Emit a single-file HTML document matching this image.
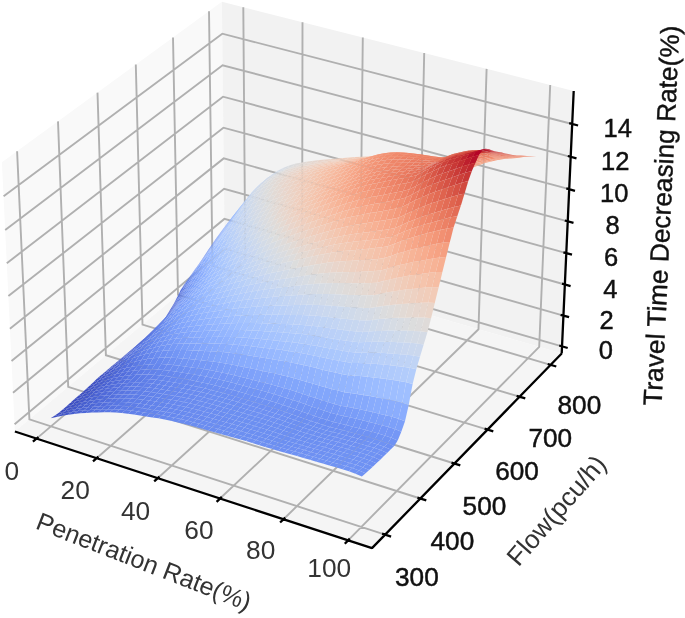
<!DOCTYPE html>
<html><head><meta charset="utf-8"><style>
html,body{margin:0;padding:0;background:#fff;}
svg{display:block;filter:blur(0.45px);}
text{font-family:"Liberation Sans",sans-serif;}
</style></head><body>
<svg width="685" height="618" viewBox="0 0 685 618">
<polygon points="14.9,431.5 224.8,255.6 221.9,1.8 1.9,162.3" fill="#f9f9f9"/>
<polygon points="224.8,255.6 561.7,353.5 573.7,91 221.9,1.8" fill="#f2f2f2"/>
<polygon points="14.9,431.5 372,548.1 561.7,353.5 224.8,255.6" fill="#f5f5f5"/>
<path d="M36.5 438.6L245.3 261.5L243.3 7.2M96.6 458.2L302.1 278L302.5 22.2M157.7 478.2L359.9 294.8L362.8 37.5M220 498.5L418.7 311.9L424.2 53M283.5 519.2L478.5 329.3L486.6 68.9M348.1 540.3L539.2 346.9L550.2 85M17.1 151.2L29.4 419.4L385.1 534.7M58 121.4L68.2 386.8L420.3 498.5M97.5 92.6L105.9 355.2L454.4 463.5M135.8 64.6L142.5 324.6L487.5 429.6M173 37.5L178 294.8L519.5 396.7M209 11.2L212.5 265.9L550.6 364.9M562 346.4L224.8 248.7L14.6 424.2M563.4 315.6L224.4 218.9L13 392.7M564.8 284.5L224.1 188.8L11.5 360.9M566.3 253.1L223.7 158.4L9.9 328.7M567.7 221.3L223.4 127.7L8.4 296.1M569.2 189.2L223 96.7L6.8 263.2M570.7 156.8L222.6 65.3L5.2 229.9M572.2 124L222.3 33.7L3.6 196.2" fill="none" stroke="#b0b0b0" stroke-width="1.9"/>
<path d="M14.9 431.5L372 548.1M38.4 437L32.9 441.7M98.4 456.6L93 461.3M159.5 476.6L154.2 481.4M221.8 496.9L216.6 501.8M285.2 517.6L280.1 522.5M349.8 538.6L344.8 543.7M561.7 353.5L372 548.1M382.1 533.7L391.1 536.6M417.4 497.6L426.3 500.4M451.5 462.6L460.3 465.4M484.6 428.7L493.3 431.4M516.6 395.9L525.3 398.4M547.7 364L556.3 366.5M561.7 353.5L573.7 91M559.2 345.5L567.7 348M560.6 314.8L569.1 317.2M562 283.7L570.6 286.1M563.4 252.3L572 254.7M564.8 220.5L573.5 222.9M566.3 188.4L575 190.8M567.8 156L576.5 158.3M569.2 123.2L578.1 125.5" fill="none" stroke="#000" stroke-width="2.3"/>
<g stroke="rgba(255,255,255,0.0)" stroke-width="0"><path d="M229.1 221.6L234.7 214.3L238.1 210.4L232.5 217.7Z" fill="#81a4fb"/><path d="M225.7 225.8L231.3 218.5L234.7 214.3L229.1 221.6Z" fill="#7ea1fa"/><path d="M234.7 214.3L240.4 207.2L243.8 203.2L238.1 210.4Z" fill="#8db0fe"/><path d="M222.3 230.1L227.9 222.8L231.3 218.5L225.7 225.8Z" fill="#7da0f9"/><path d="M231.3 218.5L237 211.3L240.4 207.2L234.7 214.3Z" fill="#8caffe"/><path d="M218.8 234.7L224.5 227.4L227.9 222.8L222.3 230.1Z" fill="#7a9df8"/><path d="M240.4 207.2L246.1 199.9L249.5 196L243.8 203.2Z" fill="#9bbcff"/><path d="M227.9 222.8L233.5 215.6L237 211.3L231.3 218.5Z" fill="#89acfd"/><path d="M215.4 239.5L221 232.2L224.5 227.4L218.8 234.7Z" fill="#779af7"/><path d="M237 211.3L242.6 204L246.1 199.9L240.4 207.2Z" fill="#9abbff"/><path d="M212 244.5L217.6 237.1L221 232.2L215.4 239.5Z" fill="#7597f6"/><path d="M224.5 227.4L230.1 220.2L233.5 215.6L227.9 222.8Z" fill="#88abfd"/><path d="M246.1 199.9L251.8 193L255.2 189.1L249.5 196Z" fill="#a7c5fe"/><path d="M208.5 249.6L214.2 242.2L217.6 237.1L212 244.5Z" fill="#7093f3"/><path d="M233.5 215.6L239.2 208.3L242.6 204L237 211.3Z" fill="#97b8ff"/><path d="M221 232.2L226.7 225L230.1 220.2L224.5 227.4Z" fill="#85a8fc"/><path d="M205.1 254.8L210.7 247.4L214.2 242.2L208.5 249.6Z" fill="#6e90f2"/><path d="M242.6 204L248.4 197.1L251.8 193L246.1 199.9Z" fill="#a6c4fe"/><path d="M217.6 237.1L223.2 229.9L226.7 225L221 232.2Z" fill="#81a4fb"/><path d="M230.1 220.2L235.8 212.9L239.2 208.3L233.5 215.6Z" fill="#94b6ff"/><path d="M251.8 193L257.5 187.2L260.9 183.4L255.2 189.1Z" fill="#b3cdfb"/><path d="M201.6 260L207.3 252.6L210.7 247.4L205.1 254.8Z" fill="#6a8bef"/><path d="M214.2 242.2L219.8 234.9L223.2 229.9L217.6 237.1Z" fill="#7ea1fa"/><path d="M239.2 208.3L244.9 201.4L248.4 197.1L242.6 204Z" fill="#a3c2fe"/><path d="M226.7 225L232.4 217.7L235.8 212.9L230.1 220.2Z" fill="#92b4fe"/><path d="M198.2 265L203.8 257.5L207.3 252.6L201.6 260Z" fill="#6788ee"/><path d="M248.4 197.1L254.1 191.1L257.5 187.2L251.8 193Z" fill="#b2ccfb"/><path d="M210.7 247.4L216.4 240.1L219.8 234.9L214.2 242.2Z" fill="#7b9ff9"/><path d="M223.2 229.9L228.9 222.6L232.4 217.7L226.7 225Z" fill="#8fb1fe"/><path d="M235.8 212.9L241.5 206L244.9 201.4L239.2 208.3Z" fill="#a2c1ff"/><path d="M257.5 187.2L263.3 182.1L266.7 178.6L260.9 183.4Z" fill="#bcd2f7"/><path d="M194.7 269.8L200.3 262.3L203.8 257.5L198.2 265Z" fill="#6485ec"/><path d="M207.3 252.6L212.9 245.3L216.4 240.1L210.7 247.4Z" fill="#779af7"/><path d="M244.9 201.4L250.7 195.1L254.1 191.1L248.4 197.1Z" fill="#afcafc"/><path d="M219.8 234.9L225.5 227.6L228.9 222.6L223.2 229.9Z" fill="#8caffe"/><path d="M232.4 217.7L238.1 210.7L241.5 206L235.8 212.9Z" fill="#9fbfff"/><path d="M254.1 191.1L259.9 185.5L263.3 182.1L257.5 187.2Z" fill="#bbd1f8"/><path d="M191.2 274.7L196.8 267.2L200.3 262.3L194.7 269.8Z" fill="#6282ea"/><path d="M203.8 257.5L209.4 250.1L212.9 245.3L207.3 252.6Z" fill="#7597f6"/><path d="M216.4 240.1L222 232.8L225.5 227.6L219.8 234.9Z" fill="#88abfd"/><path d="M241.5 206L247.2 199.4L250.7 195.1L244.9 201.4Z" fill="#aec9fc"/><path d="M228.9 222.6L234.6 215.6L238.1 210.7L232.4 217.7Z" fill="#9dbdff"/><path d="M263.3 182.1L269.1 177.5L272.5 174.2L266.7 178.6Z" fill="#c5d6f2"/><path d="M187.7 279.6L193.3 272.1L196.8 267.2L191.2 274.7Z" fill="#5f7fe8"/><path d="M250.7 195.1L256.4 188.6L259.9 185.5L254.1 191.1Z" fill="#bbd1f8"/><path d="M200.3 262.3L205.9 254.9L209.4 250.1L203.8 257.5Z" fill="#7295f4"/><path d="M212.9 245.3L218.6 237.9L222 232.8L216.4 240.1Z" fill="#85a8fc"/><path d="M238.1 210.7L243.8 203.9L247.2 199.4L241.5 206Z" fill="#abc8fd"/><path d="M225.5 227.6L231.2 220.6L234.6 215.6L228.9 222.6Z" fill="#98b9ff"/><path d="M259.9 185.5L265.7 180.3L269.1 177.5L263.3 182.1Z" fill="#c5d6f2"/><path d="M269.1 177.5L274.9 173.5L278.3 170.4L272.5 174.2Z" fill="#ccd9ed"/><path d="M184.2 284.6L189.8 277L193.3 272.1L187.7 279.6Z" fill="#5d7ce6"/><path d="M196.8 267.2L202.5 259.8L205.9 254.9L200.3 262.3Z" fill="#6f92f3"/><path d="M209.4 250.1L215.1 242.7L218.6 237.9L212.9 245.3Z" fill="#82a6fb"/><path d="M247.2 199.4L253 192.3L256.4 188.6L250.7 195.1Z" fill="#b9d0f9"/><path d="M222 232.8L227.7 225.8L231.2 220.6L225.5 227.6Z" fill="#96b7ff"/><path d="M234.6 215.6L240.4 208.6L243.8 203.9L238.1 210.7Z" fill="#a9c6fd"/><path d="M256.4 188.6L262.2 182.5L265.7 180.3L259.9 185.5Z" fill="#c5d6f2"/><path d="M180.7 290L186.3 282.4L189.8 277L184.2 284.6Z" fill="#5977e3"/><path d="M193.3 272.1L199 264.6L202.5 259.8L196.8 267.2Z" fill="#6c8ff1"/><path d="M205.9 254.9L211.6 247.5L215.1 242.7L209.4 250.1Z" fill="#80a3fa"/><path d="M218.6 237.9L224.3 230.8L227.7 225.8L222 232.8Z" fill="#93b5fe"/><path d="M265.7 180.3L271.5 175.9L274.9 173.5L269.1 177.5Z" fill="#ccd9ed"/><path d="M243.8 203.9L249.6 196.3L253 192.3L247.2 199.4Z" fill="#b7cff9"/><path d="M231.2 220.6L236.9 213.4L240.4 208.6L234.6 215.6Z" fill="#a6c4fe"/><path d="M274.9 173.5L280.7 170.4L284.2 167.5L278.3 170.4Z" fill="#d3dbe7"/><path d="M177.3 297L182.8 289.4L186.3 282.4L180.7 290Z" fill="#5572df"/><path d="M189.8 277L195.5 269.5L199 264.6L193.3 272.1Z" fill="#6a8bef"/><path d="M253 192.3L258.8 185.6L262.2 182.5L256.4 188.6Z" fill="#c4d5f3"/><path d="M202.5 259.8L208.1 252.3L211.6 247.5L205.9 254.9Z" fill="#7da0f9"/><path d="M215.1 242.7L220.8 235.7L224.3 230.8L218.6 237.9Z" fill="#8fb1fe"/><path d="M227.7 225.8L233.5 218.5L236.9 213.4L231.2 220.6Z" fill="#a2c1ff"/><path d="M240.4 208.6L246.1 200.5L249.6 196.3L243.8 203.9Z" fill="#b6cefa"/><path d="M173.8 303.8L179.4 296.1L182.8 289.4L177.3 297Z" fill="#4f69d9"/><path d="M262.2 182.5L268.1 177.6L271.5 175.9L265.7 180.3Z" fill="#cdd9ec"/><path d="M271.5 175.9L277.3 172.9L280.7 170.4L274.9 173.5Z" fill="#d3dbe7"/><path d="M280.7 170.4L286.6 168.1L290 165.2L284.2 167.5Z" fill="#d7dce3"/><path d="M186.3 282.4L192 274.9L195.5 269.5L189.8 277Z" fill="#6687ed"/><path d="M199 264.6L204.6 257.2L208.1 252.3L202.5 259.8Z" fill="#7a9df8"/><path d="M211.6 247.5L217.3 240.4L220.8 235.7L215.1 242.7Z" fill="#8caffe"/><path d="M224.3 230.8L230 223.5L233.5 218.5L227.7 225.8Z" fill="#9fbfff"/><path d="M249.6 196.3L255.3 189L258.8 185.6L253 192.3Z" fill="#c4d5f3"/><path d="M170.3 309.6L175.8 302L179.4 296.1L173.8 303.8Z" fill="#4b64d5"/><path d="M236.9 213.4L242.7 204.9L246.1 200.5L240.4 208.6Z" fill="#b3cdfb"/><path d="M182.8 289.4L188.5 281.8L192 274.9L186.3 282.4Z" fill="#6282ea"/><path d="M258.8 185.6L264.6 180.4L268.1 177.6L262.2 182.5Z" fill="#cdd9ec"/><path d="M286.6 168.1L292.5 166.4L295.9 163.6L290 165.2Z" fill="#dbdcde"/><path d="M277.3 172.9L283.2 170.4L286.6 168.1L280.7 170.4Z" fill="#d7dce3"/><path d="M268.1 177.6L273.9 174.4L277.3 172.9L271.5 175.9Z" fill="#d4dbe6"/><path d="M166.7 315.4L172.3 307.9L175.8 302L170.3 309.6Z" fill="#485fd1"/><path d="M195.5 269.5L201.1 262L204.6 257.2L199 264.6Z" fill="#7699f6"/><path d="M208.1 252.3L213.8 245.2L217.3 240.4L211.6 247.5Z" fill="#89acfd"/><path d="M220.8 235.7L226.5 228.4L230 223.5L224.3 230.8Z" fill="#9dbdff"/><path d="M233.5 218.5L239.2 209.8L242.7 204.9L236.9 213.4Z" fill="#b1cbfc"/><path d="M246.1 200.5L251.9 192.6L255.3 189L249.6 196.3Z" fill="#c1d4f4"/><path d="M179.4 296.1L185 288.5L188.5 281.8L182.8 289.4Z" fill="#5d7ce6"/><path d="M163.2 321.3L168.8 313.8L172.3 307.9L166.7 315.4Z" fill="#445acc"/><path d="M192 274.9L197.6 267.3L201.1 262L195.5 269.5Z" fill="#7396f5"/><path d="M255.3 189L261.2 183.4L264.6 180.4L258.8 185.6Z" fill="#cdd9ec"/><path d="M292.5 166.4L298.4 165.2L301.8 162.5L295.9 163.6Z" fill="#dedcdb"/><path d="M217.3 240.4L223 233.3L226.5 228.4L220.8 235.7Z" fill="#9abbff"/><path d="M204.6 257.2L210.3 250L213.8 245.2L208.1 252.3Z" fill="#86a9fc"/><path d="M283.2 170.4L289.1 168.6L292.5 166.4L286.6 168.1Z" fill="#dbdcde"/><path d="M230 223.5L235.7 214.9L239.2 209.8L233.5 218.5Z" fill="#adc9fd"/><path d="M175.8 302L181.5 294.4L185 288.5L179.4 296.1Z" fill="#5875e1"/><path d="M264.6 180.4L270.5 177.1L273.9 174.4L268.1 177.6Z" fill="#d4dbe6"/><path d="M273.9 174.4L279.8 171.9L283.2 170.4L277.3 172.9Z" fill="#d8dce2"/><path d="M242.7 204.9L248.4 196.7L251.9 192.6L246.1 200.5Z" fill="#c0d4f5"/><path d="M159.7 326.2L165.3 319L168.8 313.8L163.2 321.3Z" fill="#4055c8"/><path d="M188.5 281.8L194.1 274.2L197.6 267.3L192 274.9Z" fill="#6f92f3"/><path d="M213.8 245.2L219.5 238.2L223 233.3L217.3 240.4Z" fill="#97b8ff"/><path d="M201.1 262L206.8 254.8L210.3 250L204.6 257.2Z" fill="#84a7fc"/><path d="M172.3 307.9L177.9 300.4L181.5 294.4L175.8 302Z" fill="#5470de"/><path d="M298.4 165.2L304.3 164.2L307.7 161.6L301.8 162.5Z" fill="#e1dad6"/><path d="M226.5 228.4L232.2 220L235.7 214.9L230 223.5Z" fill="#aac7fd"/><path d="M251.9 192.6L257.7 186.7L261.2 183.4L255.3 189Z" fill="#ccd9ed"/><path d="M289.1 168.6L295 167.3L298.4 165.2L292.5 166.4Z" fill="#dfdbd9"/><path d="M239.2 209.8L245 201.4L248.4 196.7L242.7 204.9Z" fill="#bed2f6"/><path d="M185 288.5L190.6 280.9L194.1 274.2L188.5 281.8Z" fill="#6a8bef"/><path d="M261.2 183.4L267 180L270.5 177.1L264.6 180.4Z" fill="#d4dbe6"/><path d="M279.8 171.9L285.7 169.9L289.1 168.6L283.2 170.4Z" fill="#dcdddd"/><path d="M270.5 177.1L276.3 174.5L279.8 171.9L273.9 174.4Z" fill="#d9dce1"/><path d="M156.1 330.1L161.7 323.1L165.3 319L159.7 326.2Z" fill="#3e51c5"/><path d="M168.8 313.8L174.4 306.5L177.9 300.4L172.3 307.9Z" fill="#506bda"/><path d="M197.6 267.3L203.3 260.1L206.8 254.8L201.1 262Z" fill="#81a4fb"/><path d="M210.3 250L216 243.2L219.5 238.2L213.8 245.2Z" fill="#94b6ff"/><path d="M223 233.3L228.8 225.2L232.2 220L226.5 228.4Z" fill="#a7c5fe"/><path d="M304.3 164.2L310.2 163.3L313.6 160.8L307.7 161.6Z" fill="#e4d9d2"/><path d="M181.5 294.4L187.1 286.9L190.6 280.9L185 288.5Z" fill="#6485ec"/><path d="M248.4 196.7L254.2 190.5L257.7 186.7L251.9 192.6Z" fill="#cbd8ee"/><path d="M235.7 214.9L241.5 206.4L245 201.4L239.2 209.8Z" fill="#bbd1f8"/><path d="M295 167.3L300.9 166.2L304.3 164.2L298.4 165.2Z" fill="#e2dad5"/><path d="M285.7 169.9L291.6 168.6L295 167.3L289.1 168.6Z" fill="#e0dbd8"/><path d="M257.7 186.7L263.6 183.2L267 180L261.2 183.4Z" fill="#d4dbe6"/><path d="M165.3 319L170.9 311.8L174.4 306.5L168.8 313.8Z" fill="#4c66d6"/><path d="M194.1 274.2L199.8 266.9L203.3 260.1L197.6 267.3Z" fill="#7da0f9"/><path d="M267 180L272.9 177.3L276.3 174.5L270.5 177.1Z" fill="#d9dce1"/><path d="M276.3 174.5L282.2 172.4L285.7 169.9L279.8 171.9Z" fill="#dddcdc"/><path d="M152.5 333.8L158.1 327L161.7 323.1L156.1 330.1Z" fill="#3d50c3"/><path d="M206.8 254.8L212.5 248.1L216 243.2L210.3 250Z" fill="#90b2fe"/><path d="M219.5 238.2L225.3 230.6L228.8 225.2L223 233.3Z" fill="#a3c2fe"/><path d="M177.9 300.4L183.6 293L187.1 286.9L181.5 294.4Z" fill="#6180e9"/><path d="M310.2 163.3L316.2 162.5L319.5 160.1L313.6 160.8Z" fill="#e6d7cf"/><path d="M232.2 220L238 211.8L241.5 206.4L235.7 214.9Z" fill="#b9d0f9"/><path d="M245 201.4L250.8 195L254.2 190.5L248.4 196.7Z" fill="#cad8ef"/><path d="M190.6 280.9L196.3 273.6L199.8 266.9L194.1 274.2Z" fill="#779af7"/><path d="M300.9 166.2L306.8 165.2L310.2 163.3L304.3 164.2Z" fill="#e4d9d2"/><path d="M161.7 323.1L167.3 316.2L170.9 311.8L165.3 319Z" fill="#4a63d3"/><path d="M291.6 168.6L297.5 167.4L300.9 166.2L295 167.3Z" fill="#e3d9d3"/><path d="M174.4 306.5L180.1 299.2L183.6 293L177.9 300.4Z" fill="#5b7ae5"/><path d="M254.2 190.5L260.1 186.9L263.6 183.2L257.7 186.7Z" fill="#d3dbe7"/><path d="M203.3 260.1L209 253.5L212.5 248.1L206.8 254.8Z" fill="#8db0fe"/><path d="M216 243.2L221.8 236L225.3 230.6L219.5 238.2Z" fill="#a1c0ff"/><path d="M282.2 172.4L288.1 171L291.6 168.6L285.7 169.9Z" fill="#e1dad6"/><path d="M148.9 337L154.5 330.4L158.1 327L152.5 333.8Z" fill="#3d50c3"/><path d="M263.6 183.2L269.4 180.4L272.9 177.3L267 180Z" fill="#d9dce1"/><path d="M228.8 225.2L234.5 217.4L238 211.8L232.2 220Z" fill="#b5cdfa"/><path d="M272.9 177.3L278.8 175.1L282.2 172.4L276.3 174.5Z" fill="#dddcdc"/><path d="M187.1 286.9L192.8 279.6L196.3 273.6L190.6 280.9Z" fill="#7295f4"/><path d="M316.2 162.5L322.1 161.8L325.5 159.4L319.5 160.1Z" fill="#e9d5cb"/><path d="M241.5 206.4L247.3 200.1L250.8 195L245 201.4Z" fill="#c7d7f0"/><path d="M306.8 165.2L312.8 164.3L316.2 162.5L310.2 163.3Z" fill="#e7d7ce"/><path d="M199.8 266.9L205.5 260.3L209 253.5L203.3 260.1Z" fill="#89acfd"/><path d="M170.9 311.8L176.5 304.7L180.1 299.2L174.4 306.5Z" fill="#5875e1"/><path d="M158.1 327L163.7 320.3L167.3 316.2L161.7 323.1Z" fill="#4961d2"/><path d="M212.5 248.1L218.3 241.3L221.8 236L216 243.2Z" fill="#9ebeff"/><path d="M297.5 167.4L303.4 166.2L306.8 165.2L300.9 166.2Z" fill="#e6d7cf"/><path d="M250.8 195L256.6 191.3L260.1 186.9L254.2 190.5Z" fill="#d2dbe8"/><path d="M225.3 230.6L231.1 223.3L234.5 217.4L228.8 225.2Z" fill="#b1cbfc"/><path d="M183.6 293L189.3 285.9L192.8 279.6L187.1 286.9Z" fill="#6e90f2"/><path d="M288.1 171L294.1 169.6L297.5 167.4L291.6 168.6Z" fill="#e4d9d2"/><path d="M238 211.8L243.8 205.5L247.3 200.1L241.5 206.4Z" fill="#c4d5f3"/><path d="M260.1 186.9L266 184L269.4 180.4L263.6 183.2Z" fill="#d8dce2"/><path d="M322.1 161.8L328.1 161.1L331.5 158.9L325.5 159.4Z" fill="#ead4c8"/><path d="M145.2 339.9L150.8 333.5L154.5 330.4L148.9 337Z" fill="#3d50c3"/><path d="M278.8 175.1L284.7 173.5L288.1 171L282.2 172.4Z" fill="#e1dad6"/><path d="M269.4 180.4L275.3 178.1L278.8 175.1L272.9 177.3Z" fill="#dddcdc"/><path d="M196.3 273.6L202 267L205.5 260.3L199.8 266.9Z" fill="#84a7fc"/><path d="M312.8 164.3L318.7 163.5L322.1 161.8L316.2 162.5Z" fill="#ead5c9"/><path d="M167.3 316.2L172.9 309.3L176.5 304.7L170.9 311.8Z" fill="#5572df"/><path d="M209 253.5L214.8 247L218.3 241.3L212.5 248.1Z" fill="#9abbff"/><path d="M180.1 299.2L185.7 292.2L189.3 285.9L183.6 293Z" fill="#688aef"/><path d="M221.8 236L227.6 229.1L231.1 223.3L225.3 230.6Z" fill="#aec9fc"/><path d="M247.3 200.1L253.2 196.3L256.6 191.3L250.8 195Z" fill="#cfdaea"/><path d="M154.5 330.4L160.1 323.9L163.7 320.3L158.1 327Z" fill="#485fd1"/><path d="M303.4 166.2L309.4 165.2L312.8 164.3L306.8 165.2Z" fill="#e8d6cc"/><path d="M234.5 217.4L240.4 211.3L243.8 205.5L238 211.8Z" fill="#c1d4f4"/><path d="M192.8 279.6L198.5 273.2L202 267L196.3 273.6Z" fill="#7ea1fa"/><path d="M328.1 161.1L334.1 160.5L337.4 158.4L331.5 158.9Z" fill="#ecd3c5"/><path d="M294.1 169.6L300 168.4L303.4 166.2L297.5 167.4Z" fill="#e7d7ce"/><path d="M256.6 191.3L262.5 188.3L266 184L260.1 186.9Z" fill="#d7dce3"/><path d="M284.7 173.5L290.6 172.1L294.1 169.6L288.1 171Z" fill="#e4d9d2"/><path d="M205.5 260.3L211.3 254L214.8 247L209 253.5Z" fill="#96b7ff"/><path d="M141.6 342.7L147.2 336.6L150.8 333.5L145.2 339.9Z" fill="#3d50c3"/><path d="M266 184L271.9 181.6L275.3 178.1L269.4 180.4Z" fill="#dddcdc"/><path d="M275.3 178.1L281.3 176.4L284.7 173.5L278.8 175.1Z" fill="#e1dad6"/><path d="M318.7 163.5L324.7 162.7L328.1 161.1L322.1 161.8Z" fill="#ebd3c6"/><path d="M176.5 304.7L182.2 297.9L185.7 292.2L180.1 299.2Z" fill="#6485ec"/><path d="M163.7 320.3L169.4 313.6L172.9 309.3L167.3 316.2Z" fill="#5470de"/><path d="M218.3 241.3L224.1 234.9L227.6 229.1L221.8 236Z" fill="#aac7fd"/><path d="M243.8 205.5L249.7 201.6L253.2 196.3L247.3 200.1Z" fill="#ccd9ed"/><path d="M231.1 223.3L236.9 217.4L240.4 211.3L234.5 217.4Z" fill="#bcd2f7"/><path d="M189.3 285.9L195 279.5L198.5 273.2L192.8 279.6Z" fill="#7a9df8"/><path d="M309.4 165.2L315.4 164.3L318.7 163.5L312.8 164.3Z" fill="#ead4c8"/><path d="M150.8 333.5L156.5 327.2L160.1 323.9L154.5 330.4Z" fill="#485fd1"/><path d="M202 267L207.8 260.9L211.3 254L205.5 260.3Z" fill="#8fb1fe"/><path d="M334.1 160.5L340.1 159.9L343.4 157.9L337.4 158.4Z" fill="#eed0c0"/><path d="M253.2 196.3L259.1 193.1L262.5 188.3L256.6 191.3Z" fill="#d5dbe5"/><path d="M300 168.4L306 167.3L309.4 165.2L303.4 166.2Z" fill="#ead5c9"/><path d="M290.6 172.1L296.6 170.7L300 168.4L294.1 169.6Z" fill="#e7d7ce"/><path d="M214.8 247L220.6 240.9L224.1 234.9L218.3 241.3Z" fill="#a6c4fe"/><path d="M172.9 309.3L178.6 302.7L182.2 297.9L176.5 304.7Z" fill="#6282ea"/><path d="M262.5 188.3L268.4 185.8L271.9 181.6L266 184Z" fill="#dcdddd"/><path d="M324.7 162.7L330.7 162L334.1 160.5L328.1 161.1Z" fill="#edd2c3"/><path d="M240.4 211.3L246.2 207.3L249.7 201.6L243.8 205.5Z" fill="#cad8ef"/><path d="M227.6 229.1L233.4 223.5L236.9 217.4L231.1 223.3Z" fill="#b9d0f9"/><path d="M185.7 292.2L191.5 286L195 279.5L189.3 285.9Z" fill="#7597f6"/><path d="M281.3 176.4L287.2 174.8L290.6 172.1L284.7 173.5Z" fill="#e4d9d2"/><path d="M271.9 181.6L277.8 179.8L281.3 176.4L275.3 178.1Z" fill="#e1dad6"/><path d="M137.9 345.5L143.5 339.7L147.2 336.6L141.6 342.7Z" fill="#3d50c3"/><path d="M160.1 323.9L165.7 317.5L169.4 313.6L163.7 320.3Z" fill="#536edd"/><path d="M198.5 273.2L204.3 267.2L207.8 260.9L202 267Z" fill="#8badfd"/><path d="M315.4 164.3L321.3 163.4L324.7 162.7L318.7 163.5Z" fill="#edd2c3"/><path d="M249.7 201.6L255.6 198.3L259.1 193.1L253.2 196.3Z" fill="#d3dbe7"/><path d="M340.1 159.9L346.1 159.4L349.4 157.5L343.4 157.9Z" fill="#efcebd"/><path d="M211.3 254L217.1 248.1L220.6 240.9L214.8 247Z" fill="#a1c0ff"/><path d="M147.2 336.6L152.8 330.6L156.5 327.2L150.8 333.5Z" fill="#485fd1"/><path d="M306 167.3L312 166.2L315.4 164.3L309.4 165.2Z" fill="#ecd3c5"/><path d="M182.2 297.9L187.9 291.8L191.5 286L185.7 292.2Z" fill="#7093f3"/><path d="M236.9 217.4L242.7 213.3L246.2 207.3L240.4 211.3Z" fill="#c5d6f2"/><path d="M224.1 234.9L229.9 229.4L233.4 223.5L227.6 229.1Z" fill="#b5cdfa"/><path d="M169.4 313.6L175 307.3L178.6 302.7L172.9 309.3Z" fill="#5f7fe8"/><path d="M259.1 193.1L265 190.5L268.4 185.8L262.5 188.3Z" fill="#dadce0"/><path d="M330.7 162L336.7 161.3L340.1 159.9L334.1 160.5Z" fill="#efcfbf"/><path d="M296.6 170.7L302.6 169.5L306 167.3L300 168.4Z" fill="#ead5c9"/><path d="M195 279.5L200.7 273.7L204.3 267.2L198.5 273.2Z" fill="#85a8fc"/><path d="M287.2 174.8L293.2 173.3L296.6 170.7L290.6 172.1Z" fill="#e8d6cc"/><path d="M268.4 185.8L274.4 183.8L277.8 179.8L271.9 181.6Z" fill="#e0dbd8"/><path d="M277.8 179.8L283.8 178.1L287.2 174.8L281.3 176.4Z" fill="#e4d9d2"/><path d="M156.5 327.2L162.1 321L165.7 317.5L160.1 323.9Z" fill="#516ddb"/><path d="M207.8 260.9L213.6 255.1L217.1 248.1L211.3 254Z" fill="#9bbcff"/><path d="M134.2 348.2L139.8 342.7L143.5 339.7L137.9 345.5Z" fill="#3d50c3"/><path d="M321.3 163.4L327.3 162.5L330.7 162L324.7 162.7Z" fill="#eed0c0"/><path d="M246.2 207.3L252.1 203.9L255.6 198.3L249.7 201.6Z" fill="#cfdaea"/><path d="M346.1 159.4L352.1 158.9L355.5 157.1L349.4 157.5Z" fill="#f1cdba"/><path d="M233.4 223.5L239.2 219.4L242.7 213.3L236.9 217.4Z" fill="#c1d4f4"/><path d="M220.6 240.9L226.4 235.5L229.9 229.4L224.1 234.9Z" fill="#b1cbfc"/><path d="M178.6 302.7L184.3 296.8L187.9 291.8L182.2 297.9Z" fill="#6c8ff1"/><path d="M191.5 286L197.2 280.3L200.7 273.7L195 279.5Z" fill="#80a3fa"/><path d="M312 166.2L317.9 165.2L321.3 163.4L315.4 164.3Z" fill="#edd1c2"/><path d="M143.5 339.7L149.2 334L152.8 330.6L147.2 336.6Z" fill="#465ecf"/><path d="M255.6 198.3L261.5 195.6L265 190.5L259.1 193.1Z" fill="#d8dce2"/><path d="M165.7 317.5L171.4 311.3L175 307.3L169.4 313.6Z" fill="#5e7de7"/><path d="M336.7 161.3L342.7 160.6L346.1 159.4L340.1 159.9Z" fill="#f0cdbb"/><path d="M204.3 267.2L210 261.5L213.6 255.1L207.8 260.9Z" fill="#96b7ff"/><path d="M302.6 169.5L308.5 168.3L312 166.2L306 167.3Z" fill="#ecd3c5"/><path d="M265 190.5L270.9 188.4L274.4 183.8L268.4 185.8Z" fill="#dedcdb"/><path d="M242.7 213.3L248.6 209.8L252.1 203.9L246.2 207.3Z" fill="#ccd9ed"/><path d="M293.2 173.3L299.1 172L302.6 169.5L296.6 170.7Z" fill="#ead4c8"/><path d="M274.4 183.8L280.3 182L283.8 178.1L277.8 179.8Z" fill="#e3d9d3"/><path d="M217.1 248.1L222.9 242.8L226.4 235.5L220.6 240.9Z" fill="#abc8fd"/><path d="M283.8 178.1L289.7 176.5L293.2 173.3L287.2 174.8Z" fill="#e8d6cc"/><path d="M229.9 229.4L235.7 225.2L239.2 219.4L233.4 223.5Z" fill="#bed2f6"/><path d="M327.3 162.5L333.4 161.7L336.7 161.3L330.7 162Z" fill="#f0cdbb"/><path d="M152.8 330.6L158.5 324.7L162.1 321L156.5 327.2Z" fill="#516ddb"/><path d="M352.1 158.9L358.2 158.4L361.5 156.7L355.5 157.1Z" fill="#f2cbb7"/><path d="M187.9 291.8L193.7 286.2L197.2 280.3L191.5 286Z" fill="#7b9ff9"/><path d="M130.5 351L136.2 345.8L139.8 342.7L134.2 348.2Z" fill="#3e51c5"/><path d="M175 307.3L180.8 301.6L184.3 296.8L178.6 302.7Z" fill="#6a8bef"/><path d="M200.7 273.7L206.5 268.2L210 261.5L204.3 267.2Z" fill="#90b2fe"/><path d="M252.1 203.9L258 201.1L261.5 195.6L255.6 198.3Z" fill="#d5dbe5"/><path d="M317.9 165.2L323.9 164.2L327.3 162.5L321.3 163.4Z" fill="#efcebd"/><path d="M342.7 160.6L348.8 160L352.1 158.9L346.1 159.4Z" fill="#f1ccb8"/><path d="M213.6 255.1L219.4 249.8L222.9 242.8L217.1 248.1Z" fill="#a5c3fe"/><path d="M239.2 219.4L245.1 215.8L248.6 209.8L242.7 213.3Z" fill="#c9d7f0"/><path d="M139.8 342.7L145.5 337.4L149.2 334L143.5 339.7Z" fill="#465ecf"/><path d="M162.1 321L167.8 315.1L171.4 311.3L165.7 317.5Z" fill="#5d7ce6"/><path d="M261.5 195.6L267.4 193.4L270.9 188.4L265 190.5Z" fill="#dcdddd"/><path d="M308.5 168.3L314.5 167.1L317.9 165.2L312 166.2Z" fill="#eed0c0"/><path d="M226.4 235.5L232.2 231.2L235.7 225.2L229.9 229.4Z" fill="#bad0f8"/><path d="M299.1 172L305.1 170.6L308.5 168.3L302.6 169.5Z" fill="#edd2c3"/><path d="M270.9 188.4L276.8 186.5L280.3 182L274.4 183.8Z" fill="#e2dad5"/><path d="M184.3 296.8L190.1 291.5L193.7 286.2L187.9 291.8Z" fill="#779af7"/><path d="M333.4 161.7L339.4 160.9L342.7 160.6L336.7 161.3Z" fill="#f1ccb8"/><path d="M197.2 280.3L203 274.9L206.5 268.2L200.7 273.7Z" fill="#8badfd"/><path d="M289.7 176.5L295.7 174.9L299.1 172L293.2 173.3Z" fill="#ead4c8"/><path d="M280.3 182L286.3 180.2L289.7 176.5L283.8 178.1Z" fill="#e7d7ce"/><path d="M358.2 158.4L364.2 158L367.5 156.5L361.5 156.7Z" fill="#f2c9b4"/><path d="M149.2 334L154.8 328.4L158.5 324.7L152.8 330.6Z" fill="#516ddb"/><path d="M248.6 209.8L254.5 206.9L258 201.1L252.1 203.9Z" fill="#d2dbe8"/><path d="M210 261.5L215.8 256.4L219.4 249.8L213.6 255.1Z" fill="#9fbfff"/><path d="M171.4 311.3L177.2 305.9L180.8 301.6L175 307.3Z" fill="#688aef"/><path d="M126.8 353.8L132.5 348.9L136.2 345.8L130.5 351Z" fill="#3e51c5"/><path d="M235.7 225.2L241.6 221.5L245.1 215.8L239.2 219.4Z" fill="#c5d6f2"/><path d="M323.9 164.2L330 163.2L333.4 161.7L327.3 162.5Z" fill="#f1ccb8"/><path d="M222.9 242.8L228.7 238.3L232.2 231.2L226.4 235.5Z" fill="#b5cdfa"/><path d="M348.8 160L354.8 159.4L358.2 158.4L352.1 158.9Z" fill="#f2c9b4"/><path d="M258 201.1L263.9 198.8L267.4 193.4L261.5 195.6Z" fill="#dadce0"/><path d="M314.5 167.1L320.5 166L323.9 164.2L317.9 165.2Z" fill="#f0cdbb"/><path d="M158.5 324.7L164.2 319L167.8 315.1L162.1 321Z" fill="#5b7ae5"/><path d="M193.7 286.2L199.4 281L203 274.9L197.2 280.3Z" fill="#86a9fc"/><path d="M136.2 345.8L141.8 340.7L145.5 337.4L139.8 342.7Z" fill="#465ecf"/><path d="M267.4 193.4L273.4 191.3L276.8 186.5L270.9 188.4Z" fill="#e0dbd8"/><path d="M180.8 301.6L186.5 296.5L190.1 291.5L184.3 296.8Z" fill="#7597f6"/><path d="M245.1 215.8L251 212.7L254.5 206.9L248.6 209.8Z" fill="#cedaeb"/><path d="M206.5 268.2L212.3 263.1L215.8 256.4L210 261.5Z" fill="#9bbcff"/><path d="M305.1 170.6L311.1 169.3L314.5 167.1L308.5 168.3Z" fill="#efcfbf"/><path d="M339.4 160.9L345.4 160.1L348.8 160L342.7 160.6Z" fill="#f2c9b4"/><path d="M364.2 158L370.3 157.7L373.6 156.3L367.5 156.5Z" fill="#f3c7b1"/><path d="M276.8 186.5L282.8 184.6L286.3 180.2L280.3 182Z" fill="#e6d7cf"/><path d="M219.4 249.8L225.2 245.3L228.7 238.3L222.9 242.8Z" fill="#aec9fc"/><path d="M295.7 174.9L301.7 173.5L305.1 170.6L299.1 172Z" fill="#edd2c3"/><path d="M286.3 180.2L292.2 178.6L295.7 174.9L289.7 176.5Z" fill="#ead5c9"/><path d="M232.2 231.2L238.1 227.4L241.6 221.5L235.7 225.2Z" fill="#c1d4f4"/><path d="M145.5 337.4L151.2 332L154.8 328.4L149.2 334Z" fill="#506bda"/><path d="M167.8 315.1L173.5 309.9L177.2 305.9L171.4 311.3Z" fill="#6788ee"/><path d="M254.5 206.9L260.4 204.4L263.9 198.8L258 201.1Z" fill="#d7dce3"/><path d="M330 163.2L336 162.3L339.4 160.9L333.4 161.7Z" fill="#f2cab5"/><path d="M354.8 159.4L360.9 158.9L364.2 158L358.2 158.4Z" fill="#f3c7b1"/><path d="M123.1 356.7L128.8 352.1L132.5 348.9L126.8 353.8Z" fill="#3e51c5"/><path d="M190.1 291.5L195.9 286.5L199.4 281L193.7 286.2Z" fill="#82a6fb"/><path d="M203 274.9L208.8 270L212.3 263.1L206.5 268.2Z" fill="#96b7ff"/><path d="M263.9 198.8L269.9 196.6L273.4 191.3L267.4 193.4Z" fill="#dedcdb"/><path d="M241.6 221.5L247.5 218.3L251 212.7L245.1 215.8Z" fill="#cbd8ee"/><path d="M320.5 166L326.6 164.9L330 163.2L323.9 164.2Z" fill="#f2cbb7"/><path d="M215.8 256.4L221.7 251.8L225.2 245.3L219.4 249.8Z" fill="#a9c6fd"/><path d="M154.8 328.4L160.5 323.1L164.2 319L158.5 324.7Z" fill="#5a78e4"/><path d="M177.2 305.9L182.9 300.9L186.5 296.5L180.8 301.6Z" fill="#7396f5"/><path d="M228.7 238.3L234.6 234.4L238.1 227.4L232.2 231.2Z" fill="#bcd2f7"/><path d="M370.3 157.7L376.4 157.5L379.7 156.2L373.6 156.3Z" fill="#f4c5ad"/><path d="M132.5 348.9L138.2 344.1L141.8 340.7L136.2 345.8Z" fill="#465ecf"/><path d="M345.4 160.1L351.5 159.4L354.8 159.4L348.8 160Z" fill="#f3c7b1"/><path d="M273.4 191.3L279.3 189.3L282.8 184.6L276.8 186.5Z" fill="#e4d9d2"/><path d="M311.1 169.3L317.1 168L320.5 166L314.5 167.1Z" fill="#f1cdba"/><path d="M282.8 184.6L288.8 182.8L292.2 178.6L286.3 180.2Z" fill="#e9d5cb"/><path d="M301.7 173.5L307.7 172L311.1 169.3L305.1 170.6Z" fill="#efcfbf"/><path d="M251 212.7L256.9 210.1L260.4 204.4L254.5 206.9Z" fill="#d4dbe6"/><path d="M292.2 178.6L298.2 177L301.7 173.5L295.7 174.9Z" fill="#edd2c3"/><path d="M199.4 281L205.2 276.2L208.8 270L203 274.9Z" fill="#90b2fe"/><path d="M164.2 319L169.9 314.1L173.5 309.9L167.8 315.1Z" fill="#6687ed"/><path d="M141.8 340.7L147.5 335.7L151.2 332L145.5 337.4Z" fill="#506bda"/><path d="M360.9 158.9L367 158.4L370.3 157.7L364.2 158Z" fill="#f4c5ad"/><path d="M336 162.3L342.1 161.4L345.4 160.1L339.4 160.9Z" fill="#f3c7b1"/><path d="M212.3 263.1L218.2 258.6L221.7 251.8L215.8 256.4Z" fill="#a5c3fe"/><path d="M186.5 296.5L192.3 291.7L195.9 286.5L190.1 291.5Z" fill="#80a3fa"/><path d="M238.1 227.4L244 224.1L247.5 218.3L241.6 221.5Z" fill="#c7d7f0"/><path d="M225.2 245.3L231.1 241.3L234.6 234.4L228.7 238.3Z" fill="#b7cff9"/><path d="M260.4 204.4L266.4 202.1L269.9 196.6L263.9 198.8Z" fill="#dbdcde"/><path d="M119.4 359.7L125.1 355.4L128.8 352.1L123.1 356.7Z" fill="#3e51c5"/><path d="M326.6 164.9L332.6 163.8L336 162.3L330 163.2Z" fill="#f3c8b2"/><path d="M376.4 157.5L382.5 157.4L385.8 156.2L379.7 156.2Z" fill="#f5c2aa"/><path d="M151.2 332L156.9 327L160.5 323.1L154.8 328.4Z" fill="#5a78e4"/><path d="M173.5 309.9L179.3 305.1L182.9 300.9L177.2 305.9Z" fill="#7093f3"/><path d="M269.9 196.6L275.8 194.5L279.3 189.3L273.4 191.3Z" fill="#e2dad5"/><path d="M351.5 159.4L357.6 158.7L360.9 158.9L354.8 159.4Z" fill="#f4c5ad"/><path d="M247.5 218.3L253.4 215.6L256.9 210.1L251 212.7Z" fill="#d1dae9"/><path d="M317.1 168L323.2 166.7L326.6 164.9L320.5 166Z" fill="#f2cab5"/><path d="M128.8 352.1L134.5 347.6L138.2 344.1L132.5 348.9Z" fill="#465ecf"/><path d="M279.3 189.3L285.3 187.4L288.8 182.8L282.8 184.6Z" fill="#e8d6cc"/><path d="M195.9 286.5L201.7 281.8L205.2 276.2L199.4 281Z" fill="#8caffe"/><path d="M208.8 270L214.6 265.5L218.2 258.6L212.3 263.1Z" fill="#9ebeff"/><path d="M221.7 251.8L227.6 247.8L231.1 241.3L225.2 245.3Z" fill="#b2ccfb"/><path d="M307.7 172L313.7 170.6L317.1 168L311.1 169.3Z" fill="#f1cdba"/><path d="M234.6 234.4L240.5 230.9L244 224.1L238.1 227.4Z" fill="#c4d5f3"/><path d="M288.8 182.8L294.8 181L298.2 177L292.2 178.6Z" fill="#ecd3c5"/><path d="M367 158.4L373.1 158.1L376.4 157.5L370.3 157.7Z" fill="#f5c2aa"/><path d="M298.2 177L304.2 175.3L307.7 172L301.7 173.5Z" fill="#efcfbf"/><path d="M160.5 323.1L166.3 318.4L169.9 314.1L164.2 319Z" fill="#6485ec"/><path d="M256.9 210.1L262.9 207.7L266.4 202.1L260.4 204.4Z" fill="#d8dce2"/><path d="M182.9 300.9L188.7 296.3L192.3 291.7L186.5 296.5Z" fill="#7da0f9"/><path d="M342.1 161.4L348.1 160.5L351.5 159.4L345.4 160.1Z" fill="#f4c5ad"/><path d="M138.2 344.1L143.9 339.4L147.5 335.7L141.8 340.7Z" fill="#4f69d9"/><path d="M382.5 157.4L388.6 157.2L391.9 156.2L385.8 156.2Z" fill="#f5c0a7"/><path d="M266.4 202.1L272.3 199.9L275.8 194.5L269.9 196.6Z" fill="#dfdbd9"/><path d="M332.6 163.8L338.7 162.7L342.1 161.4L336 162.3Z" fill="#f4c6af"/><path d="M244 224.1L249.9 221.2L253.4 215.6L247.5 218.3Z" fill="#cdd9ec"/><path d="M205.2 276.2L211.1 271.9L214.6 265.5L208.8 270Z" fill="#9abbff"/><path d="M115.7 362.9L121.3 358.8L125.1 355.4L119.4 359.7Z" fill="#3e51c5"/><path d="M357.6 158.7L363.7 158.1L367 158.4L360.9 158.9Z" fill="#f5c1a9"/><path d="M169.9 314.1L175.7 309.6L179.3 305.1L173.5 309.9Z" fill="#6f92f3"/><path d="M218.2 258.6L224 254.6L227.6 247.8L221.7 251.8Z" fill="#adc9fd"/><path d="M231.1 241.3L237 237.7L240.5 230.9L234.6 234.4Z" fill="#bed2f6"/><path d="M147.5 335.7L153.2 331L156.9 327L151.2 332Z" fill="#5977e3"/><path d="M192.3 291.7L198.1 287.2L201.7 281.8L195.9 286.5Z" fill="#88abfd"/><path d="M275.8 194.5L281.8 192.4L285.3 187.4L279.3 189.3Z" fill="#e5d8d1"/><path d="M323.2 166.7L329.2 165.5L332.6 163.8L326.6 164.9Z" fill="#f3c7b1"/><path d="M125.1 355.4L130.8 351.2L134.5 347.6L128.8 352.1Z" fill="#465ecf"/><path d="M253.4 215.6L259.4 213.1L262.9 207.7L256.9 210.1Z" fill="#d5dbe5"/><path d="M373.1 158.1L379.2 157.8L382.5 157.4L376.4 157.5Z" fill="#f5c0a7"/><path d="M285.3 187.4L291.3 185.6L294.8 181L288.8 182.8Z" fill="#ead4c8"/><path d="M313.7 170.6L319.7 169.1L323.2 166.7L317.1 168Z" fill="#f2c9b4"/><path d="M294.8 181L300.8 179.3L304.2 175.3L298.2 177Z" fill="#eed0c0"/><path d="M348.1 160.5L354.2 159.6L357.6 158.7L351.5 159.4Z" fill="#f5c1a9"/><path d="M304.2 175.3L310.3 173.7L313.7 170.6L307.7 172Z" fill="#f1cdba"/><path d="M179.3 305.1L185.1 300.7L188.7 296.3L182.9 300.9Z" fill="#7a9df8"/><path d="M156.9 327L162.7 322.6L166.3 318.4L160.5 323.1Z" fill="#6384eb"/><path d="M240.5 230.9L246.4 228L249.9 221.2L244 224.1Z" fill="#cad8ef"/><path d="M262.9 207.7L268.9 205.4L272.3 199.9L266.4 202.1Z" fill="#dcdddd"/><path d="M214.6 265.5L220.5 261.6L224 254.6L218.2 258.6Z" fill="#a7c5fe"/><path d="M134.5 347.6L140.2 343.3L143.9 339.4L138.2 344.1Z" fill="#4f69d9"/><path d="M388.6 157.2L394.7 157L398 156.1L391.9 156.2Z" fill="#f6bea4"/><path d="M227.6 247.8L233.5 244.2L237 237.7L231.1 241.3Z" fill="#bad0f8"/><path d="M201.7 281.8L207.5 277.7L211.1 271.9L205.2 276.2Z" fill="#96b7ff"/><path d="M338.7 162.7L344.8 161.6L348.1 160.5L342.1 161.4Z" fill="#f5c2aa"/><path d="M363.7 158.1L369.8 157.6L373.1 158.1L367 158.4Z" fill="#f6bfa6"/><path d="M166.3 318.4L172.1 314.2L175.7 309.6L169.9 314.1Z" fill="#6e90f2"/><path d="M188.7 296.3L194.5 292L198.1 287.2L192.3 291.7Z" fill="#85a8fc"/><path d="M272.3 199.9L278.3 197.8L281.8 192.4L275.8 194.5Z" fill="#e3d9d3"/><path d="M143.9 339.4L149.6 335.1L153.2 331L147.5 335.7Z" fill="#5875e1"/><path d="M111.9 366L117.6 362.2L121.3 358.8L115.7 362.9Z" fill="#3e51c5"/><path d="M249.9 221.2L255.9 218.6L259.4 213.1L253.4 215.6Z" fill="#d3dbe7"/><path d="M329.2 165.5L335.3 164.2L338.7 162.7L332.6 163.8Z" fill="#f5c4ac"/><path d="M379.2 157.8L385.3 157.4L388.6 157.2L382.5 157.4Z" fill="#f6bea4"/><path d="M281.8 192.4L287.8 190.5L291.3 185.6L285.3 187.4Z" fill="#e9d5cb"/><path d="M237 237.7L242.9 234.6L246.4 228L240.5 230.9Z" fill="#c5d6f2"/><path d="M211.1 271.9L217 268L220.5 261.6L214.6 265.5Z" fill="#a2c1ff"/><path d="M224 254.6L229.9 251.1L233.5 244.2L227.6 247.8Z" fill="#b5cdfa"/><path d="M121.3 358.8L127.1 354.8L130.8 351.2L125.1 355.4Z" fill="#455cce"/><path d="M319.7 169.1L325.8 167.7L329.2 165.5L323.2 166.7Z" fill="#f4c6af"/><path d="M291.3 185.6L297.3 183.7L300.8 179.3L294.8 181Z" fill="#edd1c2"/><path d="M354.2 159.6L360.3 158.8L363.7 158.1L357.6 158.7Z" fill="#f6bfa6"/><path d="M175.7 309.6L181.5 305.4L185.1 300.7L179.3 305.1Z" fill="#799cf8"/><path d="M259.4 213.1L265.4 210.7L268.9 205.4L262.9 207.7Z" fill="#dadce0"/><path d="M153.2 331L159 326.9L162.7 322.6L156.9 327Z" fill="#6282ea"/><path d="M198.1 287.2L204 283.3L207.5 277.7L201.7 281.8Z" fill="#92b4fe"/><path d="M300.8 179.3L306.8 177.6L310.3 173.7L304.2 175.3Z" fill="#f1cdba"/><path d="M310.3 173.7L316.3 172.1L319.7 169.1L313.7 170.6Z" fill="#f2c9b4"/><path d="M394.7 157L400.9 156.9L404.1 156.1L398 156.1Z" fill="#f6bda2"/><path d="M130.8 351.2L136.5 347.1L140.2 343.3L134.5 347.6Z" fill="#4e68d8"/><path d="M268.9 205.4L274.8 203.1L278.3 197.8L272.3 199.9Z" fill="#e0dbd8"/><path d="M369.8 157.6L375.9 157.1L379.2 157.8L373.1 158.1Z" fill="#f6bda2"/><path d="M344.8 161.6L350.8 160.5L354.2 159.6L348.1 160.5Z" fill="#f6bfa6"/><path d="M246.4 228L252.4 225.1L255.9 218.6L249.9 221.2Z" fill="#cedaeb"/><path d="M185.1 300.7L190.9 296.6L194.5 292L188.7 296.3Z" fill="#84a7fc"/><path d="M162.7 322.6L168.4 318.7L172.1 314.2L166.3 318.4Z" fill="#6b8df0"/><path d="M233.5 244.2L239.4 241.1L242.9 234.6L237 237.7Z" fill="#c0d4f5"/><path d="M220.5 261.6L226.4 258L229.9 251.1L224 254.6Z" fill="#afcafc"/><path d="M207.5 277.7L213.4 274L217 268L211.1 271.9Z" fill="#9ebeff"/><path d="M385.3 157.4L391.4 157.1L394.7 157L388.6 157.2Z" fill="#f7bca1"/><path d="M278.3 197.8L284.3 195.7L287.8 190.5L281.8 192.4Z" fill="#e7d7ce"/><path d="M140.2 343.3L145.9 339.2L149.6 335.1L143.9 339.4Z" fill="#5673e0"/><path d="M335.3 164.2L341.4 162.9L344.8 161.6L338.7 162.7Z" fill="#f5c0a7"/><path d="M108.2 369.2L113.9 365.6L117.6 362.2L111.9 366Z" fill="#3e51c5"/><path d="M255.9 218.6L261.8 216L265.4 210.7L259.4 213.1Z" fill="#d7dce3"/><path d="M287.8 190.5L293.8 188.5L297.3 183.7L291.3 185.6Z" fill="#ecd3c5"/><path d="M360.3 158.8L366.4 158L369.8 157.6L363.7 158.1Z" fill="#f7bca1"/><path d="M194.5 292L200.4 288.2L204 283.3L198.1 287.2Z" fill="#8fb1fe"/><path d="M172.1 314.2L177.9 310.3L181.5 305.4L175.7 309.6Z" fill="#7699f6"/><path d="M400.9 156.9L407 157L410.3 156.3L404.1 156.1Z" fill="#f7ba9f"/><path d="M325.8 167.7L331.9 166.2L335.3 164.2L329.2 165.5Z" fill="#f5c2aa"/><path d="M117.6 362.2L123.3 358.5L127.1 354.8L121.3 358.8Z" fill="#455cce"/><path d="M149.6 335.1L155.3 331.3L159 326.9L153.2 331Z" fill="#6180e9"/><path d="M297.3 183.7L303.3 181.8L306.8 177.6L300.8 179.3Z" fill="#efcebd"/><path d="M242.9 234.6L248.8 231.7L252.4 225.1L246.4 228Z" fill="#cbd8ee"/><path d="M316.3 172.1L322.4 170.5L325.8 167.7L319.7 169.1Z" fill="#f4c6af"/><path d="M306.8 177.6L312.9 175.8L316.3 172.1L310.3 173.7Z" fill="#f2cab5"/><path d="M265.4 210.7L271.3 208.3L274.8 203.1L268.9 205.4Z" fill="#dedcdb"/><path d="M229.9 251.1L235.8 248L239.4 241.1L233.5 244.2Z" fill="#bbd1f8"/><path d="M217 268L222.9 264.6L226.4 258L220.5 261.6Z" fill="#aac7fd"/><path d="M375.9 157.1L382 156.5L385.3 157.4L379.2 157.8Z" fill="#f7ba9f"/><path d="M127.1 354.8L132.8 351L136.5 347.1L130.8 351.2Z" fill="#4c66d6"/><path d="M350.8 160.5L357 159.5L360.3 158.8L354.2 159.6Z" fill="#f7bca1"/><path d="M181.5 305.4L187.3 301.5L190.9 296.6L185.1 300.7Z" fill="#81a4fb"/><path d="M204 283.3L209.8 279.7L213.4 274L207.5 277.7Z" fill="#9abbff"/><path d="M159 326.9L164.8 323.2L168.4 318.7L162.7 322.6Z" fill="#6a8bef"/><path d="M274.8 203.1L280.8 200.9L284.3 195.7L278.3 197.8Z" fill="#e4d9d2"/><path d="M391.4 157.1L397.6 156.9L400.9 156.9L394.7 157Z" fill="#f7b99e"/><path d="M252.4 225.1L258.3 222.4L261.8 216L255.9 218.6Z" fill="#d4dbe6"/><path d="M136.5 347.1L142.2 343.3L145.9 339.2L140.2 343.3Z" fill="#5572df"/><path d="M341.4 162.9L347.5 161.7L350.8 160.5L344.8 161.6Z" fill="#f6bda2"/><path d="M284.3 195.7L290.4 193.6L293.8 188.5L287.8 190.5Z" fill="#ead4c8"/><path d="M407 157L413.2 157.3L416.4 156.7L410.3 156.3Z" fill="#f7b89c"/><path d="M239.4 241.1L245.3 238.1L248.8 231.7L242.9 234.6Z" fill="#c6d6f1"/><path d="M190.9 296.6L196.8 292.9L200.4 288.2L194.5 292Z" fill="#8caffe"/><path d="M226.4 258L232.3 255L235.8 248L229.9 251.1Z" fill="#b6cefa"/><path d="M366.4 158L372.6 157.3L375.9 157.1L369.8 157.6Z" fill="#f7b99e"/><path d="M168.4 318.7L174.2 315L177.9 310.3L172.1 314.2Z" fill="#7396f5"/><path d="M104.4 372.4L110.1 369.1L113.9 365.6L108.2 369.2Z" fill="#3d50c3"/><path d="M213.4 274L219.3 270.7L222.9 264.6L217 268Z" fill="#a5c3fe"/><path d="M293.8 188.5L299.9 186.5L303.3 181.8L297.3 183.7Z" fill="#efcfbf"/><path d="M331.9 166.2L338 164.7L341.4 162.9L335.3 164.2Z" fill="#f6bfa6"/><path d="M261.8 216L267.8 213.5L271.3 208.3L265.4 210.7Z" fill="#dbdcde"/><path d="M145.9 339.2L151.7 335.7L155.3 331.3L149.6 335.1Z" fill="#5e7de7"/><path d="M113.9 365.6L119.6 362.1L123.3 358.5L117.6 362.2Z" fill="#445acc"/><path d="M303.3 181.8L309.4 180L312.9 175.8L306.8 177.6Z" fill="#f2cbb7"/><path d="M322.4 170.5L328.4 168.9L331.9 166.2L325.8 167.7Z" fill="#f5c2aa"/><path d="M382 156.5L388.2 156L391.4 157.1L385.3 157.4Z" fill="#f7b89c"/><path d="M312.9 175.8L318.9 174.1L322.4 170.5L316.3 172.1Z" fill="#f4c6af"/><path d="M200.4 288.2L206.2 284.7L209.8 279.7L204 283.3Z" fill="#96b7ff"/><path d="M177.9 310.3L183.7 306.7L187.3 301.5L181.5 305.4Z" fill="#7ea1fa"/><path d="M248.8 231.7L254.8 228.8L258.3 222.4L252.4 225.1Z" fill="#cfdaea"/><path d="M271.3 208.3L277.3 206L280.8 200.9L274.8 203.1Z" fill="#e2dad5"/><path d="M357 159.5L363.1 158.5L366.4 158L360.3 158.8Z" fill="#f7b99e"/><path d="M397.6 156.9L403.7 156.9L407 157L400.9 156.9Z" fill="#f7b79b"/><path d="M123.3 358.5L129.1 354.9L132.8 351L127.1 354.8Z" fill="#4c66d6"/><path d="M155.3 331.3L161.1 327.9L164.8 323.2L159 326.9Z" fill="#6788ee"/><path d="M235.8 248L241.8 245L245.3 238.1L239.4 241.1Z" fill="#c1d4f4"/><path d="M222.9 264.6L228.8 261.6L232.3 255L226.4 258Z" fill="#b1cbfc"/><path d="M413.2 157.3L419.3 158L422.6 157.5L416.4 156.7Z" fill="#f7b79b"/><path d="M280.8 200.9L286.9 198.8L290.4 193.6L284.3 195.7Z" fill="#e8d6cc"/><path d="M132.8 351L138.5 347.5L142.2 343.3L136.5 347.1Z" fill="#5470de"/><path d="M209.8 279.7L215.7 276.6L219.3 270.7L213.4 274Z" fill="#a1c0ff"/><path d="M347.5 161.7L353.6 160.4L357 159.5L350.8 160.5Z" fill="#f7b99e"/><path d="M187.3 301.5L193.2 298.1L196.8 292.9L190.9 296.6Z" fill="#89acfd"/><path d="M372.6 157.3L378.7 156.5L382 156.5L375.9 157.1Z" fill="#f7b599"/><path d="M164.8 323.2L170.6 319.9L174.2 315L168.4 318.7Z" fill="#7295f4"/><path d="M258.3 222.4L264.3 219.8L267.8 213.5L261.8 216Z" fill="#d9dce1"/><path d="M290.4 193.6L296.4 191.5L299.9 186.5L293.8 188.5Z" fill="#edd1c2"/><path d="M100.7 375.5L106.4 372.6L110.1 369.1L104.4 372.4Z" fill="#3d50c3"/><path d="M245.3 238.1L251.3 235.2L254.8 228.8L248.8 231.7Z" fill="#ccd9ed"/><path d="M142.2 343.3L148 340.1L151.7 335.7L145.9 339.2Z" fill="#5d7ce6"/><path d="M338 164.7L344.1 163.2L347.5 161.7L341.4 162.9Z" fill="#f7bca1"/><path d="M388.2 156L394.3 155.6L397.6 156.9L391.4 157.1Z" fill="#f7b497"/><path d="M299.9 186.5L305.9 184.6L309.4 180L303.3 181.8Z" fill="#f1cdba"/><path d="M232.3 255L238.3 252.1L241.8 245L235.8 248Z" fill="#bcd2f7"/><path d="M196.8 292.9L202.7 289.7L206.2 284.7L200.4 288.2Z" fill="#93b5fe"/><path d="M110.1 369.1L115.9 365.9L119.6 362.1L113.9 365.6Z" fill="#445acc"/><path d="M267.8 213.5L273.8 211L277.3 206L271.3 208.3Z" fill="#e0dbd8"/><path d="M174.2 315L180.1 311.7L183.7 306.7L177.9 310.3Z" fill="#7b9ff9"/><path d="M219.3 270.7L225.2 267.9L228.8 261.6L222.9 264.6Z" fill="#abc8fd"/><path d="M309.4 180L315.5 178.1L318.9 174.1L312.9 175.8Z" fill="#f3c7b1"/><path d="M403.7 156.9L409.9 157.1L413.2 157.3L407 157Z" fill="#f7b599"/><path d="M328.4 168.9L334.5 167.2L338 164.7L331.9 166.2Z" fill="#f6bea4"/><path d="M318.9 174.1L325 172.3L328.4 168.9L322.4 170.5Z" fill="#f5c2aa"/><path d="M363.1 158.5L369.2 157.5L372.6 157.3L366.4 158Z" fill="#f7b599"/><path d="M419.3 158L425.5 159L428.7 158.6L422.6 157.5Z" fill="#f7b599"/><path d="M151.7 335.7L157.5 332.5L161.1 327.9L155.3 331.3Z" fill="#6687ed"/><path d="M119.6 362.1L125.3 358.8L129.1 354.9L123.3 358.5Z" fill="#4b64d5"/><path d="M277.3 206L283.4 203.7L286.9 198.8L280.8 200.9Z" fill="#e6d7cf"/><path d="M254.8 228.8L260.8 226.1L264.3 219.8L258.3 222.4Z" fill="#d5dbe5"/><path d="M206.2 284.7L212.1 281.8L215.7 276.6L209.8 279.7Z" fill="#9ebeff"/><path d="M183.7 306.7L189.6 303.5L193.2 298.1L187.3 301.5Z" fill="#86a9fc"/><path d="M241.8 245L247.8 242.2L251.3 235.2L245.3 238.1Z" fill="#c7d7f0"/><path d="M161.1 327.9L167 324.8L170.6 319.9L164.8 323.2Z" fill="#6f92f3"/><path d="M378.7 156.5L384.9 155.7L388.2 156L382 156.5Z" fill="#f7b396"/><path d="M129.1 354.9L134.8 351.6L138.5 347.5L132.8 351Z" fill="#5470de"/><path d="M353.6 160.4L359.7 159.1L363.1 158.5L357 159.5Z" fill="#f7b79b"/><path d="M286.9 198.8L292.9 196.6L296.4 191.5L290.4 193.6Z" fill="#ebd3c6"/><path d="M228.8 261.6L234.7 258.8L238.3 252.1L232.3 255Z" fill="#b7cff9"/><path d="M394.3 155.6L400.5 155.6L403.7 156.9L397.6 156.9Z" fill="#f7b396"/><path d="M215.7 276.6L221.7 273.9L225.2 267.9L219.3 270.7Z" fill="#a7c5fe"/><path d="M296.4 191.5L302.4 189.4L305.9 184.6L299.9 186.5Z" fill="#efcebd"/><path d="M264.3 219.8L270.3 217.2L273.8 211L267.8 213.5Z" fill="#dddcdc"/><path d="M409.9 157.1L416.1 157.7L419.3 158L413.2 157.3Z" fill="#f7b497"/><path d="M138.5 347.5L144.3 344.4L148 340.1L142.2 343.3Z" fill="#5b7ae5"/><path d="M425.5 159L431.7 160.2L434.9 159.9L428.7 158.6Z" fill="#f7b599"/><path d="M193.2 298.1L199.1 295.1L202.7 289.7L196.8 292.9Z" fill="#90b2fe"/><path d="M344.1 163.2L350.2 161.7L353.6 160.4L347.5 161.7Z" fill="#f7b89c"/><path d="M96.9 378.8L102.6 376.3L106.4 372.6L100.7 375.5Z" fill="#3d50c3"/><path d="M170.6 319.9L176.5 316.8L180.1 311.7L174.2 315Z" fill="#799cf8"/><path d="M305.9 184.6L312 182.6L315.5 178.1L309.4 180Z" fill="#f2c9b4"/><path d="M251.3 235.2L257.3 232.5L260.8 226.1L254.8 228.8Z" fill="#d1dae9"/><path d="M106.4 372.6L112.1 369.9L115.9 365.9L110.1 369.1Z" fill="#4358cb"/><path d="M369.2 157.5L375.4 156.5L378.7 156.5L372.6 157.3Z" fill="#f7b396"/><path d="M334.5 167.2L340.7 165.5L344.1 163.2L338 164.7Z" fill="#f7ba9f"/><path d="M315.5 178.1L321.6 176.3L325 172.3L318.9 174.1Z" fill="#f5c4ac"/><path d="M238.3 252.1L244.2 249.3L247.8 242.2L241.8 245Z" fill="#c3d5f4"/><path d="M148 340.1L153.8 337.2L157.5 332.5L151.7 335.7Z" fill="#6485ec"/><path d="M325 172.3L331.1 170.5L334.5 167.2L328.4 168.9Z" fill="#f6bea4"/><path d="M273.8 211L279.9 208.6L283.4 203.7L277.3 206Z" fill="#e4d9d2"/><path d="M202.7 289.7L208.6 286.8L212.1 281.8L206.2 284.7Z" fill="#9bbcff"/><path d="M225.2 267.9L231.2 265.2L234.7 258.8L228.8 261.6Z" fill="#b2ccfb"/><path d="M180.1 311.7L185.9 308.8L189.6 303.5L183.7 306.7Z" fill="#82a6fb"/><path d="M115.9 365.9L121.6 362.9L125.3 358.8L119.6 362.1Z" fill="#4a63d3"/><path d="M283.4 203.7L289.4 201.4L292.9 196.6L286.9 198.8Z" fill="#ead5c9"/><path d="M157.5 332.5L163.3 329.7L167 324.8L161.1 327.9Z" fill="#6c8ff1"/><path d="M384.9 155.7L391 155.2L394.3 155.6L388.2 156Z" fill="#f7b093"/><path d="M260.8 226.1L266.8 223.4L270.3 217.2L264.3 219.8Z" fill="#dadce0"/><path d="M431.7 160.2L437.9 161.6L441.1 161.3L434.9 159.9Z" fill="#f7b599"/><path d="M359.7 159.1L365.9 157.9L369.2 157.5L363.1 158.5Z" fill="#f7b396"/><path d="M125.3 358.8L131.1 355.8L134.8 351.6L129.1 354.9Z" fill="#536edd"/><path d="M416.1 157.7L422.3 158.7L425.5 159L419.3 158Z" fill="#f7b396"/><path d="M212.1 281.8L218.1 279.2L221.7 273.9L215.7 276.6Z" fill="#a3c2fe"/><path d="M400.5 155.6L406.7 155.8L409.9 157.1L403.7 156.9Z" fill="#f7b093"/><path d="M292.9 196.6L299 194.4L302.4 189.4L296.4 191.5Z" fill="#eed0c0"/><path d="M189.6 303.5L195.5 300.7L199.1 295.1L193.2 298.1Z" fill="#8db0fe"/><path d="M247.8 242.2L253.7 239.4L257.3 232.5L251.3 235.2Z" fill="#cdd9ec"/><path d="M234.7 258.8L240.7 256.1L244.2 249.3L238.3 252.1Z" fill="#bed2f6"/><path d="M167 324.8L172.8 322L176.5 316.8L170.6 319.9Z" fill="#7699f6"/><path d="M134.8 351.6L140.6 348.8L144.3 344.4L138.5 347.5Z" fill="#5a78e4"/><path d="M302.4 189.4L308.5 187.4L312 182.6L305.9 184.6Z" fill="#f2cbb7"/><path d="M350.2 161.7L356.3 160.2L359.7 159.1L353.6 160.4Z" fill="#f7b497"/><path d="M270.3 217.2L276.3 214.6L279.9 208.6L273.8 211Z" fill="#e1dad6"/><path d="M221.7 273.9L227.6 271.4L231.2 265.2L225.2 267.9Z" fill="#aec9fc"/><path d="M93.1 382.4L98.8 380L102.6 376.3L96.9 378.8Z" fill="#3d50c3"/><path d="M375.4 156.5L381.5 155.4L384.9 155.7L378.7 156.5Z" fill="#f7af91"/><path d="M312 182.6L318.1 180.6L321.6 176.3L315.5 178.1Z" fill="#f4c5ad"/><path d="M144.3 344.4L150.1 341.8L153.8 337.2L148 340.1Z" fill="#6282ea"/><path d="M199.1 295.1L205 292.5L208.6 286.8L202.7 289.7Z" fill="#97b8ff"/><path d="M102.6 376.3L108.4 373.9L112.1 369.9L106.4 372.6Z" fill="#4358cb"/><path d="M340.7 165.5L346.8 163.7L350.2 161.7L344.1 163.2Z" fill="#f7b79b"/><path d="M176.5 316.8L182.3 314.1L185.9 308.8L180.1 311.7Z" fill="#80a3fa"/><path d="M321.6 176.3L327.7 174.3L331.1 170.5L325 172.3Z" fill="#f6bfa6"/><path d="M437.9 161.6L444.1 163L447.3 162.7L441.1 161.3Z" fill="#f7b497"/><path d="M331.1 170.5L337.2 168.7L340.7 165.5L334.5 167.2Z" fill="#f7ba9f"/><path d="M257.3 232.5L263.3 229.7L266.8 223.4L260.8 226.1Z" fill="#d6dce4"/><path d="M422.3 158.7L428.5 160L431.7 160.2L425.5 159Z" fill="#f7b194"/><path d="M279.9 208.6L285.9 206.2L289.4 201.4L283.4 203.7Z" fill="#e8d6cc"/><path d="M112.1 369.9L117.9 367.3L121.6 362.9L115.9 365.9Z" fill="#4961d2"/><path d="M244.2 249.3L250.2 246.5L253.7 239.4L247.8 242.2Z" fill="#c7d7f0"/><path d="M391 155.2L397.2 155L400.5 155.6L394.3 155.6Z" fill="#f7ad90"/><path d="M153.8 337.2L159.7 334.6L163.3 329.7L157.5 332.5Z" fill="#6a8bef"/><path d="M406.7 155.8L412.9 156.5L416.1 157.7L409.9 157.1Z" fill="#f7af91"/><path d="M208.6 286.8L214.5 284.4L218.1 279.2L212.1 281.8Z" fill="#a1c0ff"/><path d="M231.2 265.2L237.1 262.6L240.7 256.1L234.7 258.8Z" fill="#b9d0f9"/><path d="M185.9 308.8L191.8 306.2L195.5 300.7L189.6 303.5Z" fill="#89acfd"/><path d="M365.9 157.9L372 156.6L375.4 156.5L369.2 157.5Z" fill="#f7af91"/><path d="M289.4 201.4L295.5 199.2L299 194.4L292.9 196.6Z" fill="#edd2c3"/><path d="M121.6 362.9L127.4 360.1L131.1 355.8L125.3 358.8Z" fill="#516ddb"/><path d="M163.3 329.7L169.2 327.2L172.8 322L167 324.8Z" fill="#7396f5"/><path d="M266.8 223.4L272.8 220.7L276.3 214.6L270.3 217.2Z" fill="#dedcdb"/><path d="M218.1 279.2L224 276.8L227.6 271.4L221.7 273.9Z" fill="#aac7fd"/><path d="M299 194.4L305 192.3L308.5 187.4L302.4 189.4Z" fill="#f1cdba"/><path d="M131.1 355.8L136.9 353.2L140.6 348.8L134.8 351.6Z" fill="#5977e3"/><path d="M444.1 163L450.3 164.4L453.5 164.2L447.3 162.7Z" fill="#f7b497"/><path d="M195.5 300.7L201.4 298.3L205 292.5L199.1 295.1Z" fill="#94b6ff"/><path d="M253.7 239.4L259.7 236.7L263.3 229.7L257.3 232.5Z" fill="#d2dbe8"/><path d="M356.3 160.2L362.5 158.7L365.9 157.9L359.7 159.1Z" fill="#f7af91"/><path d="M240.7 256.1L246.7 253.4L250.2 246.5L244.2 249.3Z" fill="#c3d5f4"/><path d="M381.5 155.4L387.7 154.6L391 155.2L384.9 155.7Z" fill="#f7aa8c"/><path d="M428.5 160L434.7 161.3L437.9 161.6L431.7 160.2Z" fill="#f7b194"/><path d="M308.5 187.4L314.6 185.3L318.1 180.6L312 182.6Z" fill="#f3c7b1"/><path d="M172.8 322L178.7 319.5L182.3 314.1L176.5 316.8Z" fill="#7da0f9"/><path d="M140.6 348.8L146.4 346.4L150.1 341.8L144.3 344.4Z" fill="#6180e9"/><path d="M89.3 386L95.1 383.8L98.8 380L93.1 382.4Z" fill="#3c4ec2"/><path d="M276.3 214.6L282.4 212L285.9 206.2L279.9 208.6Z" fill="#e6d7cf"/><path d="M412.9 156.5L419 157.6L422.3 158.7L416.1 157.7Z" fill="#f7ad90"/><path d="M227.6 271.4L233.6 268.9L237.1 262.6L231.2 265.2Z" fill="#b3cdfb"/><path d="M98.8 380L104.6 377.8L108.4 373.9L102.6 376.3Z" fill="#4257c9"/><path d="M318.1 180.6L324.2 178.6L327.7 174.3L321.6 176.3Z" fill="#f5c0a7"/><path d="M346.8 163.7L352.9 162L356.3 160.2L350.2 161.7Z" fill="#f7b194"/><path d="M397.2 155L403.4 155.1L406.7 155.8L400.5 155.6Z" fill="#f7aa8c"/><path d="M327.7 174.3L333.8 172.4L337.2 168.7L331.1 170.5Z" fill="#f7bca1"/><path d="M205 292.5L210.9 290.3L214.5 284.4L208.6 286.8Z" fill="#9ebeff"/><path d="M150.1 341.8L156 339.4L159.7 334.6L153.8 337.2Z" fill="#688aef"/><path d="M337.2 168.7L343.4 166.8L346.8 163.7L340.7 165.5Z" fill="#f7b599"/><path d="M108.4 373.9L114.1 371.6L117.9 367.3L112.1 369.9Z" fill="#485fd1"/><path d="M182.3 314.1L188.2 311.8L191.8 306.2L185.9 308.8Z" fill="#86a9fc"/><path d="M263.3 229.7L269.3 227L272.8 220.7L266.8 223.4Z" fill="#dbdcde"/><path d="M285.9 206.2L292 203.8L295.5 199.2L289.4 201.4Z" fill="#ebd3c6"/><path d="M372 156.6L378.2 155.2L381.5 155.4L375.4 156.5Z" fill="#f7aa8c"/><path d="M117.9 367.3L123.7 365L127.4 360.1L121.6 362.9Z" fill="#4f69d9"/><path d="M250.2 246.5L256.2 243.9L259.7 236.7L253.7 239.4Z" fill="#cdd9ec"/><path d="M159.7 334.6L165.5 332.3L169.2 327.2L163.3 329.7Z" fill="#7093f3"/><path d="M450.3 164.4L456.5 165.7L459.7 165.6L453.5 164.2Z" fill="#f7b497"/><path d="M214.5 284.4L220.4 282.2L224 276.8L218.1 279.2Z" fill="#a7c5fe"/><path d="M237.1 262.6L243.1 260.1L246.7 253.4L240.7 256.1Z" fill="#bed2f6"/><path d="M295.5 199.2L301.5 196.9L305 192.3L299 194.4Z" fill="#efcebd"/><path d="M434.7 161.3L440.9 162.7L444.1 163L437.9 161.6Z" fill="#f7b093"/><path d="M191.8 306.2L197.8 304L201.4 298.3L195.5 300.7Z" fill="#90b2fe"/><path d="M127.4 360.1L133.2 357.9L136.9 353.2L131.1 355.8Z" fill="#5673e0"/><path d="M419 157.6L425.2 158.9L428.5 160L422.3 158.7Z" fill="#f7ac8e"/><path d="M169.2 327.2L175.1 325L178.7 319.5L172.8 322Z" fill="#7a9df8"/><path d="M272.8 220.7L278.9 218L282.4 212L276.3 214.6Z" fill="#e3d9d3"/><path d="M305 192.3L311.1 190.2L314.6 185.3L308.5 187.4Z" fill="#f2c9b4"/><path d="M387.7 154.6L393.9 154.2L397.2 155L391 155.2Z" fill="#f7a889"/><path d="M224 276.8L230 274.5L233.6 268.9L227.6 271.4Z" fill="#afcafc"/><path d="M362.5 158.7L368.7 157.1L372 156.6L365.9 157.9Z" fill="#f7aa8c"/><path d="M403.4 155.1L409.6 155.6L412.9 156.5L406.7 155.8Z" fill="#f7a98b"/><path d="M136.9 353.2L142.8 351L146.4 346.4L140.6 348.8Z" fill="#5e7de7"/><path d="M201.4 298.3L207.3 296.3L210.9 290.3L205 292.5Z" fill="#9abbff"/><path d="M314.6 185.3L320.7 183.3L324.2 178.6L318.1 180.6Z" fill="#f5c2aa"/><path d="M259.7 236.7L265.8 234L269.3 227L263.3 229.7Z" fill="#d7dce3"/><path d="M85.5 389.5L91.3 387.4L95.1 383.8L89.3 386Z" fill="#3c4ec2"/><path d="M246.7 253.4L252.7 250.8L256.2 243.9L250.2 246.5Z" fill="#c9d7f0"/><path d="M178.7 319.5L184.6 317.4L188.2 311.8L182.3 314.1Z" fill="#82a6fb"/><path d="M95.1 383.8L100.8 381.8L104.6 377.8L98.8 380Z" fill="#4055c8"/><path d="M146.4 346.4L152.3 344.2L156 339.4L150.1 341.8Z" fill="#6687ed"/><path d="M352.9 162L359.1 160.2L362.5 158.7L356.3 160.2Z" fill="#f7ad90"/><path d="M324.2 178.6L330.3 176.6L333.8 172.4L327.7 174.3Z" fill="#f6bda2"/><path d="M456.5 165.7L462.7 166.9L465.9 166.8L459.7 165.6Z" fill="#f7b396"/><path d="M282.4 212L288.4 209.5L292 203.8L285.9 206.2Z" fill="#ead5c9"/><path d="M233.6 268.9L239.6 266.6L243.1 260.1L237.1 262.6Z" fill="#bad0f8"/><path d="M104.6 377.8L110.4 375.8L114.1 371.6L108.4 373.9Z" fill="#465ecf"/><path d="M333.8 172.4L339.9 170.4L343.4 166.8L337.2 168.7Z" fill="#f7b79b"/><path d="M440.9 162.7L447.1 164.1L450.3 164.4L444.1 163Z" fill="#f7b093"/><path d="M343.4 166.8L349.5 164.9L352.9 162L346.8 163.7Z" fill="#f7b194"/><path d="M210.9 290.3L216.9 288.2L220.4 282.2L214.5 284.4Z" fill="#a3c2fe"/><path d="M156 339.4L161.8 337.3L165.5 332.3L159.7 334.6Z" fill="#6e90f2"/><path d="M114.1 371.6L120 369.6L123.7 365L117.9 367.3Z" fill="#4e68d8"/><path d="M378.2 155.2L384.4 154.1L387.7 154.6L381.5 155.4Z" fill="#f7a688"/><path d="M188.2 311.8L194.1 309.8L197.8 304L191.8 306.2Z" fill="#8caffe"/><path d="M425.2 158.9L431.4 160.3L434.7 161.3L428.5 160Z" fill="#f7ac8e"/><path d="M292 203.8L298 201.5L301.5 196.9L295.5 199.2Z" fill="#efcfbf"/><path d="M269.3 227L275.3 224.4L278.9 218L272.8 220.7Z" fill="#dfdbd9"/><path d="M123.7 365L129.5 363.1L133.2 357.9L127.4 360.1Z" fill="#5572df"/><path d="M165.5 332.3L171.4 330.4L175.1 325L169.2 327.2Z" fill="#7699f6"/><path d="M256.2 243.9L262.2 241.2L265.8 234L259.7 236.7Z" fill="#d3dbe7"/><path d="M409.6 155.6L415.8 156.6L419 157.6L412.9 156.5Z" fill="#f7a889"/><path d="M220.4 282.2L226.4 280L230 274.5L224 276.8Z" fill="#adc9fd"/><path d="M393.9 154.2L400.1 154.1L403.4 155.1L397.2 155Z" fill="#f6a586"/><path d="M301.5 196.9L307.6 194.7L311.1 190.2L305 192.3Z" fill="#f2cbb7"/><path d="M243.1 260.1L249.1 257.7L252.7 250.8L246.7 253.4Z" fill="#c4d5f3"/><path d="M197.8 304L203.7 302.2L207.3 296.3L201.4 298.3Z" fill="#96b7ff"/><path d="M133.2 357.9L139 355.9L142.8 351L136.9 353.2Z" fill="#5d7ce6"/><path d="M368.7 157.1L374.9 155.4L378.2 155.2L372 156.6Z" fill="#f7a688"/><path d="M462.7 166.9L469 167.6L472.1 167.7L465.9 166.8Z" fill="#f7b396"/><path d="M311.1 190.2L317.2 188L320.7 183.3L314.6 185.3Z" fill="#f4c5ad"/><path d="M175.1 325L181 323.1L184.6 317.4L178.7 319.5Z" fill="#80a3fa"/><path d="M447.1 164.1L453.3 165.4L456.5 165.7L450.3 164.4Z" fill="#f7b093"/><path d="M278.9 218L284.9 215.4L288.4 209.5L282.4 212Z" fill="#e7d7ce"/><path d="M230 274.5L236 272.3L239.6 266.6L233.6 268.9Z" fill="#b6cefa"/><path d="M142.8 351L148.6 349.1L152.3 344.2L146.4 346.4Z" fill="#6384eb"/><path d="M207.3 296.3L213.3 294.5L216.9 288.2L210.9 290.3Z" fill="#9fbfff"/><path d="M320.7 183.3L326.9 181.2L330.3 176.6L324.2 178.6Z" fill="#f6bea4"/><path d="M81.7 392.9L87.4 390.9L91.3 387.4L85.5 389.5Z" fill="#3b4cc0"/><path d="M431.4 160.3L437.7 161.8L440.9 162.7L434.7 161.3Z" fill="#f7ac8e"/><path d="M91.3 387.4L97 385.5L100.8 381.8L95.1 383.8Z" fill="#4055c8"/><path d="M265.8 234L271.8 231.4L275.3 224.4L269.3 227Z" fill="#dbdcde"/><path d="M359.1 160.2L365.3 158.3L368.7 157.1L362.5 158.7Z" fill="#f7a889"/><path d="M184.6 317.4L190.5 315.8L194.1 309.8L188.2 311.8Z" fill="#88abfd"/><path d="M252.7 250.8L258.7 248.3L262.2 241.2L256.2 243.9Z" fill="#cdd9ec"/><path d="M100.8 381.8L106.6 379.9L110.4 375.8L104.6 377.8Z" fill="#465ecf"/><path d="M330.3 176.6L336.5 174.6L339.9 170.4L333.8 172.4Z" fill="#f7b89c"/><path d="M152.3 344.2L158.2 342.3L161.8 337.3L156 339.4Z" fill="#6b8df0"/><path d="M349.5 164.9L355.7 163L359.1 160.2L352.9 162Z" fill="#f7ac8e"/><path d="M339.9 170.4L346.1 168.5L349.5 164.9L343.4 166.8Z" fill="#f7b194"/><path d="M384.4 154.1L390.6 153.4L393.9 154.2L387.7 154.6Z" fill="#f6a385"/><path d="M288.4 209.5L294.5 207.1L298 201.5L292 203.8Z" fill="#edd2c3"/><path d="M415.8 156.6L422 157.9L425.2 158.9L419 157.6Z" fill="#f7a688"/><path d="M110.4 375.8L116.2 374L120 369.6L114.1 371.6Z" fill="#4c66d6"/><path d="M239.6 266.6L245.6 264.3L249.1 257.7L243.1 260.1Z" fill="#bfd3f6"/><path d="M216.9 288.2L222.8 286.3L226.4 280L220.4 282.2Z" fill="#a9c6fd"/><path d="M400.1 154.1L406.3 154.5L409.6 155.6L403.4 155.1Z" fill="#f6a385"/><path d="M161.8 337.3L167.7 335.5L171.4 330.4L165.5 332.3Z" fill="#7396f5"/><path d="M194.1 309.8L200.1 308.3L203.7 302.2L197.8 304Z" fill="#92b4fe"/><path d="M120 369.6L125.8 368L129.5 363.1L123.7 365Z" fill="#536edd"/><path d="M298 201.5L304.1 199.2L307.6 194.7L301.5 196.9Z" fill="#f1ccb8"/><path d="M453.3 165.4L459.6 166.5L462.7 166.9L456.5 165.7Z" fill="#f7af91"/><path d="M275.3 224.4L281.4 221.7L284.9 215.4L278.9 218Z" fill="#e4d9d2"/><path d="M129.5 363.1L135.4 361.5L139 355.9L133.2 357.9Z" fill="#5a78e4"/><path d="M171.4 330.4L177.3 328.7L181 323.1L175.1 325Z" fill="#7b9ff9"/><path d="M226.4 280L232.4 278L236 272.3L230 274.5Z" fill="#b2ccfb"/><path d="M437.7 161.8L443.9 163.3L447.1 164.1L440.9 162.7Z" fill="#f7ac8e"/><path d="M262.2 241.2L268.3 238.6L271.8 231.4L265.8 234Z" fill="#d7dce3"/><path d="M307.6 194.7L313.8 192.5L317.2 188L311.1 190.2Z" fill="#f3c7b1"/><path d="M469 167.6L475.4 165.5L478.5 165.6L472.1 167.7Z" fill="#f7af91"/><path d="M203.7 302.2L209.7 300.6L213.3 294.5L207.3 296.3Z" fill="#9bbcff"/><path d="M249.1 257.7L255.1 255.3L258.7 248.3L252.7 250.8Z" fill="#c9d7f0"/><path d="M374.9 155.4L381.1 154L384.4 154.1L378.2 155.2Z" fill="#f6a283"/><path d="M139 355.9L144.9 354.2L148.6 349.1L142.8 351Z" fill="#6282ea"/><path d="M181 323.1L186.9 321.7L190.5 315.8L184.6 317.4Z" fill="#85a8fc"/><path d="M317.2 188L323.4 185.9L326.9 181.2L320.7 183.3Z" fill="#f5c0a7"/><path d="M422 157.9L428.2 159.3L431.4 160.3L425.2 158.9Z" fill="#f7a688"/><path d="M284.9 215.4L291 212.9L294.5 207.1L288.4 209.5Z" fill="#ead4c8"/><path d="M236 272.3L242 270.1L245.6 264.3L239.6 266.6Z" fill="#bbd1f8"/><path d="M148.6 349.1L154.5 347.4L158.2 342.3L152.3 344.2Z" fill="#688aef"/><path d="M213.3 294.5L219.2 292.8L222.8 286.3L216.9 288.2Z" fill="#a5c3fe"/><path d="M326.9 181.2L333 179.1L336.5 174.6L330.3 176.6Z" fill="#f7b99e"/><path d="M77.8 396.3L83.6 394.3L87.4 390.9L81.7 392.9Z" fill="#3b4cc0"/><path d="M390.6 153.4L396.8 153.2L400.1 154.1L393.9 154.2Z" fill="#f5a081"/><path d="M87.4 390.9L93.2 389L97 385.5L91.3 387.4Z" fill="#3f53c6"/><path d="M406.3 154.5L412.6 155.4L415.8 156.6L409.6 155.6Z" fill="#f6a283"/><path d="M365.3 158.3L371.5 156.3L374.9 155.4L368.7 157.1Z" fill="#f6a385"/><path d="M190.5 315.8L196.5 314.4L200.1 308.3L194.1 309.8Z" fill="#8db0fe"/><path d="M97 385.5L102.8 383.7L106.6 379.9L100.8 381.8Z" fill="#455cce"/><path d="M336.5 174.6L342.6 172.5L346.1 168.5L339.9 170.4Z" fill="#f7b396"/><path d="M106.6 379.9L112.4 378.3L116.2 374L110.4 375.8Z" fill="#4b64d5"/><path d="M158.2 342.3L164.1 340.7L167.7 335.5L161.8 337.3Z" fill="#7093f3"/><path d="M271.8 231.4L277.9 228.8L281.4 221.7L275.3 224.4Z" fill="#e0dbd8"/><path d="M459.6 166.5L465.8 167.2L469 167.6L462.7 166.9Z" fill="#f7af91"/><path d="M355.7 163L361.9 160.9L365.3 158.3L359.1 160.2Z" fill="#f7a688"/><path d="M258.7 248.3L264.7 245.8L268.3 238.6L262.2 241.2Z" fill="#d3dbe7"/><path d="M346.1 168.5L352.3 166.4L355.7 163L349.5 164.9Z" fill="#f7ac8e"/><path d="M116.2 374L122 372.6L125.8 368L120 369.6Z" fill="#506bda"/><path d="M443.9 163.3L450.1 164.6L453.3 165.4L447.1 164.1Z" fill="#f7aa8c"/><path d="M294.5 207.1L300.6 204.7L304.1 199.2L298 201.5Z" fill="#efcebd"/><path d="M245.6 264.3L251.6 262.1L255.1 255.3L249.1 257.7Z" fill="#c4d5f3"/><path d="M222.8 286.3L228.8 284.4L232.4 278L226.4 280Z" fill="#aec9fc"/><path d="M167.7 335.5L173.7 334.1L177.3 328.7L171.4 330.4Z" fill="#799cf8"/><path d="M200.1 308.3L206.1 306.9L209.7 300.6L203.7 302.2Z" fill="#97b8ff"/><path d="M125.8 368L131.6 366.7L135.4 361.5L129.5 363.1Z" fill="#5673e0"/><path d="M428.2 159.3L434.5 160.7L437.7 161.8L431.4 160.3Z" fill="#f7a688"/><path d="M304.1 199.2L310.3 196.9L313.8 192.5L307.6 194.7Z" fill="#f3c8b2"/><path d="M177.3 328.7L183.3 327.5L186.9 321.7L181 323.1Z" fill="#81a4fb"/><path d="M135.4 361.5L141.2 360.2L144.9 354.2L139 355.9Z" fill="#5e7de7"/><path d="M381.1 154L387.3 153.1L390.6 153.4L384.4 154.1Z" fill="#f59d7e"/><path d="M281.4 221.7L287.5 219.2L291 212.9L284.9 215.4Z" fill="#e8d6cc"/><path d="M209.7 300.6L215.6 299.2L219.2 292.8L213.3 294.5Z" fill="#9fbfff"/><path d="M232.4 278L238.4 276L242 270.1L236 272.3Z" fill="#b7cff9"/><path d="M313.8 192.5L319.9 190.4L323.4 185.9L317.2 188Z" fill="#f5c2aa"/><path d="M475.4 165.5L481.8 163L484.9 163.1L478.5 165.6Z" fill="#f7a98b"/><path d="M412.6 155.4L418.8 156.5L422 157.9L415.8 156.6Z" fill="#f5a081"/><path d="M268.3 238.6L274.3 236.1L277.9 228.8L271.8 231.4Z" fill="#dcdddd"/><path d="M186.9 321.7L192.9 320.6L196.5 314.4L190.5 315.8Z" fill="#89acfd"/><path d="M255.1 255.3L261.2 252.9L264.7 245.8L258.7 248.3Z" fill="#cedaeb"/><path d="M144.9 354.2L150.8 352.8L154.5 347.4L148.6 349.1Z" fill="#6687ed"/><path d="M396.8 153.2L403.1 153.4L406.3 154.5L400.1 154.1Z" fill="#f59d7e"/><path d="M323.4 185.9L329.5 183.8L333 179.1L326.9 181.2Z" fill="#f7bca1"/><path d="M450.1 164.6L456.4 165.7L459.6 166.5L453.3 165.4Z" fill="#f7aa8c"/><path d="M154.5 347.4L160.4 346L164.1 340.7L158.2 342.3Z" fill="#6e90f2"/><path d="M219.2 292.8L225.2 291.2L228.8 284.4L222.8 286.3Z" fill="#a9c6fd"/><path d="M242 270.1L248 268L251.6 262.1L245.6 264.3Z" fill="#c0d4f5"/><path d="M291 212.9L297.1 210.4L300.6 204.7L294.5 207.1Z" fill="#eed0c0"/><path d="M333 179.1L339.2 177L342.6 172.5L336.5 174.6Z" fill="#f7b599"/><path d="M74 399.6L79.8 397.8L83.6 394.3L77.8 396.3Z" fill="#3b4cc0"/><path d="M196.5 314.4L202.4 313.3L206.1 306.9L200.1 308.3Z" fill="#92b4fe"/><path d="M371.5 156.3L377.7 154.6L381.1 154L374.9 155.4Z" fill="#f59d7e"/><path d="M465.8 167.2L472.2 165.1L475.4 165.5L469 167.6Z" fill="#f7aa8c"/><path d="M83.6 394.3L89.4 392.6L93.2 389L87.4 390.9Z" fill="#3f53c6"/><path d="M93.2 389L99 387.4L102.8 383.7L97 385.5Z" fill="#445acc"/><path d="M102.8 383.7L108.7 382.2L112.4 378.3L106.6 379.9Z" fill="#4a63d3"/><path d="M434.5 160.7L440.7 162.1L443.9 163.3L437.7 161.8Z" fill="#f7a688"/><path d="M112.4 378.3L118.3 377L122 372.6L116.2 374Z" fill="#4f69d9"/><path d="M164.1 340.7L170 339.5L173.7 334.1L167.7 335.5Z" fill="#7699f6"/><path d="M342.6 172.5L348.8 170.4L352.3 166.4L346.1 168.5Z" fill="#f7ad90"/><path d="M122 372.6L127.9 371.5L131.6 366.7L125.8 368Z" fill="#5572df"/><path d="M361.9 160.9L368.1 158.8L371.5 156.3L365.3 158.3Z" fill="#f6a283"/><path d="M352.3 166.4L358.5 164.3L361.9 160.9L355.7 163Z" fill="#f7a889"/><path d="M277.9 228.8L284 226.3L287.5 219.2L281.4 221.7Z" fill="#e4d9d2"/><path d="M264.7 245.8L270.8 243.3L274.3 236.1L268.3 238.6Z" fill="#d7dce3"/><path d="M173.7 334.1L179.6 333L183.3 327.5L177.3 328.7Z" fill="#7da0f9"/><path d="M206.1 306.9L212 305.7L215.6 299.2L209.7 300.6Z" fill="#9bbcff"/><path d="M300.6 204.7L306.8 202.3L310.3 196.9L304.1 199.2Z" fill="#f2cab5"/><path d="M131.6 366.7L137.5 365.7L141.2 360.2L135.4 361.5Z" fill="#5b7ae5"/><path d="M418.8 156.5L425 157.9L428.2 159.3L422 157.9Z" fill="#f5a081"/><path d="M228.8 284.4L234.8 282.6L238.4 276L232.4 278Z" fill="#b3cdfb"/><path d="M251.6 262.1L257.6 259.9L261.2 252.9L255.1 255.3Z" fill="#cad8ef"/><path d="M387.3 153.1L393.5 152.5L396.8 153.2L390.6 153.4Z" fill="#f49a7b"/><path d="M183.3 327.5L189.2 326.6L192.9 320.6L186.9 321.7Z" fill="#85a8fc"/><path d="M141.2 360.2L147.1 359.1L150.8 352.8L144.9 354.2Z" fill="#6384eb"/><path d="M403.1 153.4L409.3 154.1L412.6 155.4L406.3 154.5Z" fill="#f59c7d"/><path d="M310.3 196.9L316.4 194.7L319.9 190.4L313.8 192.5Z" fill="#f5c4ac"/><path d="M456.4 165.7L462.7 166.4L465.8 167.2L459.6 166.5Z" fill="#f7a98b"/><path d="M215.6 299.2L221.6 297.8L225.2 291.2L219.2 292.8Z" fill="#a5c3fe"/><path d="M287.5 219.2L293.6 216.7L297.1 210.4L291 212.9Z" fill="#ecd3c5"/><path d="M238.4 276L244.4 274L248 268L242 270.1Z" fill="#bcd2f7"/><path d="M319.9 190.4L326 188.2L329.5 183.8L323.4 185.9Z" fill="#f6bea4"/><path d="M481.8 163L488.1 161.4L491.3 161.5L484.9 163.1Z" fill="#f6a586"/><path d="M192.9 320.6L198.8 319.7L202.4 313.3L196.5 314.4Z" fill="#8db0fe"/><path d="M440.7 162.1L447 163.4L450.1 164.6L443.9 163.3Z" fill="#f6a586"/><path d="M150.8 352.8L156.7 351.6L160.4 346L154.5 347.4Z" fill="#6b8df0"/><path d="M274.3 236.1L280.4 233.6L284 226.3L277.9 228.8Z" fill="#e0dbd8"/><path d="M261.2 252.9L267.2 250.6L270.8 243.3L264.7 245.8Z" fill="#d3dbe7"/><path d="M329.5 183.8L335.7 181.7L339.2 177L333 179.1Z" fill="#f7b79b"/><path d="M160.4 346L166.3 344.9L170 339.5L164.1 340.7Z" fill="#7295f4"/><path d="M377.7 154.6L384 153.3L387.3 153.1L381.1 154Z" fill="#f4987a"/><path d="M202.4 313.3L208.4 312.3L212 305.7L206.1 306.9Z" fill="#96b7ff"/><path d="M225.2 291.2L231.3 289.6L234.8 282.6L228.8 284.4Z" fill="#aec9fc"/><path d="M425 157.9L431.2 159.3L434.5 160.7L428.2 159.3Z" fill="#f5a081"/><path d="M248 268L254.1 265.9L257.6 259.9L251.6 262.1Z" fill="#c5d6f2"/><path d="M339.2 177L345.4 174.9L348.8 170.4L342.6 172.5Z" fill="#f7b093"/><path d="M70.1 403L75.9 401.2L79.8 397.8L74 399.6Z" fill="#3b4cc0"/><path d="M79.8 397.8L85.6 396.1L89.4 392.6L83.6 394.3Z" fill="#3f53c6"/><path d="M89.4 392.6L95.2 391L99 387.4L93.2 389Z" fill="#445acc"/><path d="M108.7 382.2L114.5 381.1L118.3 377L112.4 378.3Z" fill="#4e68d8"/><path d="M99 387.4L104.9 385.9L108.7 382.2L102.8 383.7Z" fill="#4961d2"/><path d="M297.1 210.4L303.2 208L306.8 202.3L300.6 204.7Z" fill="#f1cdba"/><path d="M472.2 165.1L478.6 162.5L481.8 163L475.4 165.5Z" fill="#f6a586"/><path d="M170 339.5L175.9 338.5L179.6 333L173.7 334.1Z" fill="#7a9df8"/><path d="M118.3 377L124.2 376.1L127.9 371.5L122 372.6Z" fill="#536edd"/><path d="M127.9 371.5L133.8 370.6L137.5 365.7L131.6 366.7Z" fill="#5977e3"/><path d="M348.8 170.4L355 168.2L358.5 164.3L352.3 166.4Z" fill="#f7a889"/><path d="M368.1 158.8L374.3 157L377.7 154.6L371.5 156.3Z" fill="#f59c7d"/><path d="M409.3 154.1L415.5 155.1L418.8 156.5L412.6 155.4Z" fill="#f49a7b"/><path d="M179.6 333L185.6 332.3L189.2 326.6L183.3 327.5Z" fill="#81a4fb"/><path d="M358.5 164.3L364.7 162.1L368.1 158.8L361.9 160.9Z" fill="#f6a283"/><path d="M137.5 365.7L143.4 364.9L147.1 359.1L141.2 360.2Z" fill="#5f7fe8"/><path d="M393.5 152.5L399.8 152.5L403.1 153.4L396.8 153.2Z" fill="#f39778"/><path d="M212 305.7L218 304.5L221.6 297.8L215.6 299.2Z" fill="#9fbfff"/><path d="M284 226.3L290.1 223.8L293.6 216.7L287.5 219.2Z" fill="#e9d5cb"/><path d="M270.8 243.3L276.9 240.9L280.4 233.6L274.3 236.1Z" fill="#dcdddd"/><path d="M234.8 282.6L240.9 280.9L244.4 274L238.4 276Z" fill="#b9d0f9"/><path d="M306.8 202.3L312.9 199.9L316.4 194.7L310.3 196.9Z" fill="#f4c6af"/><path d="M447 163.4L453.2 164.5L456.4 165.7L450.1 164.6Z" fill="#f6a586"/><path d="M189.2 326.6L195.2 325.9L198.8 319.7L192.9 320.6Z" fill="#89acfd"/><path d="M257.6 259.9L263.7 257.7L267.2 250.6L261.2 252.9Z" fill="#cedaeb"/><path d="M147.1 359.1L153.1 358.3L156.7 351.6L150.8 352.8Z" fill="#6788ee"/><path d="M462.7 166.4L469.1 164.2L472.2 165.1L465.8 167.2Z" fill="#f7a688"/><path d="M316.4 194.7L322.6 192.4L326 188.2L319.9 190.4Z" fill="#f6bfa6"/><path d="M221.6 297.8L227.7 296.4L231.3 289.6L225.2 291.2Z" fill="#a9c6fd"/><path d="M431.2 159.3L437.5 160.6L440.7 162.1L434.5 160.7Z" fill="#f59f80"/><path d="M198.8 319.7L204.8 318.9L208.4 312.3L202.4 313.3Z" fill="#92b4fe"/><path d="M488.1 161.4L494.5 159.8L497.7 160L491.3 161.5Z" fill="#f59f80"/><path d="M156.7 351.6L162.7 350.7L166.3 344.9L160.4 346Z" fill="#6f92f3"/><path d="M326 188.2L332.2 186L335.7 181.7L329.5 183.8Z" fill="#f7b99e"/><path d="M244.4 274L250.5 272L254.1 265.9L248 268Z" fill="#c1d4f4"/><path d="M293.6 216.7L299.7 214.2L303.2 208L297.1 210.4Z" fill="#efcfbf"/><path d="M384 153.3L390.2 152.5L393.5 152.5L387.3 153.1Z" fill="#f39577"/><path d="M166.3 344.9L172.3 344.1L175.9 338.5L170 339.5Z" fill="#7699f6"/><path d="M415.5 155.1L421.8 156.3L425 157.9L418.8 156.5Z" fill="#f4987a"/><path d="M280.4 233.6L286.5 231.2L290.1 223.8L284 226.3Z" fill="#e4d9d2"/><path d="M335.7 181.7L341.9 179.5L345.4 174.9L339.2 177Z" fill="#f7b194"/><path d="M208.4 312.3L214.4 311.4L218 304.5L212 305.7Z" fill="#9abbff"/><path d="M267.2 250.6L273.3 248.4L276.9 240.9L270.8 243.3Z" fill="#d7dce3"/><path d="M231.3 289.6L237.3 288L240.9 280.9L234.8 282.6Z" fill="#b3cdfb"/><path d="M175.9 338.5L181.9 338L185.6 332.3L179.6 333Z" fill="#7ea1fa"/><path d="M114.5 381.1L120.4 380.2L124.2 376.1L118.3 377Z" fill="#516ddb"/><path d="M124.2 376.1L130.1 375.3L133.8 370.6L127.9 371.5Z" fill="#5673e0"/><path d="M399.8 152.5L406 153L409.3 154.1L403.1 153.4Z" fill="#f39577"/><path d="M104.9 385.9L110.7 384.8L114.5 381.1L108.7 382.2Z" fill="#4c66d6"/><path d="M133.8 370.6L139.7 370L143.4 364.9L137.5 365.7Z" fill="#5d7ce6"/><path d="M95.2 391L101 389.6L104.9 385.9L99 387.4Z" fill="#4961d2"/><path d="M85.6 396.1L91.4 394.6L95.2 391L89.4 392.6Z" fill="#445acc"/><path d="M345.4 174.9L351.6 172.7L355 168.2L348.8 170.4Z" fill="#f7aa8c"/><path d="M254.1 265.9L260.1 263.9L263.7 257.7L257.6 259.9Z" fill="#cad8ef"/><path d="M75.9 401.2L81.7 399.6L85.6 396.1L79.8 397.8Z" fill="#3f53c6"/><path d="M66.3 406.4L72 404.7L75.9 401.2L70.1 403Z" fill="#3b4cc0"/><path d="M453.2 164.5L459.5 165.1L462.7 166.4L456.4 165.7Z" fill="#f6a385"/><path d="M478.6 162.5L485 160.9L488.1 161.4L481.8 163Z" fill="#f59f80"/><path d="M185.6 332.3L191.6 331.7L195.2 325.9L189.2 326.6Z" fill="#85a8fc"/><path d="M303.2 208L309.4 205.5L312.9 199.9L306.8 202.3Z" fill="#f2c9b4"/><path d="M143.4 364.9L149.4 364.4L153.1 358.3L147.1 359.1Z" fill="#6384eb"/><path d="M374.3 157L380.6 155.6L384 153.3L377.7 154.6Z" fill="#f39778"/><path d="M355 168.2L361.2 166L364.7 162.1L358.5 164.3Z" fill="#f6a385"/><path d="M218 304.5L224.1 303.4L227.7 296.4L221.6 297.8Z" fill="#a3c2fe"/><path d="M437.5 160.6L443.8 161.9L447 163.4L440.7 162.1Z" fill="#f59f80"/><path d="M364.7 162.1L370.9 160.1L374.3 157L368.1 158.8Z" fill="#f59c7d"/><path d="M195.2 325.9L201.2 325.3L204.8 318.9L198.8 319.7Z" fill="#8caffe"/><path d="M153.1 358.3L159 357.8L162.7 350.7L156.7 351.6Z" fill="#6b8df0"/><path d="M240.9 280.9L246.9 279.1L250.5 272L244.4 274Z" fill="#bcd2f7"/><path d="M290.1 223.8L296.2 221.4L299.7 214.2L293.6 216.7Z" fill="#ecd3c5"/><path d="M312.9 199.9L319.1 197.6L322.6 192.4L316.4 194.7Z" fill="#f5c1a9"/><path d="M276.9 240.9L283 238.6L286.5 231.2L280.4 233.6Z" fill="#e0dbd8"/><path d="M263.7 257.7L269.8 255.7L273.3 248.4L267.2 250.6Z" fill="#d3dbe7"/><path d="M421.8 156.3L428 157.6L431.2 159.3L425 157.9Z" fill="#f4987a"/><path d="M469.1 164.2L475.5 161.7L478.6 162.5L472.2 165.1Z" fill="#f59f80"/><path d="M204.8 318.9L210.8 318.2L214.4 311.4L208.4 312.3Z" fill="#96b7ff"/><path d="M227.7 296.4L233.7 295.1L237.3 288L231.3 289.6Z" fill="#aec9fc"/><path d="M494.5 159.8L500.9 158.8L504 159L497.7 160Z" fill="#f49a7b"/><path d="M162.7 350.7L168.6 350.2L172.3 344.1L166.3 344.9Z" fill="#7396f5"/><path d="M322.6 192.4L328.7 190.2L332.2 186L326 188.2Z" fill="#f7ba9f"/><path d="M390.2 152.5L396.4 152.2L399.8 152.5L393.5 152.5Z" fill="#f29274"/><path d="M406 153L412.3 153.7L415.5 155.1L409.3 154.1Z" fill="#f39475"/><path d="M172.3 344.1L178.3 343.7L181.9 338L175.9 338.5Z" fill="#7a9df8"/><path d="M250.5 272L256.6 270.2L260.1 263.9L254.1 265.9Z" fill="#c6d6f1"/><path d="M332.2 186L338.4 183.9L341.9 179.5L335.7 181.7Z" fill="#f7b497"/><path d="M214.4 311.4L220.5 310.5L224.1 303.4L218 304.5Z" fill="#9ebeff"/><path d="M299.7 214.2L305.9 211.8L309.4 205.5L303.2 208Z" fill="#f1ccb8"/><path d="M181.9 338L187.9 337.6L191.6 331.7L185.6 332.3Z" fill="#81a4fb"/><path d="M130.1 375.3L136 374.8L139.7 370L133.8 370.6Z" fill="#5a78e4"/><path d="M443.8 161.9L450.1 162.9L453.2 164.5L447 163.4Z" fill="#f59d7e"/><path d="M120.4 380.2L126.3 379.6L130.1 375.3L124.2 376.1Z" fill="#5572df"/><path d="M341.9 179.5L348.1 177.3L351.6 172.7L345.4 174.9Z" fill="#f7ac8e"/><path d="M139.7 370L145.7 369.6L149.4 364.4L143.4 364.9Z" fill="#5f7fe8"/><path d="M286.5 231.2L292.6 228.9L296.2 221.4L290.1 223.8Z" fill="#e9d5cb"/><path d="M459.5 165.1L465.9 162.9L469.1 164.2L462.7 166.4Z" fill="#f5a081"/><path d="M110.7 384.8L116.6 384L120.4 380.2L114.5 381.1Z" fill="#506bda"/><path d="M237.3 288L243.3 286.5L246.9 279.1L240.9 280.9Z" fill="#b7cff9"/><path d="M273.3 248.4L279.4 246.3L283 238.6L276.9 240.9Z" fill="#dbdcde"/><path d="M191.6 331.7L197.6 331.3L201.2 325.3L195.2 325.9Z" fill="#88abfd"/><path d="M101 389.6L106.9 388.6L110.7 384.8L104.9 385.9Z" fill="#4c66d6"/><path d="M149.4 364.4L155.3 364.1L159 357.8L153.1 358.3Z" fill="#6687ed"/><path d="M91.4 394.6L97.2 393.3L101 389.6L95.2 391Z" fill="#485fd1"/><path d="M485 160.9L491.4 159.3L494.5 159.8L488.1 161.4Z" fill="#f49a7b"/><path d="M81.7 399.6L87.5 398.2L91.4 394.6L85.6 396.1Z" fill="#4358cb"/><path d="M380.6 155.6L386.8 154.6L390.2 152.5L384 153.3Z" fill="#f29274"/><path d="M72 404.7L77.8 403.2L81.7 399.6L75.9 401.2Z" fill="#3e51c5"/><path d="M62.4 409.8L68.2 408.2L72 404.7L66.3 406.4Z" fill="#3b4cc0"/><path d="M260.1 263.9L266.2 262L269.8 255.7L263.7 257.7Z" fill="#cedaeb"/><path d="M351.6 172.7L357.8 170.4L361.2 166L355 168.2Z" fill="#f6a586"/><path d="M428 157.6L434.3 158.9L437.5 160.6L431.2 159.3Z" fill="#f4987a"/><path d="M224.1 303.4L230.1 302.3L233.7 295.1L227.7 296.4Z" fill="#a9c6fd"/><path d="M201.2 325.3L207.2 324.8L210.8 318.2L204.8 318.9Z" fill="#90b2fe"/><path d="M309.4 205.5L315.5 203.2L319.1 197.6L312.9 199.9Z" fill="#f4c5ad"/><path d="M361.2 166L367.5 164L370.9 160.1L364.7 162.1Z" fill="#f59d7e"/><path d="M370.9 160.1L377.2 158.6L380.6 155.6L374.3 157Z" fill="#f39778"/><path d="M159 357.8L165 357.6L168.6 350.2L162.7 350.7Z" fill="#6e90f2"/><path d="M246.9 279.1L253 277.5L256.6 270.2L250.5 272Z" fill="#c1d4f4"/><path d="M412.3 153.7L418.5 154.8L421.8 156.3L415.5 155.1Z" fill="#f29274"/><path d="M210.8 318.2L216.9 317.5L220.5 310.5L214.4 311.4Z" fill="#98b9ff"/><path d="M296.2 221.4L302.3 219.1L305.9 211.8L299.7 214.2Z" fill="#efcfbf"/><path d="M396.4 152.2L402.7 152.4L406 153L399.8 152.5Z" fill="#f18f71"/><path d="M319.1 197.6L325.2 195.3L328.7 190.2L322.6 192.4Z" fill="#f6bda2"/><path d="M500.9 158.8L507.3 158.4L510.4 158.5L504 159Z" fill="#f39778"/><path d="M168.6 350.2L174.6 350L178.3 343.7L172.3 344.1Z" fill="#7699f6"/><path d="M283 238.6L289.1 236.4L292.6 228.9L286.5 231.2Z" fill="#e4d9d2"/><path d="M269.8 255.7L275.9 253.7L279.4 246.3L273.3 248.4Z" fill="#d7dce3"/><path d="M233.7 295.1L239.7 293.8L243.3 286.5L237.3 288Z" fill="#b2ccfb"/><path d="M475.5 161.7L481.9 160.1L485 160.9L478.6 162.5Z" fill="#f49a7b"/><path d="M178.3 343.7L184.2 343.5L187.9 337.6L181.9 338Z" fill="#7da0f9"/><path d="M450.1 162.9L456.4 163.4L459.5 165.1L453.2 164.5Z" fill="#f59d7e"/><path d="M328.7 190.2L334.9 188.1L338.4 183.9L332.2 186Z" fill="#f7b599"/><path d="M187.9 337.6L193.9 337.3L197.6 331.3L191.6 331.7Z" fill="#85a8fc"/><path d="M220.5 310.5L226.5 309.6L230.1 302.3L224.1 303.4Z" fill="#a2c1ff"/><path d="M136 374.8L141.9 374.5L145.7 369.6L139.7 370Z" fill="#5d7ce6"/><path d="M256.6 270.2L262.6 268.4L266.2 262L260.1 263.9Z" fill="#cbd8ee"/><path d="M145.7 369.6L151.6 369.4L155.3 364.1L149.4 364.4Z" fill="#6384eb"/><path d="M126.3 379.6L132.2 379.1L136 374.8L130.1 375.3Z" fill="#5977e3"/><path d="M338.4 183.9L344.6 181.6L348.1 177.3L341.9 179.5Z" fill="#f7af91"/><path d="M434.3 158.9L440.6 160L443.8 161.9L437.5 160.6Z" fill="#f39778"/><path d="M197.6 331.3L203.6 331L207.2 324.8L201.2 325.3Z" fill="#8caffe"/><path d="M116.6 384L122.5 383.4L126.3 379.6L120.4 380.2Z" fill="#5470de"/><path d="M155.3 364.1L161.3 364.1L165 357.6L159 357.8Z" fill="#688aef"/><path d="M305.9 211.8L312 209.5L315.5 203.2L309.4 205.5Z" fill="#f3c8b2"/><path d="M106.9 388.6L112.8 387.8L116.6 384L110.7 384.8Z" fill="#506bda"/><path d="M386.8 154.6L393.1 154.1L396.4 152.2L390.2 152.5Z" fill="#f18f71"/><path d="M243.3 286.5L249.4 285.1L253 277.5L246.9 279.1Z" fill="#bcd2f7"/><path d="M348.1 177.3L354.3 175L357.8 170.4L351.6 172.7Z" fill="#f7a688"/><path d="M491.4 159.3L497.8 158.3L500.9 158.8L494.5 159.8Z" fill="#f39577"/><path d="M465.9 162.9L472.3 160.5L475.5 161.7L469.1 164.2Z" fill="#f4987a"/><path d="M97.2 393.3L103.1 392.3L106.9 388.6L101 389.6Z" fill="#4b64d5"/><path d="M292.6 228.9L298.8 226.6L302.3 219.1L296.2 221.4Z" fill="#ecd3c5"/><path d="M279.4 246.3L285.5 244.2L289.1 236.4L283 238.6Z" fill="#dfdbd9"/><path d="M87.5 398.2L93.4 397L97.2 393.3L91.4 394.6Z" fill="#485fd1"/><path d="M207.2 324.8L213.2 324.3L216.9 317.5L210.8 318.2Z" fill="#94b6ff"/><path d="M418.5 154.8L424.8 155.9L428 157.6L421.8 156.3Z" fill="#f29274"/><path d="M77.8 403.2L83.7 401.8L87.5 398.2L81.7 399.6Z" fill="#4358cb"/><path d="M165 357.6L171 357.7L174.6 350L168.6 350.2Z" fill="#7093f3"/><path d="M68.2 408.2L74 406.7L77.8 403.2L72 404.7Z" fill="#3e51c5"/><path d="M230.1 302.3L236.2 301.2L239.7 293.8L233.7 295.1Z" fill="#adc9fd"/><path d="M266.2 262L272.3 260.2L275.9 253.7L269.8 255.7Z" fill="#d3dbe7"/><path d="M58.5 413.1L64.3 411.5L68.2 408.2L62.4 409.8Z" fill="#3b4cc0"/><path d="M357.8 170.4L364 168.3L367.5 164L361.2 166Z" fill="#f59f80"/><path d="M377.2 158.6L383.4 157.4L386.8 154.6L380.6 155.6Z" fill="#f29274"/><path d="M402.7 152.4L409 152.9L412.3 153.7L406 153Z" fill="#f18d6f"/><path d="M367.5 164L373.7 162.3L377.2 158.6L370.9 160.1Z" fill="#f39778"/><path d="M315.5 203.2L321.7 200.8L325.2 195.3L319.1 197.6Z" fill="#f6bfa6"/><path d="M174.6 350L180.6 350L184.2 343.5L178.3 343.7Z" fill="#799cf8"/><path d="M507.3 158.4L513.8 157.8L516.8 157.9L510.4 158.5Z" fill="#f39475"/><path d="M216.9 317.5L222.9 316.9L226.5 309.6L220.5 310.5Z" fill="#9dbdff"/><path d="M253 277.5L259.1 275.9L262.6 268.4L256.6 270.2Z" fill="#c6d6f1"/><path d="M184.2 343.5L190.3 343.4L193.9 337.3L187.9 337.6Z" fill="#81a4fb"/><path d="M440.6 160L446.9 161L450.1 162.9L443.8 161.9Z" fill="#f39778"/><path d="M456.4 163.4L462.8 161.3L465.9 162.9L459.5 165.1Z" fill="#f4987a"/><path d="M239.7 293.8L245.8 292.6L249.4 285.1L243.3 286.5Z" fill="#b6cefa"/><path d="M481.9 160.1L488.3 158.5L491.4 159.3L485 160.9Z" fill="#f39475"/><path d="M325.2 195.3L331.4 193.1L334.9 188.1L328.7 190.2Z" fill="#f7b89c"/><path d="M302.3 219.1L308.5 216.8L312 209.5L305.9 211.8Z" fill="#f1ccb8"/><path d="M275.9 253.7L282 251.8L285.5 244.2L279.4 246.3Z" fill="#dbdcde"/><path d="M289.1 236.4L295.2 234.2L298.8 226.6L292.6 228.9Z" fill="#e8d6cc"/><path d="M193.9 337.3L199.9 337.2L203.6 331L197.6 331.3Z" fill="#88abfd"/><path d="M141.9 374.5L147.9 374.5L151.6 369.4L145.7 369.6Z" fill="#6180e9"/><path d="M151.6 369.4L157.6 369.6L161.3 364.1L155.3 364.1Z" fill="#6687ed"/><path d="M132.2 379.1L138.2 378.9L141.9 374.5L136 374.8Z" fill="#5b7ae5"/><path d="M226.5 309.6L232.6 308.8L236.2 301.2L230.1 302.3Z" fill="#a6c4fe"/><path d="M161.3 364.1L167.3 364.5L171 357.7L165 357.6Z" fill="#6b8df0"/><path d="M334.9 188.1L341.1 185.8L344.6 181.6L338.4 183.9Z" fill="#f7b093"/><path d="M424.8 155.9L431.1 157.1L434.3 158.9L428 157.6Z" fill="#f29072"/><path d="M203.6 331L209.6 330.7L213.2 324.3L207.2 324.8Z" fill="#8fb1fe"/><path d="M122.5 383.4L128.4 383L132.2 379.1L126.3 379.6Z" fill="#5875e1"/><path d="M393.1 154.1L399.3 154.1L402.7 152.4L396.4 152.2Z" fill="#f08b6e"/><path d="M262.6 268.4L268.7 266.7L272.3 260.2L266.2 262Z" fill="#cedaeb"/><path d="M344.6 181.6L350.9 179.4L354.3 175L348.1 177.3Z" fill="#f7a98b"/><path d="M112.8 387.8L118.7 387.2L122.5 383.4L116.6 384Z" fill="#5470de"/><path d="M497.8 158.3L504.2 158L507.3 158.4L500.9 158.8Z" fill="#f29072"/><path d="M409 152.9L415.2 153.7L418.5 154.8L412.3 153.7Z" fill="#f08b6e"/><path d="M171 357.7L177 358.1L180.6 350L174.6 350Z" fill="#7396f5"/><path d="M249.4 285.1L255.5 283.8L259.1 275.9L253 277.5Z" fill="#c0d4f5"/><path d="M103.1 392.3L109 391.6L112.8 387.8L106.9 388.6Z" fill="#4f69d9"/><path d="M213.2 324.3L219.3 323.9L222.9 316.9L216.9 317.5Z" fill="#97b8ff"/><path d="M312 209.5L318.2 207.2L321.7 200.8L315.5 203.2Z" fill="#f5c4ac"/><path d="M93.4 397L99.3 396.1L103.1 392.3L97.2 393.3Z" fill="#4b64d5"/><path d="M354.3 175L360.6 172.9L364 168.3L357.8 170.4Z" fill="#f5a081"/><path d="M472.3 160.5L478.7 158.9L481.9 160.1L475.5 161.7Z" fill="#f39475"/><path d="M236.2 301.2L242.2 300.3L245.8 292.6L239.7 293.8Z" fill="#b1cbfc"/><path d="M83.7 401.8L89.5 400.7L93.4 397L87.5 398.2Z" fill="#465ecf"/><path d="M383.4 157.4L389.7 156.7L393.1 154.1L386.8 154.6Z" fill="#f18d6f"/><path d="M285.5 244.2L291.7 242.2L295.2 234.2L289.1 236.4Z" fill="#e3d9d3"/><path d="M298.8 226.6L304.9 224.4L308.5 216.8L302.3 219.1Z" fill="#efcfbf"/><path d="M74 406.7L79.8 405.4L83.7 401.8L77.8 403.2Z" fill="#4358cb"/><path d="M64.3 411.5L70.1 410.1L74 406.7L68.2 408.2Z" fill="#3e51c5"/><path d="M180.6 350L186.6 350.1L190.3 343.4L184.2 343.5Z" fill="#7b9ff9"/><path d="M272.3 260.2L278.4 258.4L282 251.8L275.9 253.7Z" fill="#d7dce3"/><path d="M364 168.3L370.3 166.5L373.7 162.3L367.5 164Z" fill="#f4987a"/><path d="M373.7 162.3L380 160.9L383.4 157.4L377.2 158.6Z" fill="#f29274"/><path d="M446.9 161L453.2 161.5L456.4 163.4L450.1 162.9Z" fill="#f39577"/><path d="M513.8 157.8L520.2 157L523.3 157.1L516.8 157.9Z" fill="#f18f71"/><path d="M54.5 415.8L60.3 414.4L64.3 411.5L58.5 413.1Z" fill="#3b4cc0"/><path d="M222.9 316.9L229 316.3L232.6 308.8L226.5 309.6Z" fill="#a1c0ff"/><path d="M190.3 343.4L196.3 343.4L199.9 337.2L193.9 337.3Z" fill="#84a7fc"/><path d="M321.7 200.8L327.9 198.5L331.4 193.1L325.2 195.3Z" fill="#f7ba9f"/><path d="M431.1 157.1L437.4 158.1L440.6 160L434.3 158.9Z" fill="#f29072"/><path d="M259.1 275.9L265.2 274.5L268.7 266.7L262.6 268.4Z" fill="#cad8ef"/><path d="M157.6 369.6L163.6 370.1L167.3 364.5L161.3 364.1Z" fill="#6788ee"/><path d="M199.9 337.2L206 337L209.6 330.7L203.6 331Z" fill="#8badfd"/><path d="M147.9 374.5L153.9 374.8L157.6 369.6L151.6 369.4Z" fill="#6282ea"/><path d="M488.3 158.5L494.7 157.5L497.8 158.3L491.4 159.3Z" fill="#f18f71"/><path d="M245.8 292.6L251.9 291.5L255.5 283.8L249.4 285.1Z" fill="#bad0f8"/><path d="M167.3 364.5L173.3 365.1L177 358.1L171 357.7Z" fill="#6e90f2"/><path d="M138.2 378.9L144.1 378.9L147.9 374.5L141.9 374.5Z" fill="#5e7de7"/><path d="M399.3 154.1L405.6 154.4L409 152.9L402.7 152.4Z" fill="#ef886b"/><path d="M462.8 161.3L469.2 158.8L472.3 160.5L465.9 162.9Z" fill="#f29274"/><path d="M331.4 193.1L337.6 190.8L341.1 185.8L334.9 188.1Z" fill="#f7b396"/><path d="M282 251.8L288.1 249.9L291.7 242.2L285.5 244.2Z" fill="#dedcdb"/><path d="M308.5 216.8L314.7 214.6L318.2 207.2L312 209.5Z" fill="#f3c7b1"/><path d="M209.6 330.7L215.7 330.4L219.3 323.9L213.2 324.3Z" fill="#92b4fe"/><path d="M232.6 308.8L238.6 308.1L242.2 300.3L236.2 301.2Z" fill="#aac7fd"/><path d="M415.2 153.7L421.5 154.6L424.8 155.9L418.5 154.8Z" fill="#f08a6c"/><path d="M295.2 234.2L301.4 232.1L304.9 224.4L298.8 226.6Z" fill="#ebd3c6"/><path d="M128.4 383L134.4 382.8L138.2 378.9L132.2 379.1Z" fill="#5a78e4"/><path d="M177 358.1L183 358.5L186.6 350.1L180.6 350Z" fill="#7699f6"/><path d="M504.2 158L510.7 157.5L513.8 157.8L507.3 158.4Z" fill="#f18d6f"/><path d="M118.7 387.2L124.6 386.8L128.4 383L122.5 383.4Z" fill="#5673e0"/><path d="M341.1 185.8L347.4 183.5L350.9 179.4L344.6 181.6Z" fill="#f7aa8c"/><path d="M268.7 266.7L274.9 265.1L278.4 258.4L272.3 260.2Z" fill="#d3dbe7"/><path d="M219.3 323.9L225.4 323.5L229 316.3L222.9 316.9Z" fill="#9abbff"/><path d="M109 391.6L114.9 391.1L118.7 387.2L112.8 387.8Z" fill="#536edd"/><path d="M389.7 156.7L396 156.5L399.3 154.1L393.1 154.1Z" fill="#f08a6c"/><path d="M350.9 179.4L357.1 177.2L360.6 172.9L354.3 175Z" fill="#f6a385"/><path d="M255.5 283.8L261.6 282.6L265.2 274.5L259.1 275.9Z" fill="#c4d5f3"/><path d="M99.3 396.1L105.2 395.4L109 391.6L103.1 392.3Z" fill="#4f69d9"/><path d="M186.6 350.1L192.6 350.4L196.3 343.4L190.3 343.4Z" fill="#7ea1fa"/><path d="M242.2 300.3L248.3 299.4L251.9 291.5L245.8 292.6Z" fill="#b5cdfa"/><path d="M478.7 158.9L485.2 157.4L488.3 158.5L481.9 160.1Z" fill="#f18d6f"/><path d="M89.5 400.7L95.4 399.9L99.3 396.1L93.4 397Z" fill="#4a63d3"/><path d="M318.2 207.2L324.4 204.9L327.9 198.5L321.7 200.8Z" fill="#f6bea4"/><path d="M360.6 172.9L366.8 171L370.3 166.5L364 168.3Z" fill="#f59c7d"/><path d="M437.4 158.1L443.7 159L446.9 161L440.6 160Z" fill="#f18f71"/><path d="M79.8 405.4L85.7 404.4L89.5 400.7L83.7 401.8Z" fill="#465ecf"/><path d="M520.2 157L526.7 156.3L529.7 156.4L523.3 157.1Z" fill="#f08b6e"/><path d="M453.2 161.5L459.6 159.3L462.8 161.3L456.4 163.4Z" fill="#f29072"/><path d="M380 160.9L386.3 160.1L389.7 156.7L383.4 157.4Z" fill="#f18d6f"/><path d="M291.7 242.2L297.8 240.2L301.4 232.1L295.2 234.2Z" fill="#e7d7ce"/><path d="M196.3 343.4L202.3 343.4L206 337L199.9 337.2Z" fill="#86a9fc"/><path d="M229 316.3L235 315.8L238.6 308.1L232.6 308.8Z" fill="#a3c2fe"/><path d="M370.3 166.5L376.6 165L380 160.9L373.7 162.3Z" fill="#f39475"/><path d="M70.1 410.1L75.9 408.9L79.8 405.4L74 406.7Z" fill="#4358cb"/><path d="M304.9 224.4L311.1 222.2L314.7 214.6L308.5 216.8Z" fill="#f1ccb8"/><path d="M278.4 258.4L284.6 256.7L288.1 249.9L282 251.8Z" fill="#dadce0"/><path d="M163.6 370.1L169.6 370.8L173.3 365.1L167.3 364.5Z" fill="#6a8bef"/><path d="M60.3 414.4L66.2 413L70.1 410.1L64.3 411.5Z" fill="#3e51c5"/><path d="M153.9 374.8L159.9 375.4L163.6 370.1L157.6 369.6Z" fill="#6485ec"/><path d="M173.3 365.1L179.3 365.8L183 358.5L177 358.1Z" fill="#6f92f3"/><path d="M405.6 154.4L411.9 155L415.2 153.7L409 152.9Z" fill="#ee8669"/><path d="M206 337L212 336.9L215.7 330.4L209.6 330.7Z" fill="#8db0fe"/><path d="M421.5 154.6L427.8 155.6L431.1 157.1L424.8 155.9Z" fill="#f08a6c"/><path d="M494.7 157.5L501.1 157.4L504.2 158L497.8 158.3Z" fill="#f08b6e"/><path d="M144.1 378.9L150.1 379.2L153.9 374.8L147.9 374.5Z" fill="#6180e9"/><path d="M50.6 418.3L56.4 416.9L60.3 414.4L54.5 415.8Z" fill="#3b4cc0"/><path d="M327.9 198.5L334.1 196.2L337.6 190.8L331.4 193.1Z" fill="#f7b599"/><path d="M265.2 274.5L271.3 273.1L274.9 265.1L268.7 266.7Z" fill="#cedaeb"/><path d="M251.9 291.5L258 290.5L261.6 282.6L255.5 283.8Z" fill="#bed2f6"/><path d="M215.7 330.4L221.7 330.1L225.4 323.5L219.3 323.9Z" fill="#96b7ff"/><path d="M134.4 382.8L140.4 382.8L144.1 378.9L138.2 378.9Z" fill="#5d7ce6"/><path d="M183 358.5L189 359.1L192.6 350.4L186.6 350.1Z" fill="#799cf8"/><path d="M238.6 308.1L244.7 307.5L248.3 299.4L242.2 300.3Z" fill="#aec9fc"/><path d="M469.2 158.8L475.6 157.4L478.7 158.9L472.3 160.5Z" fill="#f08b6e"/><path d="M510.7 157.5L517.1 156.8L520.2 157L513.8 157.8Z" fill="#f08a6c"/><path d="M124.6 386.8L130.6 386.6L134.4 382.8L128.4 383Z" fill="#5977e3"/><path d="M288.1 249.9L294.3 248.2L297.8 240.2L291.7 242.2Z" fill="#e2dad5"/><path d="M337.6 190.8L343.9 188.4L347.4 183.5L341.1 185.8Z" fill="#f7ad90"/><path d="M314.7 214.6L320.9 212.4L324.4 204.9L318.2 207.2Z" fill="#f5c2aa"/><path d="M301.4 232.1L307.6 230L311.1 222.2L304.9 224.4Z" fill="#eed0c0"/><path d="M225.4 323.5L231.4 323.2L235 315.8L229 316.3Z" fill="#9ebeff"/><path d="M396 156.5L402.2 156.6L405.6 154.4L399.3 154.1Z" fill="#ee8669"/><path d="M114.9 391.1L120.8 390.7L124.6 386.8L118.7 387.2Z" fill="#5673e0"/><path d="M192.6 350.4L198.7 350.6L202.3 343.4L196.3 343.4Z" fill="#81a4fb"/><path d="M443.7 159L450 159.4L453.2 161.5L446.9 161Z" fill="#f18d6f"/><path d="M274.9 265.1L281 263.6L284.6 256.7L278.4 258.4Z" fill="#d6dce4"/><path d="M347.4 183.5L353.6 181.3L357.1 177.2L350.9 179.4Z" fill="#f6a586"/><path d="M105.2 395.4L111.1 394.9L114.9 391.1L109 391.6Z" fill="#516ddb"/><path d="M261.6 282.6L267.7 281.4L271.3 273.1L265.2 274.5Z" fill="#c9d7f0"/><path d="M248.3 299.4L254.4 298.7L258 290.5L251.9 291.5Z" fill="#b7cff9"/><path d="M526.7 156.3L533.1 156.2L536.2 156.4L529.7 156.4Z" fill="#ef886b"/><path d="M169.6 370.8L175.6 371.6L179.3 365.8L173.3 365.1Z" fill="#6b8df0"/><path d="M357.1 177.2L363.4 175.2L366.8 171L360.6 172.9Z" fill="#f59d7e"/><path d="M95.4 399.9L101.3 399.2L105.2 395.4L99.3 396.1Z" fill="#4e68d8"/><path d="M485.2 157.4L491.6 156.4L494.7 157.5L488.3 158.5Z" fill="#ef886b"/><path d="M202.3 343.4L208.4 343.5L212 336.9L206 337Z" fill="#89acfd"/><path d="M386.3 160.1L392.6 159.6L396 156.5L389.7 156.7Z" fill="#f08a6c"/><path d="M427.8 155.6L434.1 156.5L437.4 158.1L431.1 157.1Z" fill="#ef886b"/><path d="M159.9 375.4L165.9 376.1L169.6 370.8L163.6 370.1Z" fill="#6687ed"/><path d="M411.9 155L418.2 155.7L421.5 154.6L415.2 153.7Z" fill="#ee8468"/><path d="M179.3 365.8L185.4 366.6L189 359.1L183 358.5Z" fill="#7295f4"/><path d="M235 315.8L241.1 315.4L244.7 307.5L238.6 308.1Z" fill="#a7c5fe"/><path d="M85.7 404.4L91.6 403.6L95.4 399.9L89.5 400.7Z" fill="#4a63d3"/><path d="M366.8 171L373.1 169.4L376.6 165L370.3 166.5Z" fill="#f39577"/><path d="M376.6 165L382.8 163.9L386.3 160.1L380 160.9Z" fill="#f18f71"/><path d="M75.9 408.9L81.8 408L85.7 404.4L79.8 405.4Z" fill="#465ecf"/><path d="M324.4 204.9L330.6 202.6L334.1 196.2L327.9 198.5Z" fill="#f7b99e"/><path d="M150.1 379.2L156.1 379.8L159.9 375.4L153.9 374.8Z" fill="#6282ea"/><path d="M212 336.9L218.1 336.8L221.7 330.1L215.7 330.4Z" fill="#90b2fe"/><path d="M459.6 159.3L466 156.9L469.2 158.8L462.8 161.3Z" fill="#f08a6c"/><path d="M297.8 240.2L304 238.4L307.6 230L301.4 232.1Z" fill="#ead4c8"/><path d="M501.1 157.4L507.5 157.1L510.7 157.5L504.2 158Z" fill="#ef886b"/><path d="M284.6 256.7L290.7 255L294.3 248.2L288.1 249.9Z" fill="#dedcdb"/><path d="M311.1 222.2L317.3 220.1L320.9 212.4L314.7 214.6Z" fill="#f3c8b2"/><path d="M66.2 413L72 412L75.9 408.9L70.1 410.1Z" fill="#4358cb"/><path d="M189 359.1L195.1 359.7L198.7 350.6L192.6 350.4Z" fill="#7a9df8"/><path d="M140.4 382.8L146.4 383L150.1 379.2L144.1 378.9Z" fill="#5f7fe8"/><path d="M221.7 330.1L227.8 330L231.4 323.2L225.4 323.5Z" fill="#98b9ff"/><path d="M56.4 416.9L62.2 415.7L66.2 413L60.3 414.4Z" fill="#3f53c6"/><path d="M258 290.5L264.1 289.6L267.7 281.4L261.6 282.6Z" fill="#c1d4f4"/><path d="M271.3 273.1L277.4 271.8L281 263.6L274.9 265.1Z" fill="#d2dbe8"/><path d="M244.7 307.5L250.8 307L254.4 298.7L248.3 299.4Z" fill="#b1cbfc"/><path d="M334.1 196.2L340.4 193.8L343.9 188.4L337.6 190.8Z" fill="#f7b093"/><path d="M130.6 386.6L136.6 386.6L140.4 382.8L134.4 382.8Z" fill="#5d7ce6"/><path d="M402.2 156.6L408.5 157L411.9 155L405.6 154.4Z" fill="#ee8468"/><path d="M517.1 156.8L523.6 156.1L526.7 156.3L520.2 157Z" fill="#ee8669"/><path d="M475.6 157.4L482 155.9L485.2 157.4L478.7 158.9Z" fill="#ee8669"/><path d="M231.4 323.2L237.5 323L241.1 315.4L235 315.8Z" fill="#a1c0ff"/><path d="M198.7 350.6L204.8 350.9L208.4 343.5L202.3 343.4Z" fill="#84a7fc"/><path d="M120.8 390.7L126.8 390.5L130.6 386.6L124.6 386.8Z" fill="#5977e3"/><path d="M294.3 248.2L300.5 246.4L304 238.4L297.8 240.2Z" fill="#e6d7cf"/><path d="M434.1 156.5L440.5 157.2L443.7 159L437.4 158.1Z" fill="#ee8669"/><path d="M175.6 371.6L181.7 372.5L185.4 366.6L179.3 365.8Z" fill="#6c8ff1"/><path d="M418.2 155.7L424.5 156.5L427.8 155.6L421.5 154.6Z" fill="#ed8366"/><path d="M450 159.4L456.4 157.3L459.6 159.3L453.2 161.5Z" fill="#ef886b"/><path d="M343.9 188.4L350.1 186.1L353.6 181.3L347.4 183.5Z" fill="#f7a889"/><path d="M307.6 230L313.8 228.1L317.3 220.1L311.1 222.2Z" fill="#f1cdba"/><path d="M320.9 212.4L327.1 210.2L330.6 202.6L324.4 204.9Z" fill="#f6bea4"/><path d="M165.9 376.1L171.9 377L175.6 371.6L169.6 370.8Z" fill="#6788ee"/><path d="M111.1 394.9L117 394.5L120.8 390.7L114.9 391.1Z" fill="#5572df"/><path d="M185.4 366.6L191.4 367.4L195.1 359.7L189 359.1Z" fill="#7396f5"/><path d="M208.4 343.5L214.5 343.6L218.1 336.8L212 336.9Z" fill="#8caffe"/><path d="M392.6 159.6L398.9 159.5L402.2 156.6L396 156.5Z" fill="#ee8669"/><path d="M491.6 156.4L498 156.6L501.1 157.4L494.7 157.5Z" fill="#ee8468"/><path d="M281 263.6L287.2 262.1L290.7 255L284.6 256.7Z" fill="#dadce0"/><path d="M267.7 281.4L273.9 280.3L277.4 271.8L271.3 273.1Z" fill="#ccd9ed"/><path d="M254.4 298.7L260.6 298L264.1 289.6L258 290.5Z" fill="#bbd1f8"/><path d="M101.3 399.2L107.2 398.7L111.1 394.9L105.2 395.4Z" fill="#516ddb"/><path d="M156.1 379.8L162.2 380.6L165.9 376.1L159.9 375.4Z" fill="#6485ec"/><path d="M353.6 181.3L359.9 179.2L363.4 175.2L357.1 177.2Z" fill="#f59f80"/><path d="M241.1 315.4L247.2 315.2L250.8 307L244.7 307.5Z" fill="#aac7fd"/><path d="M91.6 403.6L97.5 403L101.3 399.2L95.4 399.9Z" fill="#4e68d8"/><path d="M363.4 175.2L369.6 173.5L373.1 169.4L366.8 171Z" fill="#f4987a"/><path d="M218.1 336.8L224.2 336.9L227.8 330L221.7 330.1Z" fill="#93b5fe"/><path d="M382.8 163.9L389.1 163.3L392.6 159.6L386.3 160.1Z" fill="#f08b6e"/><path d="M373.1 169.4L379.4 168.2L382.8 163.9L376.6 165Z" fill="#f29072"/><path d="M507.5 157.1L514 156.5L517.1 156.8L510.7 157.5Z" fill="#ee8468"/><path d="M81.8 408L87.7 407.2L91.6 403.6L85.7 404.4Z" fill="#4a63d3"/><path d="M195.1 359.7L201.1 360.2L204.8 350.9L198.7 350.6Z" fill="#7da0f9"/><path d="M146.4 383L152.4 383.6L156.1 379.8L150.1 379.2Z" fill="#6180e9"/><path d="M227.8 330L233.9 330L237.5 323L231.4 323.2Z" fill="#9bbcff"/><path d="M466 156.9L472.5 155.5L475.6 157.4L469.2 158.8Z" fill="#ee8468"/><path d="M72 412L77.9 411.1L81.8 408L75.9 408.9Z" fill="#465ecf"/><path d="M330.6 202.6L336.9 200.3L340.4 193.8L334.1 196.2Z" fill="#f7b497"/><path d="M304 238.4L310.2 236.5L313.8 228.1L307.6 230Z" fill="#edd1c2"/><path d="M290.7 255L296.9 253.5L300.5 246.4L294.3 248.2Z" fill="#e1dad6"/><path d="M408.5 157L414.9 157.5L418.2 155.7L411.9 155Z" fill="#ed8366"/><path d="M317.3 220.1L323.5 217.9L327.1 210.2L320.9 212.4Z" fill="#f5c4ac"/><path d="M136.6 386.6L142.6 386.9L146.4 383L140.4 382.8Z" fill="#5e7de7"/><path d="M264.1 289.6L270.3 288.7L273.9 280.3L267.7 281.4Z" fill="#c5d6f2"/><path d="M250.8 307L257 306.5L260.6 298L254.4 298.7Z" fill="#b5cdfa"/><path d="M62.2 415.7L68.1 414.7L72 412L66.2 413Z" fill="#4358cb"/><path d="M523.6 156.1L530 156L533.1 156.2L526.7 156.3Z" fill="#ec8165"/><path d="M277.4 271.8L283.6 270.5L287.2 262.1L281 263.6Z" fill="#d5dbe5"/><path d="M204.8 350.9L210.8 351.2L214.5 343.6L208.4 343.5Z" fill="#86a9fc"/><path d="M424.5 156.5L430.8 157.2L434.1 156.5L427.8 155.6Z" fill="#ed8366"/><path d="M181.7 372.5L187.8 373.5L191.4 367.4L185.4 366.6Z" fill="#6e90f2"/><path d="M440.5 157.2L446.8 157.5L450 159.4L443.7 159Z" fill="#ee8468"/><path d="M237.5 323L243.6 322.9L247.2 315.2L241.1 315.4Z" fill="#a3c2fe"/><path d="M171.9 377L178 378L181.7 372.5L175.6 371.6Z" fill="#688aef"/><path d="M126.8 390.5L132.8 390.5L136.6 386.6L130.6 386.6Z" fill="#5b7ae5"/><path d="M482 155.9L488.5 155L491.6 156.4L485.2 157.4Z" fill="#ec8165"/><path d="M191.4 367.4L197.5 368.2L201.1 360.2L195.1 359.7Z" fill="#7597f6"/><path d="M340.4 193.8L346.6 191.5L350.1 186.1L343.9 188.4Z" fill="#f7aa8c"/><path d="M398.9 159.5L405.2 159.6L408.5 157L402.2 156.6Z" fill="#ed8366"/><path d="M162.2 380.6L168.2 381.5L171.9 377L165.9 376.1Z" fill="#6687ed"/><path d="M117 394.5L123 394.4L126.8 390.5L120.8 390.7Z" fill="#5875e1"/><path d="M214.5 343.6L220.5 343.8L224.2 336.9L218.1 336.8Z" fill="#8db0fe"/><path d="M498 156.6L504.4 156.6L507.5 157.1L501.1 157.4Z" fill="#ec8165"/><path d="M300.5 246.4L306.7 244.8L310.2 236.5L304 238.4Z" fill="#ead5c9"/><path d="M107.2 398.7L113.2 398.4L117 394.5L111.1 394.9Z" fill="#5470de"/><path d="M260.6 298L266.7 297.4L270.3 288.7L264.1 289.6Z" fill="#bfd3f6"/><path d="M456.4 157.3L462.9 155L466 156.9L459.6 159.3Z" fill="#ec8165"/><path d="M313.8 228.1L320 226L323.5 217.9L317.3 220.1Z" fill="#f2c9b4"/><path d="M350.1 186.1L356.4 184L359.9 179.2L353.6 181.3Z" fill="#f6a283"/><path d="M247.2 315.2L253.4 315L257 306.5L250.8 307Z" fill="#adc9fd"/><path d="M327.1 210.2L333.3 207.9L336.9 200.3L330.6 202.6Z" fill="#f7b99e"/><path d="M224.2 336.9L230.3 337L233.9 330L227.8 330Z" fill="#96b7ff"/><path d="M273.9 280.3L280 279.3L283.6 270.5L277.4 271.8Z" fill="#cfdaea"/><path d="M287.2 262.1L293.3 260.7L296.9 253.5L290.7 255Z" fill="#dddcdc"/><path d="M389.1 163.3L395.4 162.9L398.9 159.5L392.6 159.6Z" fill="#ee8669"/><path d="M152.4 383.6L158.4 384.4L162.2 380.6L156.1 379.8Z" fill="#6384eb"/><path d="M201.1 360.2L207.2 360.9L210.8 351.2L204.8 350.9Z" fill="#7ea1fa"/><path d="M97.5 403L103.4 402.5L107.2 398.7L101.3 399.2Z" fill="#506bda"/><path d="M359.9 179.2L366.2 177.4L369.6 173.5L363.4 175.2Z" fill="#f49a7b"/><path d="M514 156.5L520.5 155.9L523.6 156.1L517.1 156.8Z" fill="#ec7f63"/><path d="M379.4 168.2L385.7 167.3L389.1 163.3L382.8 163.9Z" fill="#f18d6f"/><path d="M369.6 173.5L375.9 172.1L379.4 168.2L373.1 169.4Z" fill="#f29274"/><path d="M414.9 157.5L421.2 158L424.5 156.5L418.2 155.7Z" fill="#ec8165"/><path d="M87.7 407.2L93.6 406.7L97.5 403L91.6 403.6Z" fill="#4c66d6"/><path d="M233.9 330L240 330.1L243.6 322.9L237.5 323Z" fill="#9ebeff"/><path d="M142.6 386.9L148.6 387.5L152.4 383.6L146.4 383Z" fill="#6180e9"/><path d="M77.9 411.1L83.8 410.4L87.7 407.2L81.8 408Z" fill="#4a63d3"/><path d="M430.8 157.2L437.2 157.8L440.5 157.2L434.1 156.5Z" fill="#ec8165"/><path d="M472.5 155.5L478.9 154.2L482 155.9L475.6 157.4Z" fill="#eb7d62"/><path d="M187.8 373.5L193.8 374.4L197.5 368.2L191.4 367.4Z" fill="#6f92f3"/><path d="M178 378L184.1 379.1L187.8 373.5L181.7 372.5Z" fill="#6a8bef"/><path d="M257 306.5L263.1 306.1L266.7 297.4L260.6 298Z" fill="#b7cff9"/><path d="M296.9 253.5L303.1 251.9L306.7 244.8L300.5 246.4Z" fill="#e5d8d1"/><path d="M210.8 351.2L216.9 351.6L220.5 343.8L214.5 343.6Z" fill="#88abfd"/><path d="M310.2 236.5L316.4 234.7L320 226L313.8 228.1Z" fill="#f0cdbb"/><path d="M270.3 288.7L276.4 287.9L280 279.3L273.9 280.3Z" fill="#c9d7f0"/><path d="M336.9 200.3L343.1 198L346.6 191.5L340.4 193.8Z" fill="#f7af91"/><path d="M243.6 322.9L249.8 323L253.4 315L247.2 315.2Z" fill="#a6c4fe"/><path d="M197.5 368.2L203.6 369.1L207.2 360.9L201.1 360.2Z" fill="#7699f6"/><path d="M68.1 414.7L74 413.9L77.9 411.1L72 412Z" fill="#465ecf"/><path d="M132.8 390.5L138.8 390.8L142.6 386.9L136.6 386.6Z" fill="#5e7de7"/><path d="M446.8 157.5L453.2 155.4L456.4 157.3L450 159.4Z" fill="#ec7f63"/><path d="M323.5 217.9L329.8 215.8L333.3 207.9L327.1 210.2Z" fill="#f6bfa6"/><path d="M168.2 381.5L174.3 382.5L178 378L171.9 377Z" fill="#6788ee"/><path d="M488.5 155L494.9 155.6L498 156.6L491.6 156.4Z" fill="#eb7d62"/><path d="M283.6 270.5L289.8 269.3L293.3 260.7L287.2 262.1Z" fill="#d8dce2"/><path d="M405.2 159.6L411.5 159.8L414.9 157.5L408.5 157Z" fill="#ec8165"/><path d="M220.5 343.8L226.7 344.1L230.3 337L224.2 336.9Z" fill="#90b2fe"/><path d="M123 394.4L129 394.4L132.8 390.5L126.8 390.5Z" fill="#5a78e4"/><path d="M504.4 156.6L510.9 156.2L514 156.5L507.5 157.1Z" fill="#eb7d62"/><path d="M158.4 384.4L164.4 385.4L168.2 381.5L162.2 380.6Z" fill="#6485ec"/><path d="M346.6 191.5L352.9 189.3L356.4 184L350.1 186.1Z" fill="#f6a586"/><path d="M113.2 398.4L119.2 398.2L123 394.4L117 394.5Z" fill="#5875e1"/><path d="M230.3 337L236.4 337.3L240 330.1L233.9 330Z" fill="#98b9ff"/><path d="M207.2 360.9L213.3 361.6L216.9 351.6L210.8 351.2Z" fill="#80a3fa"/><path d="M253.4 315L259.5 314.8L263.1 306.1L257 306.5Z" fill="#b1cbfc"/><path d="M395.4 162.9L401.8 162.8L405.2 159.6L398.9 159.5Z" fill="#ee8468"/><path d="M266.7 297.4L272.8 296.8L276.4 287.9L270.3 288.7Z" fill="#c1d4f4"/><path d="M421.2 158L427.5 158.5L430.8 157.2L424.5 156.5Z" fill="#ec7f63"/><path d="M306.7 244.8L312.9 243.1L316.4 234.7L310.2 236.5Z" fill="#ecd3c5"/><path d="M103.4 402.5L109.4 402.3L113.2 398.4L107.2 398.7Z" fill="#5470de"/><path d="M280 279.3L286.2 278.4L289.8 269.3L283.6 270.5Z" fill="#d3dbe7"/><path d="M520.5 155.9L526.9 155.9L530 156L523.6 156.1Z" fill="#ea7b60"/><path d="M462.9 155L469.3 153.6L472.5 155.5L466 156.9Z" fill="#ea7b60"/><path d="M385.7 167.3L392 166.7L395.4 162.9L389.1 163.3Z" fill="#ef886b"/><path d="M293.3 260.7L299.5 259.3L303.1 251.9L296.9 253.5Z" fill="#e1dad6"/><path d="M356.4 184L362.7 182L366.2 177.4L359.9 179.2Z" fill="#f59c7d"/><path d="M240 330.1L246.2 330.3L249.8 323L243.6 322.9Z" fill="#a1c0ff"/><path d="M320 226L326.2 224L329.8 215.8L323.5 217.9Z" fill="#f4c5ad"/><path d="M148.6 387.5L154.6 388.3L158.4 384.4L152.4 383.6Z" fill="#6282ea"/><path d="M333.3 207.9L339.6 205.7L343.1 198L336.9 200.3Z" fill="#f7b497"/><path d="M375.9 172.1L382.2 171.1L385.7 167.3L379.4 168.2Z" fill="#f18f71"/><path d="M93.6 406.7L99.5 406.2L103.4 402.5L97.5 403Z" fill="#506bda"/><path d="M193.8 374.4L199.9 375.4L203.6 369.1L197.5 368.2Z" fill="#7093f3"/><path d="M366.2 177.4L372.5 175.9L375.9 172.1L369.6 173.5Z" fill="#f39475"/><path d="M437.2 157.8L443.5 158L446.8 157.5L440.5 157.2Z" fill="#eb7d62"/><path d="M184.1 379.1L190.1 380.1L193.8 374.4L187.8 373.5Z" fill="#6b8df0"/><path d="M216.9 351.6L223 352.1L226.7 344.1L220.5 343.8Z" fill="#8badfd"/><path d="M203.6 369.1L209.7 370.1L213.3 361.6L207.2 360.9Z" fill="#779af7"/><path d="M83.8 410.4L89.7 409.9L93.6 406.7L87.7 407.2Z" fill="#4c66d6"/><path d="M174.3 382.5L180.3 383.6L184.1 379.1L178 378Z" fill="#688aef"/><path d="M478.9 154.2L485.4 153.4L488.5 155L482 155.9Z" fill="#e97a5f"/><path d="M138.8 390.8L144.8 391.3L148.6 387.5L142.6 386.9Z" fill="#5f7fe8"/><path d="M263.1 306.1L269.3 305.8L272.8 296.8L266.7 297.4Z" fill="#bbd1f8"/><path d="M249.8 323L255.9 323L259.5 314.8L253.4 315Z" fill="#a9c6fd"/><path d="M494.9 155.6L501.3 155.9L504.4 156.6L498 156.6Z" fill="#ea7b60"/><path d="M411.5 159.8L417.8 160.1L421.2 158L414.9 157.5Z" fill="#ec7f63"/><path d="M276.4 287.9L282.6 287.2L286.2 278.4L280 279.3Z" fill="#ccd9ed"/><path d="M303.1 251.9L309.3 250.4L312.9 243.1L306.7 244.8Z" fill="#e8d6cc"/><path d="M74 413.9L79.9 413.3L83.8 410.4L77.9 411.1Z" fill="#4a63d3"/><path d="M226.7 344.1L232.8 344.5L236.4 337.3L230.3 337Z" fill="#93b5fe"/><path d="M316.4 234.7L322.7 232.8L326.2 224L320 226Z" fill="#f2cbb7"/><path d="M129 394.4L135 394.6L138.8 390.8L132.8 390.5Z" fill="#5d7ce6"/><path d="M164.4 385.4L170.5 386.4L174.3 382.5L168.2 381.5Z" fill="#6687ed"/><path d="M289.8 269.3L296 268.2L299.5 259.3L293.3 260.7Z" fill="#dcdddd"/><path d="M343.1 198L349.4 195.8L352.9 189.3L346.6 191.5Z" fill="#f7a98b"/><path d="M510.9 156.2L517.4 155.7L520.5 155.9L514 156.5Z" fill="#e97a5f"/><path d="M453.2 155.4L459.7 153.1L462.9 155L456.4 157.3Z" fill="#e9785d"/><path d="M213.3 361.6L219.4 362.5L223 352.1L216.9 351.6Z" fill="#82a6fb"/><path d="M329.8 215.8L336 213.7L339.6 205.7L333.3 207.9Z" fill="#f7ba9f"/><path d="M236.4 337.3L242.5 337.6L246.2 330.3L240 330.1Z" fill="#9bbcff"/><path d="M427.5 158.5L433.9 158.9L437.2 157.8L430.8 157.2Z" fill="#eb7d62"/><path d="M401.8 162.8L408.1 162.7L411.5 159.8L405.2 159.6Z" fill="#ec8165"/><path d="M119.2 398.2L125.1 398.2L129 394.4L123 394.4Z" fill="#5a78e4"/><path d="M259.5 314.8L265.7 314.8L269.3 305.8L263.1 306.1Z" fill="#b3cdfb"/><path d="M272.8 296.8L279 296.3L282.6 287.2L276.4 287.9Z" fill="#c5d6f2"/><path d="M154.6 388.3L160.7 389.2L164.4 385.4L158.4 384.4Z" fill="#6384eb"/><path d="M199.9 375.4L206 376.5L209.7 370.1L203.6 369.1Z" fill="#7295f4"/><path d="M109.4 402.3L115.3 402.1L119.2 398.2L113.2 398.4Z" fill="#5673e0"/><path d="M190.1 380.1L196.2 381.2L199.9 375.4L193.8 374.4Z" fill="#6c8ff1"/><path d="M246.2 330.3L252.3 330.5L255.9 323L249.8 323Z" fill="#a3c2fe"/><path d="M352.9 189.3L359.2 187.3L362.7 182L356.4 184Z" fill="#f59f80"/><path d="M392 166.7L398.3 166.3L401.8 162.8L395.4 162.9Z" fill="#ee8468"/><path d="M286.2 278.4L292.4 277.5L296 268.2L289.8 269.3Z" fill="#d6dce4"/><path d="M312.9 243.1L319.1 241.4L322.7 232.8L316.4 234.7Z" fill="#efcfbf"/><path d="M209.7 370.1L215.8 371.2L219.4 362.5L213.3 361.6Z" fill="#799cf8"/><path d="M469.3 153.6L475.8 152.3L478.9 154.2L472.5 155.5Z" fill="#e8765c"/><path d="M99.5 406.2L105.5 406L109.4 402.3L103.4 402.5Z" fill="#536edd"/><path d="M180.3 383.6L186.4 384.6L190.1 380.1L184.1 379.1Z" fill="#6a8bef"/><path d="M382.2 171.1L388.6 170.3L392 166.7L385.7 167.3Z" fill="#f08a6c"/><path d="M223 352.1L229.2 352.8L232.8 344.5L226.7 344.1Z" fill="#8caffe"/><path d="M299.5 259.3L305.7 258L309.3 250.4L303.1 251.9Z" fill="#e4d9d2"/><path d="M443.5 158L450 155.7L453.2 155.4L446.8 157.5Z" fill="#e97a5f"/><path d="M362.7 182L369 180.3L372.5 175.9L366.2 177.4Z" fill="#f39778"/><path d="M144.8 391.3L150.8 392.1L154.6 388.3L148.6 387.5Z" fill="#6282ea"/><path d="M372.5 175.9L378.8 174.6L382.2 171.1L375.9 172.1Z" fill="#f18f71"/><path d="M485.4 153.4L491.8 154.5L494.9 155.6L488.5 155Z" fill="#e8765c"/><path d="M326.2 224L332.5 222L336 213.7L329.8 215.8Z" fill="#f5c0a7"/><path d="M417.8 160.1L424.2 160.4L427.5 158.5L421.2 158Z" fill="#ea7b60"/><path d="M89.7 409.9L95.7 409.5L99.5 406.2L93.6 406.7Z" fill="#506bda"/><path d="M501.3 155.9L507.8 155.8L510.9 156.2L504.4 156.6Z" fill="#e9785d"/><path d="M339.6 205.7L345.8 203.6L349.4 195.8L343.1 198Z" fill="#f7af91"/><path d="M255.9 323L262.1 323.2L265.7 314.8L259.5 314.8Z" fill="#abc8fd"/><path d="M269.3 305.8L275.4 305.6L279 296.3L272.8 296.8Z" fill="#bed2f6"/><path d="M232.8 344.5L238.9 345.1L242.5 337.6L236.4 337.3Z" fill="#94b6ff"/><path d="M170.5 386.4L176.6 387.4L180.3 383.6L174.3 382.5Z" fill="#6788ee"/><path d="M135 394.6L141 395.2L144.8 391.3L138.8 390.8Z" fill="#5f7fe8"/><path d="M282.6 287.2L288.8 286.6L292.4 277.5L286.2 278.4Z" fill="#cfdaea"/><path d="M79.9 413.3L85.8 412.9L89.7 409.9L83.8 410.4Z" fill="#4e68d8"/><path d="M219.4 362.5L225.6 363.5L229.2 352.8L223 352.1Z" fill="#84a7fc"/><path d="M517.4 155.7L523.8 155.8L526.9 155.9L520.5 155.9Z" fill="#e8765c"/><path d="M433.9 158.9L440.2 158.9L443.5 158L437.2 157.8Z" fill="#e97a5f"/><path d="M309.3 250.4L315.5 248.9L319.1 241.4L312.9 243.1Z" fill="#ebd3c6"/><path d="M242.5 337.6L248.7 338.1L252.3 330.5L246.2 330.3Z" fill="#9dbdff"/><path d="M408.1 162.7L414.4 162.8L417.8 160.1L411.5 159.8Z" fill="#eb7d62"/><path d="M296 268.2L302.2 267.1L305.7 258L299.5 259.3Z" fill="#dfdbd9"/><path d="M125.1 398.2L131.2 398.5L135 394.6L129 394.4Z" fill="#5d7ce6"/><path d="M160.7 389.2L166.7 390.2L170.5 386.4L164.4 385.4Z" fill="#6485ec"/><path d="M206 376.5L212.1 377.8L215.8 371.2L209.7 370.1Z" fill="#7396f5"/><path d="M322.7 232.8L328.9 231L332.5 222L326.2 224Z" fill="#f3c7b1"/><path d="M265.7 314.8L271.8 314.8L275.4 305.6L269.3 305.8Z" fill="#b6cefa"/><path d="M196.2 381.2L202.3 382.4L206 376.5L199.9 375.4Z" fill="#6e90f2"/><path d="M349.4 195.8L355.7 193.8L359.2 187.3L352.9 189.3Z" fill="#f6a385"/><path d="M459.7 153.1L466.1 151.8L469.3 153.6L462.9 155Z" fill="#e67259"/><path d="M336 213.7L342.3 211.6L345.8 203.6L339.6 205.7Z" fill="#f7b599"/><path d="M215.8 371.2L221.9 372.5L225.6 363.5L219.4 362.5Z" fill="#7a9df8"/><path d="M252.3 330.5L258.5 330.8L262.1 323.2L255.9 323Z" fill="#a5c3fe"/><path d="M279 296.3L285.2 295.9L288.8 286.6L282.6 287.2Z" fill="#c7d7f0"/><path d="M115.3 402.1L121.3 402.1L125.1 398.2L119.2 398.2Z" fill="#5977e3"/><path d="M186.4 384.6L192.5 385.7L196.2 381.2L190.1 380.1Z" fill="#6a8bef"/><path d="M398.3 166.3L404.7 166L408.1 162.7L401.8 162.8Z" fill="#ec8165"/><path d="M229.2 352.8L235.3 353.5L238.9 345.1L232.8 344.5Z" fill="#8fb1fe"/><path d="M150.8 392.1L156.9 393L160.7 389.2L154.6 388.3Z" fill="#6384eb"/><path d="M491.8 154.5L498.2 155.1L501.3 155.9L494.9 155.6Z" fill="#e7745b"/><path d="M105.5 406L111.5 405.8L115.3 402.1L109.4 402.3Z" fill="#5673e0"/><path d="M292.4 277.5L298.6 276.6L302.2 267.1L296 268.2Z" fill="#d8dce2"/><path d="M388.6 170.3L394.9 169.6L398.3 166.3L392 166.7Z" fill="#ee8669"/><path d="M424.2 160.4L430.5 160.5L433.9 158.9L427.5 158.5Z" fill="#e97a5f"/><path d="M475.8 152.3L482.2 151.7L485.4 153.4L478.9 154.2Z" fill="#e57058"/><path d="M359.2 187.3L365.5 185.5L369 180.3L362.7 182Z" fill="#f49a7b"/><path d="M319.1 241.4L325.3 239.8L328.9 231L322.7 232.8Z" fill="#f1cdba"/><path d="M176.6 387.4L182.7 388.4L186.4 384.6L180.3 383.6Z" fill="#688aef"/><path d="M262.1 323.2L268.2 323.4L271.8 314.8L265.7 314.8Z" fill="#aec9fc"/><path d="M507.8 155.8L514.2 155.5L517.4 155.7L510.9 156.2Z" fill="#e7745b"/><path d="M378.8 174.6L385.1 173.6L388.6 170.3L382.2 171.1Z" fill="#f08b6e"/><path d="M305.7 258L312 256.6L315.5 248.9L309.3 250.4Z" fill="#e7d7ce"/><path d="M238.9 345.1L245.1 345.6L248.7 338.1L242.5 337.6Z" fill="#97b8ff"/><path d="M369 180.3L375.3 178.9L378.8 174.6L372.5 175.9Z" fill="#f29072"/><path d="M95.7 409.5L101.6 409.3L105.5 406L99.5 406.2Z" fill="#536edd"/><path d="M275.4 305.6L281.6 305.4L285.2 295.9L279 296.3Z" fill="#c0d4f5"/><path d="M141 395.2L147 395.9L150.8 392.1L144.8 391.3Z" fill="#6180e9"/><path d="M225.6 363.5L231.7 364.6L235.3 353.5L229.2 352.8Z" fill="#85a8fc"/><path d="M450 155.7L456.4 153.4L459.7 153.1L453.2 155.4Z" fill="#e67259"/><path d="M332.5 222L338.7 220.1L342.3 211.6L336 213.7Z" fill="#f7bca1"/><path d="M345.8 203.6L352.1 201.7L355.7 193.8L349.4 195.8Z" fill="#f7a98b"/><path d="M212.1 377.8L218.3 379.2L221.9 372.5L215.8 371.2Z" fill="#7597f6"/><path d="M288.8 286.6L295 285.9L298.6 276.6L292.4 277.5Z" fill="#d2dbe8"/><path d="M248.7 338.1L254.8 338.5L258.5 330.8L252.3 330.5Z" fill="#9fbfff"/><path d="M85.8 412.9L91.7 412.6L95.7 409.5L89.7 409.9Z" fill="#506bda"/><path d="M166.7 390.2L172.8 391.2L176.6 387.4L170.5 386.4Z" fill="#6687ed"/><path d="M202.3 382.4L208.5 383.7L212.1 377.8L206 376.5Z" fill="#6f92f3"/><path d="M414.4 162.8L420.8 162.8L424.2 160.4L417.8 160.1Z" fill="#ea7b60"/><path d="M131.2 398.5L137.2 399L141 395.2L135 394.6Z" fill="#5e7de7"/><path d="M440.2 158.9L446.7 156.5L450 155.7L443.5 158Z" fill="#e7745b"/><path d="M221.9 372.5L228.1 373.8L231.7 364.6L225.6 363.5Z" fill="#7b9ff9"/><path d="M271.8 314.8L278 314.8L281.6 305.4L275.4 305.6Z" fill="#b9d0f9"/><path d="M192.5 385.7L198.6 387L202.3 382.4L196.2 381.2Z" fill="#6b8df0"/><path d="M315.5 248.9L321.8 247.4L325.3 239.8L319.1 241.4Z" fill="#edd1c2"/><path d="M302.2 267.1L308.4 265.9L312 256.6L305.7 258Z" fill="#e2dad5"/><path d="M258.5 330.8L264.6 331.2L268.2 323.4L262.1 323.2Z" fill="#a7c5fe"/><path d="M121.3 402.1L127.3 402.3L131.2 398.5L125.1 398.2Z" fill="#5b7ae5"/><path d="M235.3 353.5L241.4 354.4L245.1 345.6L238.9 345.1Z" fill="#90b2fe"/><path d="M156.9 393L163 394L166.7 390.2L160.7 389.2Z" fill="#6485ec"/><path d="M404.7 166L411 165.8L414.4 162.8L408.1 162.7Z" fill="#eb7d62"/><path d="M328.9 231L335.2 229.3L338.7 220.1L332.5 222Z" fill="#f5c2aa"/><path d="M466.1 151.8L472.6 150.6L475.8 152.3L469.3 153.6Z" fill="#e36c55"/><path d="M285.2 295.9L291.4 295.5L295 285.9L288.8 286.6Z" fill="#cbd8ee"/><path d="M498.2 155.1L504.6 155.2L507.8 155.8L501.3 155.9Z" fill="#e57058"/><path d="M355.7 193.8L362 192L365.5 185.5L359.2 187.3Z" fill="#f59f80"/><path d="M482.2 151.7L488.6 153.2L491.8 154.5L485.4 153.4Z" fill="#e46e56"/><path d="M182.7 388.4L188.8 389.5L192.5 385.7L186.4 384.6Z" fill="#688aef"/><path d="M430.5 160.5L436.9 160.3L440.2 158.9L433.9 158.9Z" fill="#e8765c"/><path d="M111.5 405.8L117.5 405.8L121.3 402.1L115.3 402.1Z" fill="#5977e3"/><path d="M342.3 211.6L348.6 209.7L352.1 201.7L345.8 203.6Z" fill="#f7b093"/><path d="M394.9 169.6L401.3 169.1L404.7 166L398.3 166.3Z" fill="#ed8366"/><path d="M245.1 345.6L251.2 346.3L254.8 338.5L248.7 338.1Z" fill="#98b9ff"/><path d="M268.2 323.4L274.4 323.6L278 314.8L271.8 314.8Z" fill="#b1cbfc"/><path d="M298.6 276.6L304.8 275.7L308.4 265.9L302.2 267.1Z" fill="#dbdcde"/><path d="M147 395.9L153.1 396.8L156.9 393L150.8 392.1Z" fill="#6282ea"/><path d="M231.7 364.6L237.8 365.8L241.4 354.4L235.3 353.5Z" fill="#86a9fc"/><path d="M514.2 155.5L520.7 155.6L523.8 155.8L517.4 155.7Z" fill="#e57058"/><path d="M365.5 185.5L371.8 184L375.3 178.9L369 180.3Z" fill="#f39475"/><path d="M101.6 409.3L107.6 409.2L111.5 405.8L105.5 406Z" fill="#5572df"/><path d="M218.3 379.2L224.4 380.7L228.1 373.8L221.9 372.5Z" fill="#7597f6"/><path d="M385.1 173.6L391.5 172.8L394.9 169.6L388.6 170.3Z" fill="#ee8669"/><path d="M281.6 305.4L287.8 305.2L291.4 295.5L285.2 295.9Z" fill="#c3d5f4"/><path d="M208.5 383.7L214.6 385.2L218.3 379.2L212.1 377.8Z" fill="#6f92f3"/><path d="M325.3 239.8L331.6 238.2L335.2 229.3L328.9 231Z" fill="#f2c9b4"/><path d="M172.8 391.2L178.9 392.2L182.7 388.4L176.6 387.4Z" fill="#6788ee"/><path d="M375.3 178.9L381.7 177.8L385.1 173.6L378.8 174.6Z" fill="#f18d6f"/><path d="M312 256.6L318.2 255.2L321.8 247.4L315.5 248.9Z" fill="#ead4c8"/><path d="M254.8 338.5L261 339.1L264.6 331.2L258.5 330.8Z" fill="#a1c0ff"/><path d="M420.8 162.8L427.2 162.7L430.5 160.5L424.2 160.4Z" fill="#e9785d"/><path d="M228.1 373.8L234.2 375.2L237.8 365.8L231.7 364.6Z" fill="#7da0f9"/><path d="M137.2 399L143.2 399.8L147 395.9L141 395.2Z" fill="#5f7fe8"/><path d="M198.6 387L204.8 388.3L208.5 383.7L202.3 382.4Z" fill="#6c8ff1"/><path d="M456.4 153.4L462.9 151.9L466.1 151.8L459.7 153.1Z" fill="#e36b54"/><path d="M91.7 412.6L97.7 412.4L101.6 409.3L95.7 409.5Z" fill="#536edd"/><path d="M295 285.9L301.2 285.2L304.8 275.7L298.6 276.6Z" fill="#d5dbe5"/><path d="M338.7 220.1L345 218.3L348.6 209.7L342.3 211.6Z" fill="#f7b89c"/><path d="M352.1 201.7L358.4 199.9L362 192L355.7 193.8Z" fill="#f6a586"/><path d="M278 314.8L284.2 314.9L287.8 305.2L281.6 305.4Z" fill="#bbd1f8"/><path d="M163 394L169.1 395L172.8 391.2L166.7 390.2Z" fill="#6687ed"/><path d="M264.6 331.2L270.8 331.6L274.4 323.6L268.2 323.4Z" fill="#a9c6fd"/><path d="M241.4 354.4L247.6 355.2L251.2 346.3L245.1 345.6Z" fill="#92b4fe"/><path d="M127.3 402.3L133.4 402.9L137.2 399L131.2 398.5Z" fill="#5e7de7"/><path d="M411 165.8L417.4 165.6L420.8 162.8L414.4 162.8Z" fill="#ea7b60"/><path d="M488.6 153.2L495 154.2L498.2 155.1L491.8 154.5Z" fill="#e36c55"/><path d="M188.8 389.5L194.9 390.7L198.6 387L192.5 385.7Z" fill="#6a8bef"/><path d="M308.4 265.9L314.6 264.8L318.2 255.2L312 256.6Z" fill="#e5d8d1"/><path d="M446.7 156.5L453.2 154.1L456.4 153.4L450 155.7Z" fill="#e36c55"/><path d="M504.6 155.2L511.1 155.2L514.2 155.5L507.8 155.8Z" fill="#e46e56"/><path d="M321.8 247.4L328.1 245.9L331.6 238.2L325.3 239.8Z" fill="#f0cdbb"/><path d="M291.4 295.5L297.6 295L301.2 285.2L295 285.9Z" fill="#cdd9ec"/><path d="M472.6 150.6L479.1 150L482.2 151.7L475.8 152.3Z" fill="#e16751"/><path d="M117.5 405.8L123.5 406.1L127.3 402.3L121.3 402.1Z" fill="#5b7ae5"/><path d="M237.8 365.8L244 367L247.6 355.2L241.4 354.4Z" fill="#88abfd"/><path d="M153.1 396.8L159.2 397.8L163 394L156.9 393Z" fill="#6384eb"/><path d="M251.2 346.3L257.4 347L261 339.1L254.8 338.5Z" fill="#9abbff"/><path d="M224.4 380.7L230.6 382.2L234.2 375.2L228.1 373.8Z" fill="#7699f6"/><path d="M335.2 229.3L341.5 227.7L345 218.3L338.7 220.1Z" fill="#f6bfa6"/><path d="M401.3 169.1L407.6 168.7L411 165.8L404.7 166Z" fill="#eb7d62"/><path d="M214.6 385.2L220.7 386.8L224.4 380.7L218.3 379.2Z" fill="#7093f3"/><path d="M274.4 323.6L280.6 323.9L284.2 314.9L278 314.8Z" fill="#b2ccfb"/><path d="M436.9 160.3L443.4 157.9L446.7 156.5L440.2 158.9Z" fill="#e57058"/><path d="M362 192L368.3 190.5L371.8 184L365.5 185.5Z" fill="#f4987a"/><path d="M178.9 392.2L185 393.3L188.8 389.5L182.7 388.4Z" fill="#688aef"/><path d="M348.6 209.7L354.9 208.1L358.4 199.9L352.1 201.7Z" fill="#f7ac8e"/><path d="M107.6 409.2L113.6 409.2L117.5 405.8L111.5 405.8Z" fill="#5875e1"/><path d="M304.8 275.7L311.1 274.8L314.6 264.8L308.4 265.9Z" fill="#dedcdb"/><path d="M234.2 375.2L240.4 376.7L244 367L237.8 365.8Z" fill="#7da0f9"/><path d="M204.8 388.3L210.9 389.9L214.6 385.2L208.5 383.7Z" fill="#6c8ff1"/><path d="M287.8 305.2L294 305.1L297.6 295L291.4 295.5Z" fill="#c5d6f2"/><path d="M391.5 172.8L397.8 172L401.3 169.1L394.9 169.6Z" fill="#ed8366"/><path d="M261 339.1L267.2 339.7L270.8 331.6L264.6 331.2Z" fill="#a3c2fe"/><path d="M143.2 399.8L149.3 400.6L153.1 396.8L147 395.9Z" fill="#6282ea"/><path d="M371.8 184L378.2 182.7L381.7 177.8L375.3 178.9Z" fill="#f18f71"/><path d="M427.2 162.7L433.6 162.3L436.9 160.3L430.5 160.5Z" fill="#e7745b"/><path d="M381.7 177.8L388 176.7L391.5 172.8L385.1 173.6Z" fill="#ef886b"/><path d="M331.6 238.2L337.9 236.8L341.5 227.7L335.2 229.3Z" fill="#f4c6af"/><path d="M318.2 255.2L324.5 253.9L328.1 245.9L321.8 247.4Z" fill="#edd2c3"/><path d="M169.1 395L175.2 396L178.9 392.2L172.8 391.2Z" fill="#6788ee"/><path d="M97.7 412.4L103.7 412.3L107.6 409.2L101.6 409.3Z" fill="#5572df"/><path d="M247.6 355.2L253.8 356.2L257.4 347L251.2 346.3Z" fill="#93b5fe"/><path d="M301.2 285.2L307.5 284.5L311.1 274.8L304.8 275.7Z" fill="#d7dce3"/><path d="M194.9 390.7L201 392.1L204.8 388.3L198.6 387Z" fill="#6b8df0"/><path d="M270.8 331.6L277 332.1L280.6 323.9L274.4 323.6Z" fill="#abc8fd"/><path d="M462.9 151.9L469.4 150.7L472.6 150.6L466.1 151.8Z" fill="#e0654f"/><path d="M284.2 314.9L290.4 314.9L294 305.1L287.8 305.2Z" fill="#bed2f6"/><path d="M133.4 402.9L139.4 403.6L143.2 399.8L137.2 399Z" fill="#5f7fe8"/><path d="M495 154.2L501.5 154.6L504.6 155.2L498.2 155.1Z" fill="#e36b54"/><path d="M417.4 165.6L423.8 165.2L427.2 162.7L420.8 162.8Z" fill="#e9785d"/><path d="M345 218.3L351.3 216.7L354.9 208.1L348.6 209.7Z" fill="#f7b396"/><path d="M358.4 199.9L364.8 198.4L368.3 190.5L362 192Z" fill="#f59f80"/><path d="M479.1 150L485.5 151.9L488.6 153.2L482.2 151.7Z" fill="#e0654f"/><path d="M230.6 382.2L236.7 383.8L240.4 376.7L234.2 375.2Z" fill="#7699f6"/><path d="M244 367L250.2 368.3L253.8 356.2L247.6 355.2Z" fill="#89acfd"/><path d="M511.1 155.2L517.6 155.4L520.7 155.6L514.2 155.5Z" fill="#e36b54"/><path d="M220.7 386.8L226.9 388.4L230.6 382.2L224.4 380.7Z" fill="#7093f3"/><path d="M159.2 397.8L165.3 398.8L169.1 395L163 394Z" fill="#6485ec"/><path d="M257.4 347L263.6 347.8L267.2 339.7L261 339.1Z" fill="#9dbdff"/><path d="M123.5 406.1L129.5 406.6L133.4 402.9L127.3 402.3Z" fill="#5d7ce6"/><path d="M297.6 295L303.9 294.6L307.5 284.5L301.2 285.2Z" fill="#d1dae9"/><path d="M314.6 264.8L320.9 263.7L324.5 253.9L318.2 255.2Z" fill="#e8d6cc"/><path d="M185 393.3L191.1 394.5L194.9 390.7L188.8 389.5Z" fill="#6a8bef"/><path d="M280.6 323.9L286.8 324.1L290.4 314.9L284.2 314.9Z" fill="#b5cdfa"/><path d="M328.1 245.9L334.3 244.6L337.9 236.8L331.6 238.2Z" fill="#f2cbb7"/><path d="M240.4 376.7L246.6 378.2L250.2 368.3L244 367Z" fill="#7ea1fa"/><path d="M210.9 389.9L217.1 391.4L220.7 386.8L214.6 385.2Z" fill="#6e90f2"/><path d="M407.6 168.7L414 168.1L417.4 165.6L411 165.8Z" fill="#e97a5f"/><path d="M453.2 154.1L459.6 152.5L462.9 151.9L456.4 153.4Z" fill="#e16751"/><path d="M149.3 400.6L155.4 401.6L159.2 397.8L153.1 396.8Z" fill="#6384eb"/><path d="M267.2 339.7L273.4 340.3L277 332.1L270.8 331.6Z" fill="#a5c3fe"/><path d="M113.6 409.2L119.6 409.4L123.5 406.1L117.5 405.8Z" fill="#5a78e4"/><path d="M341.5 227.7L347.8 226.2L351.3 216.7L345 218.3Z" fill="#f7ba9f"/><path d="M368.3 190.5L374.7 189.2L378.2 182.7L371.8 184Z" fill="#f39475"/><path d="M294 305.1L300.3 304.9L303.9 294.6L297.6 295Z" fill="#c9d7f0"/><path d="M397.8 172L404.2 171.3L407.6 168.7L401.3 169.1Z" fill="#eb7d62"/><path d="M311.1 274.8L317.3 274L320.9 263.7L314.6 264.8Z" fill="#e1dad6"/><path d="M175.2 396L181.3 397.1L185 393.3L178.9 392.2Z" fill="#6788ee"/><path d="M443.4 157.9L449.9 155.2L453.2 154.1L446.7 156.5Z" fill="#e26952"/><path d="M354.9 208.1L361.2 206.6L364.8 198.4L358.4 199.9Z" fill="#f7a688"/><path d="M201 392.1L207.2 393.6L210.9 389.9L204.8 388.3Z" fill="#6b8df0"/><path d="M253.8 356.2L260 357.2L263.6 347.8L257.4 347Z" fill="#94b6ff"/><path d="M378.2 182.7L384.5 181.5L388 176.7L381.7 177.8Z" fill="#f08a6c"/><path d="M388 176.7L394.4 175.7L397.8 172L391.5 172.8Z" fill="#ed8366"/><path d="M103.7 412.3L109.7 412.3L113.6 409.2L107.6 409.2Z" fill="#5977e3"/><path d="M139.4 403.6L145.5 404.4L149.3 400.6L143.2 399.8Z" fill="#6180e9"/><path d="M433.6 162.3L440 159.6L443.4 157.9L436.9 160.3Z" fill="#e46e56"/><path d="M277 332.1L283.2 332.5L286.8 324.1L280.6 323.9Z" fill="#aec9fc"/><path d="M485.5 151.9L491.9 153.2L495 154.2L488.6 153.2Z" fill="#e0654f"/><path d="M236.7 383.8L242.9 385.4L246.6 378.2L240.4 376.7Z" fill="#7699f6"/><path d="M501.5 154.6L508 154.7L511.1 155.2L504.6 155.2Z" fill="#e16751"/><path d="M290.4 314.9L296.7 315L300.3 304.9L294 305.1Z" fill="#c0d4f5"/><path d="M226.9 388.4L233.1 390.1L236.7 383.8L230.6 382.2Z" fill="#7295f4"/><path d="M324.5 253.9L330.8 252.8L334.3 244.6L328.1 245.9Z" fill="#efcfbf"/><path d="M337.9 236.8L344.2 235.5L347.8 226.2L341.5 227.7Z" fill="#f5c2aa"/><path d="M250.2 368.3L256.4 369.6L260 357.2L253.8 356.2Z" fill="#89acfd"/><path d="M307.5 284.5L313.7 284L317.3 274L311.1 274.8Z" fill="#dadce0"/><path d="M469.4 150.7L475.8 149.9L479.1 150L472.6 150.6Z" fill="#dd5f4b"/><path d="M165.3 398.8L171.4 399.8L175.2 396L169.1 395Z" fill="#6687ed"/><path d="M423.8 165.2L430.2 164.6L433.6 162.3L427.2 162.7Z" fill="#e7745b"/><path d="M263.6 347.8L269.8 348.6L273.4 340.3L267.2 339.7Z" fill="#9ebeff"/><path d="M191.1 394.5L197.3 395.8L201 392.1L194.9 390.7Z" fill="#6a8bef"/><path d="M217.1 391.4L223.2 393.1L226.9 388.4L220.7 386.8Z" fill="#6e90f2"/><path d="M129.5 406.6L135.6 407.3L139.4 403.6L133.4 402.9Z" fill="#5e7de7"/><path d="M246.6 378.2L252.8 379.8L256.4 369.6L250.2 368.3Z" fill="#7ea1fa"/><path d="M351.3 216.7L357.7 215.4L361.2 206.6L354.9 208.1Z" fill="#f7af91"/><path d="M364.8 198.4L371.1 197.1L374.7 189.2L368.3 190.5Z" fill="#f49a7b"/><path d="M286.8 324.1L293.1 324.4L296.7 315L290.4 314.9Z" fill="#b7cff9"/><path d="M303.9 294.6L310.1 294.3L313.7 284L307.5 284.5Z" fill="#d3dbe7"/><path d="M155.4 401.6L161.5 402.6L165.3 398.8L159.2 397.8Z" fill="#6485ec"/><path d="M414 168.1L420.4 167.6L423.8 165.2L417.4 165.6Z" fill="#e8765c"/><path d="M320.9 263.7L327.2 262.8L330.8 252.8L324.5 253.9Z" fill="#ead4c8"/><path d="M273.4 340.3L279.6 340.9L283.2 332.5L277 332.1Z" fill="#a6c4fe"/><path d="M119.6 409.4L125.7 409.9L129.5 406.6L123.5 406.1Z" fill="#5d7ce6"/><path d="M334.3 244.6L340.6 243.5L344.2 235.5L337.9 236.8Z" fill="#f3c8b2"/><path d="M207.2 393.6L213.3 395.2L217.1 391.4L210.9 389.9Z" fill="#6c8ff1"/><path d="M181.3 397.1L187.4 398.2L191.1 394.5L185 393.3Z" fill="#688aef"/><path d="M459.6 152.5L466.1 151.1L469.4 150.7L462.9 151.9Z" fill="#dd5f4b"/><path d="M260 357.2L266.2 358.2L269.8 348.6L263.6 347.8Z" fill="#96b7ff"/><path d="M300.3 304.9L306.5 304.8L310.1 294.3L303.9 294.6Z" fill="#cbd8ee"/><path d="M242.9 385.4L249.1 387.2L252.8 379.8L246.6 378.2Z" fill="#779af7"/><path d="M404.2 171.3L410.6 170.6L414 168.1L407.6 168.7Z" fill="#e97a5f"/><path d="M233.1 390.1L239.3 391.8L242.9 385.4L236.7 383.8Z" fill="#7295f4"/><path d="M347.8 226.2L354.1 225.1L357.7 215.4L351.3 216.7Z" fill="#f7b79b"/><path d="M145.5 404.4L151.6 405.4L155.4 401.6L149.3 400.6Z" fill="#6282ea"/><path d="M374.7 189.2L381 187.9L384.5 181.5L378.2 182.7Z" fill="#f18f71"/><path d="M491.9 153.2L498.3 153.9L501.5 154.6L495 154.2Z" fill="#df634e"/><path d="M317.3 274L323.6 273.3L327.2 262.8L320.9 263.7Z" fill="#e4d9d2"/><path d="M283.2 332.5L289.5 332.9L293.1 324.4L286.8 324.1Z" fill="#afcafc"/><path d="M256.4 369.6L262.6 371L266.2 358.2L260 357.2Z" fill="#8badfd"/><path d="M109.7 412.3L115.7 412.5L119.6 409.4L113.6 409.2Z" fill="#5a78e4"/><path d="M508 154.7L514.5 155.2L517.6 155.4L511.1 155.2Z" fill="#e0654f"/><path d="M361.2 206.6L367.6 205.3L371.1 197.1L364.8 198.4Z" fill="#f6a283"/><path d="M394.4 175.7L400.8 174.8L404.2 171.3L397.8 172Z" fill="#ec7f63"/><path d="M171.4 399.8L177.5 400.8L181.3 397.1L175.2 396Z" fill="#6788ee"/><path d="M475.8 149.9L482.2 151.7L485.5 151.9L479.1 150Z" fill="#dc5d4a"/><path d="M223.2 393.1L229.4 394.8L233.1 390.1L226.9 388.4Z" fill="#6e90f2"/><path d="M384.5 181.5L390.9 180.3L394.4 175.7L388 176.7Z" fill="#ee8468"/><path d="M296.7 315L302.9 315.1L306.5 304.8L300.3 304.9Z" fill="#c1d4f4"/><path d="M197.3 395.8L203.4 397.3L207.2 393.6L201 392.1Z" fill="#6b8df0"/><path d="M449.9 155.2L456.3 153.5L459.6 152.5L453.2 154.1Z" fill="#df634e"/><path d="M252.8 379.8L259 381.4L262.6 371L256.4 369.6Z" fill="#80a3fa"/><path d="M269.8 348.6L276 349.3L279.6 340.9L273.4 340.3Z" fill="#9fbfff"/><path d="M135.6 407.3L141.7 408.1L145.5 404.4L139.4 403.6Z" fill="#6180e9"/><path d="M313.7 284L320 283.5L323.6 273.3L317.3 274Z" fill="#dddcdc"/><path d="M330.8 252.8L337.1 251.8L340.6 243.5L334.3 244.6Z" fill="#f1cdba"/><path d="M344.2 235.5L350.5 234.5L354.1 225.1L347.8 226.2Z" fill="#f6bea4"/><path d="M440 159.6L446.5 156.9L449.9 155.2L443.4 157.9Z" fill="#e16751"/><path d="M161.5 402.6L167.6 403.6L171.4 399.8L165.3 398.8Z" fill="#6687ed"/><path d="M430.2 164.6L436.7 161.8L440 159.6L433.6 162.3Z" fill="#e36c55"/><path d="M293.1 324.4L299.3 324.8L302.9 315.1L296.7 315Z" fill="#bad0f8"/><path d="M213.3 395.2L219.5 396.8L223.2 393.1L217.1 391.4Z" fill="#6c8ff1"/><path d="M187.4 398.2L193.5 399.6L197.3 395.8L191.1 394.5Z" fill="#6a8bef"/><path d="M279.6 340.9L285.9 341.5L289.5 332.9L283.2 332.5Z" fill="#a9c6fd"/><path d="M310.1 294.3L316.4 294.1L320 283.5L313.7 284Z" fill="#d5dbe5"/><path d="M125.7 409.9L131.7 410.6L135.6 407.3L129.5 406.6Z" fill="#5e7de7"/><path d="M357.7 215.4L364 214.2L367.6 205.3L361.2 206.6Z" fill="#f7aa8c"/><path d="M371.1 197.1L377.5 195.9L381 187.9L374.7 189.2Z" fill="#f39577"/><path d="M420.4 167.6L426.8 166.7L430.2 164.6L423.8 165.2Z" fill="#e67259"/><path d="M249.1 387.2L255.3 388.9L259 381.4L252.8 379.8Z" fill="#779af7"/><path d="M239.3 391.8L245.5 393.6L249.1 387.2L242.9 385.4Z" fill="#7295f4"/><path d="M266.2 358.2L272.4 359.2L276 349.3L269.8 348.6Z" fill="#97b8ff"/><path d="M327.2 262.8L333.5 262L337.1 251.8L330.8 252.8Z" fill="#edd2c3"/><path d="M151.6 405.4L157.7 406.3L161.5 402.6L155.4 401.6Z" fill="#6384eb"/><path d="M340.6 243.5L346.9 242.6L350.5 234.5L344.2 235.5Z" fill="#f4c5ad"/><path d="M306.5 304.8L312.8 304.8L316.4 294.1L310.1 294.3Z" fill="#cdd9ec"/><path d="M262.6 371L268.8 372.3L272.4 359.2L266.2 358.2Z" fill="#8caffe"/><path d="M482.2 151.7L488.7 152.9L491.9 153.2L485.5 151.9Z" fill="#dc5d4a"/><path d="M498.3 153.9L504.8 154.2L508 154.7L501.5 154.6Z" fill="#de614d"/><path d="M466.1 151.1L472.6 150.2L475.8 149.9L469.4 150.7Z" fill="#da5a49"/><path d="M229.4 394.8L235.6 396.6L239.3 391.8L233.1 390.1Z" fill="#6e90f2"/><path d="M203.4 397.3L209.6 398.9L213.3 395.2L207.2 393.6Z" fill="#6b8df0"/><path d="M177.5 400.8L183.6 402L187.4 398.2L181.3 397.1Z" fill="#688aef"/><path d="M410.6 170.6L417 169.7L420.4 167.6L414 168.1Z" fill="#e8765c"/><path d="M289.5 332.9L295.7 333.5L299.3 324.8L293.1 324.4Z" fill="#b2ccfb"/><path d="M259 381.4L265.2 383L268.8 372.3L262.6 371Z" fill="#80a3fa"/><path d="M115.7 412.5L121.8 413L125.7 409.9L119.6 409.4Z" fill="#5d7ce6"/><path d="M323.6 273.3L329.9 272.7L333.5 262L327.2 262.8Z" fill="#e6d7cf"/><path d="M354.1 225.1L360.4 224L364 214.2L357.7 215.4Z" fill="#f7b396"/><path d="M381 187.9L387.4 186.7L390.9 180.3L384.5 181.5Z" fill="#f08a6c"/><path d="M302.9 315.1L309.2 315.4L312.8 304.8L306.5 304.8Z" fill="#c4d5f3"/><path d="M276 349.3L282.2 350.1L285.9 341.5L279.6 340.9Z" fill="#a1c0ff"/><path d="M141.7 408.1L147.7 409.1L151.6 405.4L145.5 404.4Z" fill="#6282ea"/><path d="M400.8 174.8L407.2 173.8L410.6 170.6L404.2 171.3Z" fill="#e97a5f"/><path d="M367.6 205.3L373.9 204.1L377.5 195.9L371.1 197.1Z" fill="#f59d7e"/><path d="M390.9 180.3L397.3 179.2L400.8 174.8L394.4 175.7Z" fill="#ec8165"/><path d="M219.5 396.8L225.7 398.5L229.4 394.8L223.2 393.1Z" fill="#6c8ff1"/><path d="M167.6 403.6L173.7 404.6L177.5 400.8L171.4 399.8Z" fill="#6788ee"/><path d="M320 283.5L326.3 283.2L329.9 272.7L323.6 273.3Z" fill="#dfdbd9"/><path d="M456.3 153.5L462.8 151.9L466.1 151.1L459.6 152.5Z" fill="#da5a49"/><path d="M193.5 399.6L199.7 401.1L203.4 397.3L197.3 395.8Z" fill="#6b8df0"/><path d="M337.1 251.8L343.4 251.1L346.9 242.6L340.6 243.5Z" fill="#f2cab5"/><path d="M245.5 393.6L251.7 395.4L255.3 388.9L249.1 387.2Z" fill="#7295f4"/><path d="M255.3 388.9L261.5 390.6L265.2 383L259 381.4Z" fill="#779af7"/><path d="M350.5 234.5L356.8 233.6L360.4 224L354.1 225.1Z" fill="#f7bca1"/><path d="M299.3 324.8L305.6 325.2L309.2 315.4L302.9 315.1Z" fill="#bbd1f8"/><path d="M285.9 341.5L292.1 342.2L295.7 333.5L289.5 332.9Z" fill="#aac7fd"/><path d="M131.7 410.6L137.8 411.5L141.7 408.1L135.6 407.3Z" fill="#5f7fe8"/><path d="M272.4 359.2L278.6 360.2L282.2 350.1L276 349.3Z" fill="#98b9ff"/><path d="M316.4 294.1L322.7 294L326.3 283.2L320 283.5Z" fill="#d7dce3"/><path d="M235.6 396.6L241.8 398.4L245.5 393.6L239.3 391.8Z" fill="#6f92f3"/><path d="M446.5 156.9L453 155L456.3 153.5L449.9 155.2Z" fill="#dd5f4b"/><path d="M157.7 406.3L163.8 407.3L167.6 403.6L161.5 402.6Z" fill="#6485ec"/><path d="M268.8 372.3L275 373.6L278.6 360.2L272.4 359.2Z" fill="#8db0fe"/><path d="M488.7 152.9L495.2 153.5L498.3 153.9L491.9 153.2Z" fill="#da5a49"/><path d="M209.6 398.9L215.8 400.5L219.5 396.8L213.3 395.2Z" fill="#6c8ff1"/><path d="M364 214.2L370.4 213.1L373.9 204.1L367.6 205.3Z" fill="#f7a688"/><path d="M265.2 383L271.4 384.6L275 373.6L268.8 372.3Z" fill="#81a4fb"/><path d="M377.5 195.9L383.8 194.7L387.4 186.7L381 187.9Z" fill="#f29072"/><path d="M472.6 150.2L479 151.8L482.2 151.7L475.8 149.9Z" fill="#d85646"/><path d="M183.6 402L189.8 403.3L193.5 399.6L187.4 398.2Z" fill="#6a8bef"/><path d="M504.8 154.2L511.3 154.7L514.5 155.2L508 154.7Z" fill="#dc5d4a"/><path d="M436.7 161.8L443.2 158.9L446.5 156.9L440 159.6Z" fill="#e0654f"/><path d="M312.8 304.8L319.1 305L322.7 294L316.4 294.1Z" fill="#cfdaea"/><path d="M333.5 262L339.8 261.5L343.4 251.1L337.1 251.8Z" fill="#eed0c0"/><path d="M426.8 166.7L433.3 163.8L436.7 161.8L430.2 164.6Z" fill="#e36b54"/><path d="M295.7 333.5L302 334.1L305.6 325.2L299.3 324.8Z" fill="#b3cdfb"/><path d="M121.8 413L127.8 413.7L131.7 410.6L125.7 409.9Z" fill="#5e7de7"/><path d="M346.9 242.6L353.3 241.8L356.8 233.6L350.5 234.5Z" fill="#f5c1a9"/><path d="M282.2 350.1L288.5 351L292.1 342.2L285.9 341.5Z" fill="#a3c2fe"/><path d="M147.7 409.1L153.8 410L157.7 406.3L151.6 405.4Z" fill="#6384eb"/><path d="M225.7 398.5L231.9 400.3L235.6 396.6L229.4 394.8Z" fill="#6e90f2"/><path d="M417 169.7L423.4 168.7L426.8 166.7L420.4 167.6Z" fill="#e57058"/><path d="M309.2 315.4L315.5 315.7L319.1 305L312.8 304.8Z" fill="#c6d6f1"/><path d="M329.9 272.7L336.2 272.4L339.8 261.5L333.5 262Z" fill="#e9d5cb"/><path d="M199.7 401.1L205.9 402.6L209.6 398.9L203.4 397.3Z" fill="#6b8df0"/><path d="M173.7 404.6L179.8 405.7L183.6 402L177.5 400.8Z" fill="#6788ee"/><path d="M360.4 224L366.8 223L370.4 213.1L364 214.2Z" fill="#f7af91"/><path d="M387.4 186.7L393.8 185.5L397.3 179.2L390.9 180.3Z" fill="#ee8468"/><path d="M251.7 395.4L257.9 397.2L261.5 390.6L255.3 388.9Z" fill="#7295f4"/><path d="M261.5 390.6L267.8 392.3L271.4 384.6L265.2 383Z" fill="#779af7"/><path d="M407.2 173.8L413.6 172.7L417 169.7L410.6 170.6Z" fill="#e7745b"/><path d="M397.3 179.2L403.7 178L407.2 173.8L400.8 174.8Z" fill="#ea7b60"/><path d="M326.3 283.2L332.6 283.1L336.2 272.4L329.9 272.7Z" fill="#e1dad6"/><path d="M373.9 204.1L380.3 203L383.8 194.7L377.5 195.9Z" fill="#f4987a"/><path d="M305.6 325.2L311.9 325.8L315.5 315.7L309.2 315.4Z" fill="#bed2f6"/><path d="M241.8 398.4L248 400.2L251.7 395.4L245.5 393.6Z" fill="#6f92f3"/><path d="M292.1 342.2L298.4 343L302 334.1L295.7 333.5Z" fill="#abc8fd"/><path d="M137.8 411.5L143.9 412.4L147.7 409.1L141.7 408.1Z" fill="#6282ea"/><path d="M278.6 360.2L284.9 361.3L288.5 351L282.2 350.1Z" fill="#9abbff"/><path d="M462.8 151.9L469.3 150.8L472.6 150.2L466.1 151.1Z" fill="#d75445"/><path d="M215.8 400.5L222 402.2L225.7 398.5L219.5 396.8Z" fill="#6c8ff1"/><path d="M343.4 251.1L349.7 250.4L353.3 241.8L346.9 242.6Z" fill="#f3c8b2"/><path d="M275 373.6L281.3 375.1L284.9 361.3L278.6 360.2Z" fill="#8db0fe"/><path d="M163.8 407.3L169.9 408.3L173.7 404.6L167.6 403.6Z" fill="#6687ed"/><path d="M356.8 233.6L363.2 232.8L366.8 223L360.4 224Z" fill="#f7b89c"/><path d="M271.4 384.6L277.6 386.2L281.3 375.1L275 373.6Z" fill="#81a4fb"/><path d="M479 151.8L485.5 152.7L488.7 152.9L482.2 151.7Z" fill="#d85646"/><path d="M189.8 403.3L195.9 404.8L199.7 401.1L193.5 399.6Z" fill="#6a8bef"/><path d="M322.7 294L329 294.1L332.6 283.1L326.3 283.2Z" fill="#d9dce1"/><path d="M495.2 153.5L501.7 153.7L504.8 154.2L498.3 153.9Z" fill="#d95847"/><path d="M231.9 400.3L238.1 402.1L241.8 398.4L235.6 396.6Z" fill="#6e90f2"/><path d="M302 334.1L308.3 334.8L311.9 325.8L305.6 325.2Z" fill="#b5cdfa"/><path d="M319.1 305L325.4 305.3L329 294.1L322.7 294Z" fill="#d1dae9"/><path d="M127.8 413.7L133.9 414.6L137.8 411.5L131.7 410.6Z" fill="#6180e9"/><path d="M453 155L459.5 153.1L462.8 151.9L456.3 153.5Z" fill="#d85646"/><path d="M370.4 213.1L376.7 212L380.3 203L373.9 204.1Z" fill="#f6a283"/><path d="M153.8 410L160 411L163.8 407.3L157.7 406.3Z" fill="#6485ec"/><path d="M383.8 194.7L390.2 193.5L393.8 185.5L387.4 186.7Z" fill="#f08b6e"/><path d="M288.5 351L294.8 351.9L298.4 343L292.1 342.2Z" fill="#a5c3fe"/><path d="M339.8 261.5L346.1 261.1L349.7 250.4L343.4 251.1Z" fill="#f0cdbb"/><path d="M205.9 402.6L212 404.2L215.8 400.5L209.6 398.9Z" fill="#6b8df0"/><path d="M257.9 397.2L264.1 399L267.8 392.3L261.5 390.6Z" fill="#7295f4"/><path d="M267.8 392.3L274 394.1L277.6 386.2L271.4 384.6Z" fill="#799cf8"/><path d="M179.8 405.7L186 407.1L189.8 403.3L183.6 402Z" fill="#688aef"/><path d="M315.5 315.7L321.8 316.3L325.4 305.3L319.1 305Z" fill="#c9d7f0"/><path d="M353.3 241.8L359.6 241.1L363.2 232.8L356.8 233.6Z" fill="#f6bfa6"/><path d="M443.2 158.9L449.7 156.8L453 155L446.5 156.9Z" fill="#dc5d4a"/><path d="M248 400.2L254.2 402.1L257.9 397.2L251.7 395.4Z" fill="#6f92f3"/><path d="M336.2 272.4L342.5 272.2L346.1 261.1L339.8 261.5Z" fill="#ead4c8"/><path d="M433.3 163.8L439.8 160.7L443.2 158.9L436.7 161.8Z" fill="#df634e"/><path d="M222 402.2L228.2 404L231.9 400.3L225.7 398.5Z" fill="#6c8ff1"/><path d="M423.4 168.7L429.9 165.6L433.3 163.8L426.8 166.7Z" fill="#e26952"/><path d="M143.9 412.4L150 413.3L153.8 410L147.7 409.1Z" fill="#6384eb"/><path d="M366.8 223L373.1 222.1L376.7 212L370.4 213.1Z" fill="#f7aa8c"/><path d="M298.4 343L304.6 343.9L308.3 334.8L302 334.1Z" fill="#aec9fc"/><path d="M311.9 325.8L318.1 326.5L321.8 316.3L315.5 315.7Z" fill="#bfd3f6"/><path d="M284.9 361.3L291.1 362.4L294.8 351.9L288.5 351Z" fill="#9bbcff"/><path d="M393.8 185.5L400.2 184.3L403.7 178L397.3 179.2Z" fill="#ec7f63"/><path d="M277.6 386.2L283.9 388L287.5 376.5L281.3 375.1Z" fill="#81a4fb"/><path d="M281.3 375.1L287.5 376.5L291.1 362.4L284.9 361.3Z" fill="#8fb1fe"/><path d="M332.6 283.1L338.9 283.1L342.5 272.2L336.2 272.4Z" fill="#e3d9d3"/><path d="M413.6 172.7L420 171.4L423.4 168.7L417 169.7Z" fill="#e57058"/><path d="M195.9 404.8L202.1 406.3L205.9 402.6L199.7 401.1Z" fill="#6b8df0"/><path d="M169.9 408.3L176 409.4L179.8 405.7L173.7 404.6Z" fill="#6788ee"/><path d="M469.3 150.8L475.8 152L479 151.8L472.6 150.2Z" fill="#d65244"/><path d="M485.5 152.7L492 153.1L495.2 153.5L488.7 152.9Z" fill="#d75445"/><path d="M403.7 178L410.1 176.7L413.6 172.7L407.2 173.8Z" fill="#e8765c"/><path d="M380.3 203L386.7 201.8L390.2 193.5L383.8 194.7Z" fill="#f39475"/><path d="M501.7 153.7L508.2 154.1L511.3 154.7L504.8 154.2Z" fill="#d85646"/><path d="M238.1 402.1L244.3 403.9L248 400.2L241.8 398.4Z" fill="#6e90f2"/><path d="M349.7 250.4L356 249.9L359.6 241.1L353.3 241.8Z" fill="#f4c5ad"/><path d="M329 294.1L335.3 294.3L338.9 283.1L332.6 283.1Z" fill="#dbdcde"/><path d="M363.2 232.8L369.6 232L373.1 222.1L366.8 223Z" fill="#f7b497"/><path d="M308.3 334.8L314.5 335.7L318.1 326.5L311.9 325.8Z" fill="#b7cff9"/><path d="M133.9 414.6L140 415.5L143.9 412.4L137.8 411.5Z" fill="#6282ea"/><path d="M264.1 399L270.4 400.9L274 394.1L267.8 392.3Z" fill="#7396f5"/><path d="M212 404.2L218.2 405.9L222 402.2L215.8 400.5Z" fill="#6c8ff1"/><path d="M274 394.1L280.3 395.9L283.9 388L277.6 386.2Z" fill="#799cf8"/><path d="M325.4 305.3L331.7 305.7L335.3 294.3L329 294.1Z" fill="#d3dbe7"/><path d="M160 411L166.1 411.9L169.9 408.3L163.8 407.3Z" fill="#6687ed"/><path d="M294.8 351.9L301 353L304.6 343.9L298.4 343Z" fill="#a6c4fe"/><path d="M186 407.1L192.2 408.5L195.9 404.8L189.8 403.3Z" fill="#6a8bef"/><path d="M254.2 402.1L260.5 403.9L264.1 399L257.9 397.2Z" fill="#6f92f3"/><path d="M321.8 316.3L328.1 317L331.7 305.7L325.4 305.3Z" fill="#cad8ef"/><path d="M346.1 261.1L352.4 260.7L356 249.9L349.7 250.4Z" fill="#f1ccb8"/><path d="M376.7 212L383.1 210.9L386.7 201.8L380.3 203Z" fill="#f59d7e"/><path d="M228.2 404L234.4 405.8L238.1 402.1L231.9 400.3Z" fill="#6c8ff1"/><path d="M459.5 153.1L466 151.8L469.3 150.8L462.8 151.9Z" fill="#d55042"/><path d="M390.2 193.5L396.7 192.2L400.2 184.3L393.8 185.5Z" fill="#ee8669"/><path d="M359.6 241.1L366 240.4L369.6 232L363.2 232.8Z" fill="#f7bca1"/><path d="M283.9 388L290.2 389.8L293.8 378.1L287.5 376.5Z" fill="#82a6fb"/><path d="M291.1 362.4L297.4 363.7L301 353L294.8 351.9Z" fill="#9dbdff"/><path d="M150 413.3L156.1 414.3L160 411L153.8 410Z" fill="#6485ec"/><path d="M304.6 343.9L310.9 344.9L314.5 335.7L308.3 334.8Z" fill="#afcafc"/><path d="M287.5 376.5L293.8 378.1L297.4 363.7L291.1 362.4Z" fill="#90b2fe"/><path d="M342.5 272.2L348.8 272L352.4 260.7L346.1 261.1Z" fill="#ecd3c5"/><path d="M202.1 406.3L208.3 407.9L212 404.2L205.9 402.6Z" fill="#6b8df0"/><path d="M318.1 326.5L324.4 327.4L328.1 317L321.8 316.3Z" fill="#c0d4f5"/><path d="M475.8 152L482.3 152.7L485.5 152.7L479 151.8Z" fill="#d55042"/><path d="M176 409.4L182.2 410.8L186 407.1L179.8 405.7Z" fill="#688aef"/><path d="M244.3 403.9L250.6 405.8L254.2 402.1L248 400.2Z" fill="#6e90f2"/><path d="M449.7 156.8L456.2 154.7L459.5 153.1L453 155Z" fill="#d75445"/><path d="M492 153.1L498.5 153.2L501.7 153.7L495.2 153.5Z" fill="#d65244"/><path d="M338.9 283.1L345.2 283.1L348.8 272L342.5 272.2Z" fill="#e5d8d1"/><path d="M373.1 222.1L379.5 221.1L383.1 210.9L376.7 212Z" fill="#f7a889"/><path d="M400.2 184.3L406.6 182.9L410.1 176.7L403.7 178Z" fill="#e97a5f"/><path d="M270.4 400.9L276.6 402.8L280.3 395.9L274 394.1Z" fill="#7396f5"/><path d="M218.2 405.9L224.4 407.7L228.2 404L222 402.2Z" fill="#6c8ff1"/><path d="M280.3 395.9L286.5 397.9L290.2 389.8L283.9 388Z" fill="#799cf8"/><path d="M439.8 160.7L446.3 158.3L449.7 156.8L443.2 158.9Z" fill="#d95847"/><path d="M335.3 294.3L341.6 294.6L345.2 283.1L338.9 283.1Z" fill="#dddcdc"/><path d="M314.5 335.7L320.8 336.7L324.4 327.4L318.1 326.5Z" fill="#b9d0f9"/><path d="M140 415.5L146.1 416.4L150 413.3L143.9 412.4Z" fill="#6384eb"/><path d="M410.1 176.7L416.6 175.3L420 171.4L413.6 172.7Z" fill="#e57058"/><path d="M192.2 408.5L198.3 410L202.1 406.3L195.9 404.8Z" fill="#6a8bef"/><path d="M166.1 411.9L172.2 413.1L176 409.4L169.9 408.3Z" fill="#6788ee"/><path d="M386.7 201.8L393.1 200.5L396.7 192.2L390.2 193.5Z" fill="#f18f71"/><path d="M301 353L307.3 354.2L310.9 344.9L304.6 343.9Z" fill="#a6c4fe"/><path d="M356 249.9L362.4 249.3L366 240.4L359.6 241.1Z" fill="#f5c2aa"/><path d="M260.5 403.9L266.7 405.8L270.4 400.9L264.1 399Z" fill="#6f92f3"/><path d="M420 171.4L426.5 168.1L429.9 165.6L423.4 168.7Z" fill="#e26952"/><path d="M429.9 165.6L436.5 162.2L439.8 160.7L433.3 163.8Z" fill="#de614d"/><path d="M331.7 305.7L338 306.2L341.6 294.6L335.3 294.3Z" fill="#d5dbe5"/><path d="M369.6 232L375.9 231.1L379.5 221.1L373.1 222.1Z" fill="#f7b194"/><path d="M234.4 405.8L240.6 407.6L244.3 403.9L238.1 402.1Z" fill="#6c8ff1"/><path d="M328.1 317L334.4 317.7L338 306.2L331.7 305.7Z" fill="#cbd8ee"/><path d="M290.2 389.8L296.4 391.7L300.1 379.9L293.8 378.1Z" fill="#82a6fb"/><path d="M208.3 407.9L214.5 409.6L218.2 405.9L212 404.2Z" fill="#6b8df0"/><path d="M293.8 378.1L300.1 379.9L303.7 365.1L297.4 363.7Z" fill="#90b2fe"/><path d="M297.4 363.7L303.7 365.1L307.3 354.2L301 353Z" fill="#9ebeff"/><path d="M466 151.8L472.5 152.6L475.8 152L469.3 150.8Z" fill="#d24b40"/><path d="M352.4 260.7L358.8 260.3L362.4 249.3L356 249.9Z" fill="#f2cab5"/><path d="M310.9 344.9L317.2 346.1L320.8 336.7L314.5 335.7Z" fill="#afcafc"/><path d="M156.1 414.3L162.3 415.2L166.1 411.9L160 411Z" fill="#6687ed"/><path d="M182.2 410.8L188.4 412.2L192.2 408.5L186 407.1Z" fill="#688aef"/><path d="M250.6 405.8L256.8 407.6L260.5 403.9L254.2 402.1Z" fill="#6e90f2"/><path d="M324.4 327.4L330.8 328.3L334.4 317.7L328.1 317Z" fill="#c1d4f4"/><path d="M482.3 152.7L488.8 152.8L492 153.1L485.5 152.7Z" fill="#d44e41"/><path d="M383.1 210.9L389.5 209.7L393.1 200.5L386.7 201.8Z" fill="#f4987a"/><path d="M396.7 192.2L403.1 190.9L406.6 182.9L400.2 184.3Z" fill="#ec8165"/><path d="M348.8 272L355.2 271.9L358.8 260.3L352.4 260.7Z" fill="#edd1c2"/><path d="M366 240.4L372.4 239.7L375.9 231.1L369.6 232Z" fill="#f7b99e"/><path d="M276.6 402.8L282.9 404.9L286.5 397.9L280.3 395.9Z" fill="#7396f5"/><path d="M286.5 397.9L292.8 400L296.4 391.7L290.2 389.8Z" fill="#799cf8"/><path d="M224.4 407.7L230.7 409.5L234.4 405.8L228.2 404Z" fill="#6c8ff1"/><path d="M498.5 153.2L505 153.4L508.2 154.1L501.7 153.7Z" fill="#d44e41"/><path d="M345.2 283.1L351.6 283.2L355.2 271.9L348.8 272Z" fill="#e7d7ce"/><path d="M266.7 405.8L273 407.8L276.6 402.8L270.4 400.9Z" fill="#6f92f3"/><path d="M198.3 410L204.5 411.7L208.3 407.9L202.1 406.3Z" fill="#6b8df0"/><path d="M320.8 336.7L327.2 337.7L330.8 328.3L324.4 327.4Z" fill="#bad0f8"/><path d="M146.1 416.4L152.3 417.4L156.1 414.3L150 413.3Z" fill="#6485ec"/><path d="M307.3 354.2L313.6 355.5L317.2 346.1L310.9 344.9Z" fill="#a7c5fe"/><path d="M172.2 413.1L178.4 414.4L182.2 410.8L176 409.4Z" fill="#6788ee"/><path d="M341.6 294.6L348 294.9L351.6 283.2L345.2 283.1Z" fill="#dfdbd9"/><path d="M456.2 154.7L462.7 153.2L466 151.8L459.5 153.1Z" fill="#d44e41"/><path d="M240.6 407.6L246.9 409.4L250.6 405.8L244.3 403.9Z" fill="#6e90f2"/><path d="M379.5 221.1L385.9 220L389.5 209.7L383.1 210.9Z" fill="#f6a385"/><path d="M406.6 182.9L413.1 181.4L416.6 175.3L410.1 176.7Z" fill="#e7745b"/><path d="M296.4 391.7L302.7 393.8L306.4 381.7L300.1 379.9Z" fill="#82a6fb"/><path d="M338 306.2L344.3 306.8L348 294.9L341.6 294.6Z" fill="#d6dce4"/><path d="M362.4 249.3L368.8 248.7L372.4 239.7L366 240.4Z" fill="#f6bfa6"/><path d="M214.5 409.6L220.7 411.4L224.4 407.7L218.2 405.9Z" fill="#6b8df0"/><path d="M300.1 379.9L306.4 381.7L310 366.6L303.7 365.1Z" fill="#90b2fe"/><path d="M334.4 317.7L340.7 318.4L344.3 306.8L338 306.2Z" fill="#ccd9ed"/><path d="M393.1 200.5L399.5 199.2L403.1 190.9L396.7 192.2Z" fill="#f08a6c"/><path d="M446.3 158.3L452.9 156.1L456.2 154.7L449.7 156.8Z" fill="#d65244"/><path d="M303.7 365.1L310 366.6L313.6 355.5L307.3 354.2Z" fill="#9ebeff"/><path d="M256.8 407.6L263.1 409.5L266.7 405.8L260.5 403.9Z" fill="#6e90f2"/><path d="M188.4 412.2L194.6 413.7L198.3 410L192.2 408.5Z" fill="#6a8bef"/><path d="M375.9 231.1L382.3 230.2L385.9 220L379.5 221.1Z" fill="#f7ad90"/><path d="M472.5 152.6L479 152.9L482.3 152.7L475.8 152Z" fill="#d24b40"/><path d="M317.2 346.1L323.5 347.3L327.2 337.7L320.8 336.7Z" fill="#b1cbfc"/><path d="M162.3 415.2L168.4 416.4L172.2 413.1L166.1 411.9Z" fill="#6788ee"/><path d="M416.6 175.3L423.1 171.8L426.5 168.1L420 171.4Z" fill="#e26952"/><path d="M282.9 404.9L289.2 407L292.8 400L286.5 397.9Z" fill="#7396f5"/><path d="M292.8 400L299.1 402.1L302.7 393.8L296.4 391.7Z" fill="#799cf8"/><path d="M330.8 328.3L337.1 329.2L340.7 318.4L334.4 317.7Z" fill="#c3d5f4"/><path d="M436.5 162.2L443 159.7L446.3 158.3L439.8 160.7Z" fill="#d85646"/><path d="M230.7 409.5L236.9 411.3L240.6 407.6L234.4 405.8Z" fill="#6c8ff1"/><path d="M358.8 260.3L365.2 259.9L368.8 248.7L362.4 249.3Z" fill="#f3c7b1"/><path d="M426.5 168.1L433.1 164.6L436.5 162.2L429.9 165.6Z" fill="#dd5f4b"/><path d="M488.8 152.8L495.3 152.6L498.5 153.2L492 153.1Z" fill="#d1493f"/><path d="M273 407.8L279.3 409.8L282.9 404.9L276.6 402.8Z" fill="#6f92f3"/><path d="M204.5 411.7L210.7 413.3L214.5 409.6L208.3 407.9Z" fill="#6b8df0"/><path d="M355.2 271.9L361.6 271.7L365.2 259.9L358.8 260.3Z" fill="#efcfbf"/><path d="M372.4 239.7L378.8 238.9L382.3 230.2L375.9 231.1Z" fill="#f7b599"/><path d="M246.9 409.4L253.1 411.3L256.8 407.6L250.6 405.8Z" fill="#6e90f2"/><path d="M178.4 414.4L184.6 415.8L188.4 412.2L182.2 410.8Z" fill="#688aef"/><path d="M313.6 355.5L319.9 356.8L323.5 347.3L317.2 346.1Z" fill="#a9c6fd"/><path d="M389.5 209.7L396 208.4L399.5 199.2L393.1 200.5Z" fill="#f39475"/><path d="M327.2 337.7L333.5 338.8L337.1 329.2L330.8 328.3Z" fill="#bad0f8"/><path d="M152.3 417.4L158.4 418.3L162.3 415.2L156.1 414.3Z" fill="#6687ed"/><path d="M302.7 393.8L309 395.9L312.7 383.6L306.4 381.7Z" fill="#82a6fb"/><path d="M351.6 283.2L357.9 283.2L361.6 271.7L355.2 271.9Z" fill="#e9d5cb"/><path d="M403.1 190.9L409.5 189.3L413.1 181.4L406.6 182.9Z" fill="#ea7b60"/><path d="M348 294.9L354.3 295.1L357.9 283.2L351.6 283.2Z" fill="#e0dbd8"/><path d="M220.7 411.4L226.9 413.2L230.7 409.5L224.4 407.7Z" fill="#6c8ff1"/><path d="M306.4 381.7L312.7 383.6L316.3 368.1L310 366.6Z" fill="#90b2fe"/><path d="M263.1 409.5L269.3 411.4L273 407.8L266.7 405.8Z" fill="#6e90f2"/><path d="M462.7 153.2L469.2 153.5L472.5 152.6L466 151.8Z" fill="#d0473d"/><path d="M344.3 306.8L350.7 307.2L354.3 295.1L348 294.9Z" fill="#d8dce2"/><path d="M310 366.6L316.3 368.1L319.9 356.8L313.6 355.5Z" fill="#9fbfff"/><path d="M289.2 407L295.5 409.2L299.1 402.1L292.8 400Z" fill="#7295f4"/><path d="M194.6 413.7L200.8 415.3L204.5 411.7L198.3 410Z" fill="#6a8bef"/><path d="M299.1 402.1L305.4 404.3L309 395.9L302.7 393.8Z" fill="#799cf8"/><path d="M385.9 220L392.4 218.9L396 208.4L389.5 209.7Z" fill="#f59f80"/><path d="M340.7 318.4L347.1 319.1L350.7 307.2L344.3 306.8Z" fill="#cedaeb"/><path d="M323.5 347.3L329.9 348.5L333.5 338.8L327.2 337.7Z" fill="#b2ccfb"/><path d="M168.4 416.4L174.6 417.7L178.4 414.4L172.2 413.1Z" fill="#6788ee"/><path d="M236.9 411.3L243.1 413.1L246.9 409.4L240.6 407.6Z" fill="#6c8ff1"/><path d="M368.8 248.7L375.2 248L378.8 238.9L372.4 239.7Z" fill="#f6bda2"/><path d="M479 152.9L485.5 152.6L488.8 152.8L482.3 152.7Z" fill="#d0473d"/><path d="M279.3 409.8L285.5 411.9L289.2 407L282.9 404.9Z" fill="#6f92f3"/><path d="M337.1 329.2L343.4 330L347.1 319.1L340.7 318.4Z" fill="#c5d6f2"/><path d="M413.1 181.4L419.6 177.9L423.1 171.8L416.6 175.3Z" fill="#e36c55"/><path d="M399.5 199.2L406 197.6L409.5 189.3L403.1 190.9Z" fill="#ee8468"/><path d="M210.7 413.3L217 415.1L220.7 411.4L214.5 409.6Z" fill="#6b8df0"/><path d="M382.3 230.2L388.8 229.2L392.4 218.9L385.9 220Z" fill="#f7a98b"/><path d="M452.9 156.1L459.4 154.3L462.7 153.2L456.2 154.7Z" fill="#d1493f"/><path d="M253.1 411.3L259.4 413.1L263.1 409.5L256.8 407.6Z" fill="#6e90f2"/><path d="M495.3 152.6L501.8 152.6L505 153.4L498.5 153.2Z" fill="#d0473d"/><path d="M309 395.9L315.3 398L319 385.4L312.7 383.6Z" fill="#82a6fb"/><path d="M184.6 415.8L190.8 417.3L194.6 413.7L188.4 412.2Z" fill="#6a8bef"/><path d="M365.2 259.9L371.6 259.5L375.2 248L368.8 248.7Z" fill="#f4c5ad"/><path d="M319.9 356.8L326.2 358.2L329.9 348.5L323.5 347.3Z" fill="#aac7fd"/><path d="M333.5 338.8L339.8 339.8L343.4 330L337.1 329.2Z" fill="#bbd1f8"/><path d="M158.4 418.3L164.6 419.4L168.4 416.4L162.3 415.2Z" fill="#6788ee"/><path d="M361.6 271.7L367.9 271.5L371.6 259.5L365.2 259.9Z" fill="#f0cdbb"/><path d="M226.9 413.2L233.2 415L236.9 411.3L230.7 409.5Z" fill="#6c8ff1"/><path d="M269.3 411.4L275.6 413.4L279.3 409.8L273 407.8Z" fill="#6e90f2"/><path d="M312.7 383.6L319 385.4L322.6 369.7L316.3 368.1Z" fill="#92b4fe"/><path d="M443 159.7L449.5 157.2L452.9 156.1L446.3 158.3Z" fill="#d44e41"/><path d="M423.1 171.8L429.6 168.2L433.1 164.6L426.5 168.1Z" fill="#dd5f4b"/><path d="M295.5 409.2L301.8 411.5L305.4 404.3L299.1 402.1Z" fill="#7295f4"/><path d="M357.9 283.2L364.3 283.2L367.9 271.5L361.6 271.7Z" fill="#ead4c8"/><path d="M305.4 404.3L311.7 406.5L315.3 398L309 395.9Z" fill="#779af7"/><path d="M378.8 238.9L385.2 238L388.8 229.2L382.3 230.2Z" fill="#f7b194"/><path d="M316.3 368.1L322.6 369.7L326.2 358.2L319.9 356.8Z" fill="#9fbfff"/><path d="M200.8 415.3L207 417L210.7 413.3L204.5 411.7Z" fill="#6b8df0"/><path d="M433.1 164.6L439.6 161.8L443 159.7L436.5 162.2Z" fill="#d75445"/><path d="M354.3 295.1L360.7 295.3L364.3 283.2L357.9 283.2Z" fill="#e2dad5"/><path d="M396 208.4L402.4 206.8L406 197.6L399.5 199.2Z" fill="#f18f71"/><path d="M469.2 153.5L475.7 153.3L479 152.9L472.5 152.6Z" fill="#cf453c"/><path d="M243.1 413.1L249.4 414.9L253.1 411.3L246.9 409.4Z" fill="#6c8ff1"/><path d="M350.7 307.2L357 307.6L360.7 295.3L354.3 295.1Z" fill="#d9dce1"/><path d="M285.5 411.9L291.8 414.2L295.5 409.2L289.2 407Z" fill="#6f92f3"/><path d="M174.6 417.7L180.8 419.1L184.6 415.8L178.4 414.4Z" fill="#688aef"/><path d="M329.9 348.5L336.2 349.6L339.8 339.8L333.5 338.8Z" fill="#b3cdfb"/><path d="M347.1 319.1L353.4 319.7L357 307.6L350.7 307.2Z" fill="#cfdaea"/><path d="M409.5 189.3L416.1 185.9L419.6 177.9L413.1 181.4Z" fill="#e7745b"/><path d="M217 415.1L223.2 416.8L226.9 413.2L220.7 411.4Z" fill="#6b8df0"/><path d="M343.4 330L349.8 330.8L353.4 319.7L347.1 319.1Z" fill="#c6d6f1"/><path d="M259.4 413.1L265.6 415L269.3 411.4L263.1 409.5Z" fill="#6e90f2"/><path d="M485.5 152.6L492.1 152.2L495.3 152.6L488.8 152.8Z" fill="#cd423b"/><path d="M315.3 398L321.7 400L325.3 387.2L319 385.4Z" fill="#82a6fb"/><path d="M392.4 218.9L398.8 217.5L402.4 206.8L396 208.4Z" fill="#f49a7b"/><path d="M375.2 248L381.6 247.2L385.2 238L378.8 238.9Z" fill="#f7b99e"/><path d="M190.8 417.3L197 418.9L200.8 415.3L194.6 413.7Z" fill="#6a8bef"/><path d="M326.2 358.2L332.6 359.5L336.2 349.6L329.9 348.5Z" fill="#aac7fd"/><path d="M275.6 413.4L281.9 415.5L285.5 411.9L279.3 409.8Z" fill="#6e90f2"/><path d="M233.2 415L239.4 416.8L243.1 413.1L236.9 411.3Z" fill="#6c8ff1"/><path d="M339.8 339.8L346.2 340.7L349.8 330.8L343.4 330Z" fill="#bcd2f7"/><path d="M301.8 411.5L308.1 413.7L311.7 406.5L305.4 404.3Z" fill="#7295f4"/><path d="M164.6 419.4L170.7 420.7L174.6 417.7L168.4 416.4Z" fill="#688aef"/><path d="M319 385.4L325.3 387.2L329 371.2L322.6 369.7Z" fill="#92b4fe"/><path d="M311.7 406.5L318 408.6L321.7 400L315.3 398Z" fill="#779af7"/><path d="M459.4 154.3L465.9 154L469.2 153.5L462.7 153.2Z" fill="#cd423b"/><path d="M388.8 229.2L395.2 227.9L398.8 217.5L392.4 218.9Z" fill="#f6a586"/><path d="M371.6 259.5L378 258.9L381.6 247.2L375.2 248Z" fill="#f5c2aa"/><path d="M207 417L213.2 418.7L217 415.1L210.7 413.3Z" fill="#6b8df0"/><path d="M322.6 369.7L329 371.2L332.6 359.5L326.2 358.2Z" fill="#a1c0ff"/><path d="M291.8 414.2L298.1 416.4L301.8 411.5L295.5 409.2Z" fill="#6e90f2"/><path d="M406 197.6L412.5 194.2L416.1 185.9L409.5 189.3Z" fill="#eb7d62"/><path d="M249.4 414.9L255.7 416.7L259.4 413.1L253.1 411.3Z" fill="#6e90f2"/><path d="M367.9 271.5L374.3 271.1L378 258.9L371.6 259.5Z" fill="#f2cbb7"/><path d="M419.6 177.9L426.1 174.2L429.6 168.2L423.1 171.8Z" fill="#df634e"/><path d="M180.8 419.1L187 420.6L190.8 417.3L184.6 415.8Z" fill="#6a8bef"/><path d="M364.3 283.2L370.7 283L374.3 271.1L367.9 271.5Z" fill="#ecd3c5"/><path d="M336.2 349.6L342.6 350.7L346.2 340.7L339.8 339.8Z" fill="#b5cdfa"/><path d="M360.7 295.3L367.1 295.3L370.7 283L364.3 283.2Z" fill="#e4d9d2"/><path d="M475.7 153.3L482.3 152.7L485.5 152.6L479 152.9Z" fill="#cc403a"/><path d="M357 307.6L363.4 307.9L367.1 295.3L360.7 295.3Z" fill="#dbdcde"/><path d="M223.2 416.8L229.4 418.6L233.2 415L226.9 413.2Z" fill="#6c8ff1"/><path d="M385.2 238L391.6 236.8L395.2 227.9L388.8 229.2Z" fill="#f7ad90"/><path d="M265.6 415L271.9 417L275.6 413.4L269.3 411.4Z" fill="#6e90f2"/><path d="M353.4 319.7L359.8 320.2L363.4 307.9L357 307.6Z" fill="#d2dbe8"/><path d="M449.5 157.2L456.1 155.1L459.4 154.3L452.9 156.1Z" fill="#cf453c"/><path d="M321.7 400L328 402L331.6 389L325.3 387.2Z" fill="#82a6fb"/><path d="M349.8 330.8L356.2 331.5L359.8 320.2L353.4 319.7Z" fill="#c7d7f0"/><path d="M197 418.9L203.2 420.6L207 417L200.8 415.3Z" fill="#6a8bef"/><path d="M281.9 415.5L288.2 417.7L291.8 414.2L285.5 411.9Z" fill="#6e90f2"/><path d="M429.6 168.2L436.2 165.2L439.6 161.8L433.1 164.6Z" fill="#d75445"/><path d="M308.1 413.7L314.4 415.9L318 408.6L311.7 406.5Z" fill="#7295f4"/><path d="M439.6 161.8L446.2 159L449.5 157.2L443 159.7Z" fill="#d24b40"/><path d="M402.4 206.8L408.9 203.6L412.5 194.2L406 197.6Z" fill="#ef886b"/><path d="M239.4 416.8L245.7 418.6L249.4 414.9L243.1 413.1Z" fill="#6c8ff1"/><path d="M332.6 359.5L338.9 360.7L342.6 350.7L336.2 349.6Z" fill="#abc8fd"/><path d="M492.1 152.2L498.7 152L501.8 152.6L495.3 152.6Z" fill="#cb3e38"/><path d="M318 408.6L324.4 410.7L328 402L321.7 400Z" fill="#779af7"/><path d="M325.3 387.2L331.6 389L335.3 372.6L329 371.2Z" fill="#92b4fe"/><path d="M170.7 420.7L176.9 422.2L180.8 419.1L174.6 417.7Z" fill="#688aef"/><path d="M346.2 340.7L352.5 341.6L356.2 331.5L349.8 330.8Z" fill="#bed2f6"/><path d="M298.1 416.4L304.5 418.7L308.1 413.7L301.8 411.5Z" fill="#6e90f2"/><path d="M213.2 418.7L219.4 420.5L223.2 416.8L217 415.1Z" fill="#6b8df0"/><path d="M381.6 247.2L388 246.3L391.6 236.8L385.2 238Z" fill="#f7b599"/><path d="M329 371.2L335.3 372.6L338.9 360.7L332.6 359.5Z" fill="#a1c0ff"/><path d="M255.7 416.7L262 418.6L265.6 415L259.4 413.1Z" fill="#6e90f2"/><path d="M465.9 154L472.5 153.4L475.7 153.3L469.2 153.5Z" fill="#cc403a"/><path d="M416.1 185.9L422.6 182.2L426.1 174.2L419.6 177.9Z" fill="#e36b54"/><path d="M398.8 217.5L405.3 214.5L408.9 203.6L402.4 206.8Z" fill="#f39475"/><path d="M187 420.6L193.2 422.2L197 418.9L190.8 417.3Z" fill="#6a8bef"/><path d="M271.9 417L278.2 419.1L281.9 415.5L275.6 413.4Z" fill="#6e90f2"/><path d="M229.4 418.6L235.7 420.4L239.4 416.8L233.2 415Z" fill="#6c8ff1"/><path d="M378 258.9L384.4 258.1L388 246.3L381.6 247.2Z" fill="#f6bfa6"/><path d="M342.6 350.7L348.9 351.7L352.5 341.6L346.2 340.7Z" fill="#b6cefa"/><path d="M328 402L334.3 403.9L338 390.6L331.6 389Z" fill="#82a6fb"/><path d="M374.3 271.1L380.8 270.5L384.4 258.1L378 258.9Z" fill="#f2c9b4"/><path d="M395.2 227.9L401.7 225.1L405.3 214.5L398.8 217.5Z" fill="#f59f80"/><path d="M370.7 283L377.1 282.7L380.8 270.5L374.3 271.1Z" fill="#edd1c2"/><path d="M288.2 417.7L294.5 419.9L298.1 416.4L291.8 414.2Z" fill="#6c8ff1"/><path d="M203.2 420.6L209.4 422.3L213.2 418.7L207 417Z" fill="#6b8df0"/><path d="M314.4 415.9L320.7 418.1L324.4 410.7L318 408.6Z" fill="#7093f3"/><path d="M367.1 295.3L373.5 295.3L377.1 282.7L370.7 283Z" fill="#e6d7cf"/><path d="M363.4 307.9L369.8 308L373.5 295.3L367.1 295.3Z" fill="#dddcdc"/><path d="M359.8 320.2L366.2 320.6L369.8 308L363.4 307.9Z" fill="#d3dbe7"/><path d="M482.3 152.7L488.9 151.9L492.1 152.2L485.5 152.6Z" fill="#ca3b37"/><path d="M245.7 418.6L252 420.4L255.7 416.7L249.4 414.9Z" fill="#6c8ff1"/><path d="M324.4 410.7L330.7 412.7L334.3 403.9L328 402Z" fill="#779af7"/><path d="M356.2 331.5L362.6 332.1L366.2 320.6L359.8 320.2Z" fill="#c9d7f0"/><path d="M331.6 389L338 390.6L341.7 373.9L335.3 372.6Z" fill="#93b5fe"/><path d="M338.9 360.7L345.3 361.8L348.9 351.7L342.6 350.7Z" fill="#adc9fd"/><path d="M304.5 418.7L310.8 420.9L314.4 415.9L308.1 413.7Z" fill="#6e90f2"/><path d="M176.9 422.2L183.1 423.7L187 420.6L180.8 419.1Z" fill="#6a8bef"/><path d="M456.1 155.1L462.6 154.3L465.9 154L459.4 154.3Z" fill="#cb3e38"/><path d="M412.5 194.2L419 190.6L422.6 182.2L416.1 185.9Z" fill="#e7745b"/><path d="M219.4 420.5L225.7 422.2L229.4 418.6L223.2 416.8Z" fill="#6b8df0"/><path d="M391.6 236.8L398.1 234.2L401.7 225.1L395.2 227.9Z" fill="#f7a98b"/><path d="M262 418.6L268.2 420.6L271.9 417L265.6 415Z" fill="#6e90f2"/><path d="M426.1 174.2L432.7 171.2L436.2 165.2L429.6 168.2Z" fill="#d95847"/><path d="M352.5 341.6L358.9 342.3L362.6 332.1L356.2 331.5Z" fill="#c0d4f5"/><path d="M335.3 372.6L341.7 373.9L345.3 361.8L338.9 360.7Z" fill="#a2c1ff"/><path d="M193.2 422.2L199.4 423.8L203.2 420.6L197 418.9Z" fill="#6a8bef"/><path d="M278.2 419.1L284.5 421.3L288.2 417.7L281.9 415.5Z" fill="#6e90f2"/><path d="M235.7 420.4L242 422.2L245.7 418.6L239.4 416.8Z" fill="#6c8ff1"/><path d="M446.2 159L452.7 156.6L456.1 155.1L449.5 157.2Z" fill="#cd423b"/><path d="M436.2 165.2L442.7 162.2L446.2 159L439.6 161.8Z" fill="#d1493f"/><path d="M334.3 403.9L340.7 405.7L344.3 392.2L338 390.6Z" fill="#82a6fb"/><path d="M294.5 419.9L300.8 422.2L304.5 418.7L298.1 416.4Z" fill="#6c8ff1"/><path d="M472.5 153.4L479 152.4L482.3 152.7L475.7 153.3Z" fill="#c83836"/><path d="M348.9 351.7L355.3 352.5L358.9 342.3L352.5 341.6Z" fill="#b7cff9"/><path d="M320.7 418.1L327.1 420.1L330.7 412.7L324.4 410.7Z" fill="#7093f3"/><path d="M408.9 203.6L415.4 200.1L419 190.6L412.5 194.2Z" fill="#eb7d62"/><path d="M388 246.3L394.5 243.8L398.1 234.2L391.6 236.8Z" fill="#f7b194"/><path d="M209.4 422.3L215.7 424L219.4 420.5L213.2 418.7Z" fill="#6b8df0"/><path d="M252 420.4L258.3 422.3L262 418.6L255.7 416.7Z" fill="#6c8ff1"/><path d="M330.7 412.7L337.1 414.6L340.7 405.7L334.3 403.9Z" fill="#779af7"/><path d="M310.8 420.9L317.1 423L320.7 418.1L314.4 415.9Z" fill="#6e90f2"/><path d="M338 390.6L344.3 392.2L348 375.2L341.7 373.9Z" fill="#93b5fe"/><path d="M384.4 258.1L390.9 256L394.5 243.8L388 246.3Z" fill="#f7bca1"/><path d="M183.1 423.7L189.4 425.3L193.2 422.2L187 420.6Z" fill="#6a8bef"/><path d="M345.3 361.8L351.7 362.9L355.3 352.5L348.9 351.7Z" fill="#aec9fc"/><path d="M225.7 422.2L232 424L235.7 420.4L229.4 418.6Z" fill="#6b8df0"/><path d="M268.2 420.6L274.5 422.7L278.2 419.1L271.9 417Z" fill="#6e90f2"/><path d="M366.2 320.6L372.6 319.9L376.3 307.1L369.8 308Z" fill="#d5dbe5"/><path d="M380.8 270.5L387.2 268.7L390.9 256L384.4 258.1Z" fill="#f4c6af"/><path d="M405.3 214.5L411.8 211.2L415.4 200.1L408.9 203.6Z" fill="#f08b6e"/><path d="M422.6 182.2L429.1 179.2L432.7 171.2L426.1 174.2Z" fill="#dd5f4b"/><path d="M369.8 308L376.3 307.1L379.9 294L373.5 295.3Z" fill="#dfdbd9"/><path d="M488.9 151.9L495.4 151.4L498.7 152L492.1 152.2Z" fill="#c73635"/><path d="M377.1 282.7L383.6 281.1L387.2 268.7L380.8 270.5Z" fill="#efcebd"/><path d="M373.5 295.3L379.9 294L383.6 281.1L377.1 282.7Z" fill="#e9d5cb"/><path d="M362.6 332.1L369 331.6L372.6 319.9L366.2 320.6Z" fill="#cbd8ee"/><path d="M284.5 421.3L290.9 423.4L294.5 419.9L288.2 417.7Z" fill="#6c8ff1"/><path d="M341.7 373.9L348 375.2L351.7 362.9L345.3 361.8Z" fill="#a3c2fe"/><path d="M199.4 423.8L205.6 425.6L209.4 422.3L203.2 420.6Z" fill="#6b8df0"/><path d="M462.6 154.3L469.2 153.2L472.5 153.4L465.9 154Z" fill="#c83836"/><path d="M401.7 225.1L408.2 222L411.8 211.2L405.3 214.5Z" fill="#f39778"/><path d="M242 422.2L248.2 424L252 420.4L245.7 418.6Z" fill="#6c8ff1"/><path d="M358.9 342.3L365.3 342.1L369 331.6L362.6 332.1Z" fill="#c1d4f4"/><path d="M300.8 422.2L307.2 424.3L310.8 420.9L304.5 418.7Z" fill="#6c8ff1"/><path d="M340.7 405.7L347.1 406.8L350.7 393.1L344.3 392.2Z" fill="#84a7fc"/><path d="M327.1 420.1L333.5 422.1L337.1 414.6L330.7 412.7Z" fill="#7093f3"/><path d="M215.7 424L221.9 425.8L225.7 422.2L219.4 420.5Z" fill="#6b8df0"/><path d="M258.3 422.3L264.5 424.2L268.2 420.6L262 418.6Z" fill="#6c8ff1"/><path d="M317.1 423L323.5 425.1L327.1 420.1L320.7 418.1Z" fill="#6c8ff1"/><path d="M337.1 414.6L343.4 416L347.1 406.8L340.7 405.7Z" fill="#799cf8"/><path d="M355.3 352.5L361.7 352.5L365.3 342.1L358.9 342.3Z" fill="#b9d0f9"/><path d="M419 190.6L425.6 187.6L429.1 179.2L422.6 182.2Z" fill="#e36b54"/><path d="M398.1 234.2L404.6 231.3L408.2 222L401.7 225.1Z" fill="#f6a283"/><path d="M432.7 171.2L439.3 168.1L442.7 162.2L436.2 165.2Z" fill="#d44e41"/><path d="M479 152.4L485.6 151.3L488.9 151.9L482.3 152.7Z" fill="#c53334"/><path d="M274.5 422.7L280.9 424.8L284.5 421.3L278.2 419.1Z" fill="#6c8ff1"/><path d="M452.7 156.6L459.3 155.4L462.6 154.3L456.1 155.1Z" fill="#c83836"/><path d="M189.4 425.3L195.6 426.9L199.4 423.8L193.2 422.2Z" fill="#6b8df0"/><path d="M232 424L238.2 425.8L242 422.2L235.7 420.4Z" fill="#6c8ff1"/><path d="M344.3 392.2L350.7 393.1L354.4 375.7L348 375.2Z" fill="#94b6ff"/><path d="M290.9 423.4L297.2 425.6L300.8 422.2L294.5 419.9Z" fill="#6c8ff1"/><path d="M442.7 162.2L449.3 159.7L452.7 156.6L446.2 159Z" fill="#cc403a"/><path d="M351.7 362.9L358.1 363.1L361.7 352.5L355.3 352.5Z" fill="#afcafc"/><path d="M205.6 425.6L211.9 427.3L215.7 424L209.4 422.3Z" fill="#6b8df0"/><path d="M307.2 424.3L313.5 426.4L317.1 423L310.8 420.9Z" fill="#6c8ff1"/><path d="M248.2 424L254.5 425.9L258.3 422.3L252 420.4Z" fill="#6c8ff1"/><path d="M394.5 243.8L401 241.2L404.6 231.3L398.1 234.2Z" fill="#f7aa8c"/><path d="M348 375.2L354.4 375.7L358.1 363.1L351.7 362.9Z" fill="#a5c3fe"/><path d="M415.4 200.1L422 197.2L425.6 187.6L419 190.6Z" fill="#e8765c"/><path d="M372.6 319.9L379 319L382.7 305.9L376.3 307.1Z" fill="#d8dce2"/><path d="M369 331.6L375.4 331.1L379 319L372.6 319.9Z" fill="#cedaeb"/><path d="M376.3 307.1L382.7 305.9L386.4 292.5L379.9 294Z" fill="#e2dad5"/><path d="M333.5 422.1L339.8 423.6L343.4 416L337.1 414.6Z" fill="#7295f4"/><path d="M379.9 294L386.4 292.5L390 279.4L383.6 281.1Z" fill="#ebd3c6"/><path d="M221.9 425.8L228.2 427.5L232 424L225.7 422.2Z" fill="#6b8df0"/><path d="M264.5 424.2L270.9 426.2L274.5 422.7L268.2 420.6Z" fill="#6c8ff1"/><path d="M390.9 256L397.4 253.6L401 241.2L394.5 243.8Z" fill="#f7b599"/><path d="M383.6 281.1L390 279.4L393.7 266.6L387.2 268.7Z" fill="#f2cbb7"/><path d="M387.2 268.7L393.7 266.6L397.4 253.6L390.9 256Z" fill="#f5c1a9"/><path d="M347.1 406.8L353.5 408L357.1 393.9L350.7 393.1Z" fill="#85a8fc"/><path d="M323.5 425.1L329.8 427.1L333.5 422.1L327.1 420.1Z" fill="#6c8ff1"/><path d="M469.2 153.2L475.8 151.8L479 152.4L472.5 153.4Z" fill="#c43032"/><path d="M365.3 342.1L371.8 341.7L375.4 331.1L369 331.6Z" fill="#c5d6f2"/><path d="M429.1 179.2L435.7 176.1L439.3 168.1L432.7 171.2Z" fill="#d85646"/><path d="M411.8 211.2L418.4 208.5L422 197.2L415.4 200.1Z" fill="#ed8366"/><path d="M343.4 416L349.8 417.3L353.5 408L347.1 406.8Z" fill="#799cf8"/><path d="M280.9 424.8L287.2 426.9L290.9 423.4L284.5 421.3Z" fill="#6c8ff1"/><path d="M238.2 425.8L244.5 427.6L248.2 424L242 422.2Z" fill="#6c8ff1"/><path d="M195.6 426.9L201.8 428.7L205.6 425.6L199.4 423.8Z" fill="#6b8df0"/><path d="M297.2 425.6L303.5 427.8L307.2 424.3L300.8 422.2Z" fill="#6c8ff1"/><path d="M408.2 222L414.7 219.5L418.4 208.5L411.8 211.2Z" fill="#f29072"/><path d="M361.7 352.5L368.1 352.4L371.8 341.7L365.3 342.1Z" fill="#bbd1f8"/><path d="M350.7 393.1L357.1 393.9L360.8 376.1L354.4 375.7Z" fill="#96b7ff"/><path d="M313.5 426.4L319.9 428.4L323.5 425.1L317.1 423Z" fill="#6c8ff1"/><path d="M211.9 427.3L218.2 429.1L221.9 425.8L215.7 424Z" fill="#6b8df0"/><path d="M254.5 425.9L260.8 427.8L264.5 424.2L258.3 422.3Z" fill="#6c8ff1"/><path d="M485.6 151.3L492.2 150.5L495.4 151.4L488.9 151.9Z" fill="#c12b30"/><path d="M459.3 155.4L465.9 153.8L469.2 153.2L462.6 154.3Z" fill="#c43032"/><path d="M358.1 363.1L364.5 363.2L368.1 352.4L361.7 352.5Z" fill="#b2ccfb"/><path d="M404.6 231.3L411.1 229L414.7 219.5L408.2 222Z" fill="#f59c7d"/><path d="M270.9 426.2L277.2 428.3L280.9 424.8L274.5 422.7Z" fill="#6c8ff1"/><path d="M439.3 168.1L445.8 165.5L449.3 159.7L442.7 162.2Z" fill="#cd423b"/><path d="M425.6 187.6L432.1 184.6L435.7 176.1L429.1 179.2Z" fill="#de614d"/><path d="M339.8 423.6L346.2 425L349.8 417.3L343.4 416Z" fill="#7295f4"/><path d="M228.2 427.5L234.5 429.3L238.2 425.8L232 424Z" fill="#6c8ff1"/><path d="M354.4 375.7L360.8 376.1L364.5 363.2L358.1 363.1Z" fill="#a6c4fe"/><path d="M329.8 427.1L336.2 428.6L339.8 423.6L333.5 422.1Z" fill="#6e90f2"/><path d="M449.3 159.7L455.9 158L459.3 155.4L452.7 156.6Z" fill="#c73635"/><path d="M353.5 408L359.9 409.3L363.5 395L357.1 393.9Z" fill="#86a9fc"/><path d="M287.2 426.9L293.5 429.1L297.2 425.6L290.9 423.4Z" fill="#6c8ff1"/><path d="M375.4 331.1L381.8 330.9L385.5 318.6L379 319Z" fill="#d1dae9"/><path d="M379 319L385.5 318.6L389.2 305.2L382.7 305.9Z" fill="#dbdcde"/><path d="M349.8 417.3L356.2 418.8L359.9 409.3L353.5 408Z" fill="#7a9df8"/><path d="M244.5 427.6L250.8 429.4L254.5 425.9L248.2 424Z" fill="#6c8ff1"/><path d="M303.5 427.8L309.9 429.8L313.5 426.4L307.2 424.3Z" fill="#6c8ff1"/><path d="M201.8 428.7L208.1 430.4L211.9 427.3L205.6 425.6Z" fill="#6b8df0"/><path d="M382.7 305.9L389.2 305.2L392.9 291.5L386.4 292.5Z" fill="#e5d8d1"/><path d="M401 241.2L407.5 239L411.1 229L404.6 231.3Z" fill="#f6a586"/><path d="M371.8 341.7L378.2 341.7L381.8 330.9L375.4 331.1Z" fill="#c7d7f0"/><path d="M386.4 292.5L392.9 291.5L396.5 278L390 279.4Z" fill="#edd1c2"/><path d="M422 197.2L428.6 194.3L432.1 184.6L425.6 187.6Z" fill="#e36c55"/><path d="M475.8 151.8L482.4 150.3L485.6 151.3L479 152.4Z" fill="#c0282f"/><path d="M390 279.4L396.5 278L400.2 265L393.7 266.6Z" fill="#f3c8b2"/><path d="M319.9 428.4L326.2 430.4L329.8 427.1L323.5 425.1Z" fill="#6c8ff1"/><path d="M260.8 427.8L267.2 429.8L270.9 426.2L264.5 424.2Z" fill="#6c8ff1"/><path d="M393.7 266.6L400.2 265L403.9 251.7L397.4 253.6Z" fill="#f6bda2"/><path d="M218.2 429.1L224.4 430.8L228.2 427.5L221.9 425.8Z" fill="#6b8df0"/><path d="M397.4 253.6L403.9 251.7L407.5 239L401 241.2Z" fill="#f7b093"/><path d="M357.1 393.9L363.5 395L367.3 376.7L360.8 376.1Z" fill="#98b9ff"/><path d="M368.1 352.4L374.6 352.6L378.2 341.7L371.8 341.7Z" fill="#bed2f6"/><path d="M277.2 428.3L283.5 430.4L287.2 426.9L280.9 424.8Z" fill="#6c8ff1"/><path d="M435.7 176.1L442.3 173.4L445.8 165.5L439.3 168.1Z" fill="#d24b40"/><path d="M418.4 208.5L424.9 205.8L428.6 194.3L422 197.2Z" fill="#e97a5f"/><path d="M234.5 429.3L240.8 431.1L244.5 427.6L238.2 425.8Z" fill="#6c8ff1"/><path d="M346.2 425L352.6 426.7L356.2 418.8L349.8 417.3Z" fill="#7396f5"/><path d="M293.5 429.1L299.9 431.2L303.5 427.8L297.2 425.6Z" fill="#6c8ff1"/><path d="M336.2 428.6L342.6 430.1L346.2 425L339.8 423.6Z" fill="#6e90f2"/><path d="M364.5 363.2L370.9 363.6L374.6 352.6L368.1 352.4Z" fill="#b5cdfa"/><path d="M414.7 219.5L421.3 217L424.9 205.8L418.4 208.5Z" fill="#ef886b"/><path d="M359.9 409.3L366.3 410.7L370 396L363.5 395Z" fill="#86a9fc"/><path d="M360.8 376.1L367.3 376.7L370.9 363.6L364.5 363.2Z" fill="#a9c6fd"/><path d="M465.9 153.8L472.5 152L475.8 151.8L469.2 153.2Z" fill="#c0282f"/><path d="M250.8 429.4L257.1 431.3L260.8 427.8L254.5 425.9Z" fill="#6c8ff1"/><path d="M309.9 429.8L316.2 431.8L319.9 428.4L313.5 426.4Z" fill="#6c8ff1"/><path d="M356.2 418.8L362.6 420.3L366.3 410.7L359.9 409.3Z" fill="#7b9ff9"/><path d="M208.1 430.4L214.4 432.2L218.2 429.1L211.9 427.3Z" fill="#6b8df0"/><path d="M267.2 429.8L273.5 431.8L277.2 428.3L270.9 426.2Z" fill="#6c8ff1"/><path d="M445.8 165.5L452.4 163.5L455.9 158L449.3 159.7Z" fill="#c83836"/><path d="M326.2 430.4L332.6 432L336.2 428.6L329.8 427.1Z" fill="#6c8ff1"/><path d="M411.1 229L417.7 226.6L421.3 217L414.7 219.5Z" fill="#f39475"/><path d="M381.8 330.9L388.3 330.6L392 318.1L385.5 318.6Z" fill="#d4dbe6"/><path d="M385.5 318.6L392 318.1L395.7 304.4L389.2 305.2Z" fill="#dddcdc"/><path d="M224.4 430.8L230.7 432.6L234.5 429.3L228.2 427.5Z" fill="#6c8ff1"/><path d="M455.9 158L462.5 156L465.9 153.8L459.3 155.4Z" fill="#c32e31"/><path d="M432.1 184.6L438.7 181.9L442.3 173.4L435.7 176.1Z" fill="#d85646"/><path d="M378.2 341.7L384.7 341.7L388.3 330.6L381.8 330.9Z" fill="#cad8ef"/><path d="M283.5 430.4L289.9 432.5L293.5 429.1L287.2 426.9Z" fill="#6c8ff1"/><path d="M389.2 305.2L395.7 304.4L399.3 290.4L392.9 291.5Z" fill="#e8d6cc"/><path d="M363.5 395L370 396L373.7 377.4L367.3 376.7Z" fill="#9abbff"/><path d="M240.8 431.1L247.1 432.9L250.8 429.4L244.5 427.6Z" fill="#6c8ff1"/><path d="M392.9 291.5L399.3 290.4L403 276.7L396.5 278Z" fill="#efcebd"/><path d="M482.4 150.3L489 149.3L492.2 150.5L485.6 151.3Z" fill="#bb1b2c"/><path d="M299.9 431.2L306.2 433.2L309.9 429.8L303.5 427.8Z" fill="#6c8ff1"/><path d="M352.6 426.7L359 428.3L362.6 420.3L356.2 418.8Z" fill="#7396f5"/><path d="M374.6 352.6L381 352.8L384.7 341.7L378.2 341.7Z" fill="#c0d4f5"/><path d="M407.5 239L414.1 236.9L417.7 226.6L411.1 229Z" fill="#f59f80"/><path d="M396.5 278L403 276.7L406.7 263.4L400.2 265Z" fill="#f5c4ac"/><path d="M342.6 430.1L349 431.8L352.6 426.7L346.2 425Z" fill="#6f92f3"/><path d="M400.2 265L406.7 263.4L410.4 249.8L403.9 251.7Z" fill="#f7b89c"/><path d="M316.2 431.8L322.6 433.7L326.2 430.4L319.9 428.4Z" fill="#6c8ff1"/><path d="M257.1 431.3L263.4 433.3L267.2 429.8L260.8 427.8Z" fill="#6c8ff1"/><path d="M403.9 251.7L410.4 249.8L414.1 236.9L407.5 239Z" fill="#f7aa8c"/><path d="M428.6 194.3L435.1 191.7L438.7 181.9L432.1 184.6Z" fill="#df634e"/><path d="M366.3 410.7L372.7 412.1L376.4 397.2L370 396Z" fill="#88abfd"/><path d="M214.4 432.2L220.6 433.9L224.4 430.8L218.2 429.1Z" fill="#6c8ff1"/><path d="M370.9 363.6L377.4 364L381 352.8L374.6 352.6Z" fill="#b6cefa"/><path d="M362.6 420.3L369.1 421.9L372.7 412.1L366.3 410.7Z" fill="#7b9ff9"/><path d="M367.3 376.7L373.7 377.4L377.4 364L370.9 363.6Z" fill="#aac7fd"/><path d="M273.5 431.8L279.8 433.9L283.5 430.4L277.2 428.3Z" fill="#6c8ff1"/><path d="M442.3 173.4L448.9 171.3L452.4 163.5L445.8 165.5Z" fill="#cd423b"/><path d="M332.6 432L339 433.6L342.6 430.1L336.2 428.6Z" fill="#6c8ff1"/><path d="M230.7 432.6L237 434.4L240.8 431.1L234.5 429.3Z" fill="#6c8ff1"/><path d="M424.9 205.8L431.5 203.3L435.1 191.7L428.6 194.3Z" fill="#e67259"/><path d="M289.9 432.5L296.2 434.6L299.9 431.2L293.5 429.1Z" fill="#6c8ff1"/><path d="M472.5 152L479.1 150.2L482.4 150.3L475.8 151.8Z" fill="#bb1b2c"/><path d="M421.3 217L427.8 214.8L431.5 203.3L424.9 205.8Z" fill="#ec8165"/><path d="M388.3 330.6L394.8 330.6L398.5 317.8L392 318.1Z" fill="#d6dce4"/><path d="M247.1 432.9L253.4 434.8L257.1 431.3L250.8 429.4Z" fill="#6c8ff1"/><path d="M306.2 433.2L312.6 435.1L316.2 431.8L309.9 429.8Z" fill="#6c8ff1"/><path d="M392 318.1L398.5 317.8L402.1 303.9L395.7 304.4Z" fill="#e0dbd8"/><path d="M370 396L376.4 397.2L380.2 378.2L373.7 377.4Z" fill="#9bbcff"/><path d="M384.7 341.7L391.1 341.8L394.8 330.6L388.3 330.6Z" fill="#ccd9ed"/><path d="M359 428.3L365.5 430L369.1 421.9L362.6 420.3Z" fill="#7396f5"/><path d="M349 431.8L355.4 433.5L359 428.3L352.6 426.7Z" fill="#6f92f3"/><path d="M452.4 163.5L459 161.3L462.5 156L455.9 158Z" fill="#c43032"/><path d="M263.4 433.3L269.8 435.3L273.5 431.8L267.2 429.8Z" fill="#6c8ff1"/><path d="M462.5 156L469.1 153.9L472.5 152L465.9 153.8Z" fill="#bd1f2d"/><path d="M395.7 304.4L402.1 303.9L405.8 289.6L399.3 290.4Z" fill="#ead5c9"/><path d="M322.6 433.7L329 435.4L332.6 432L326.2 430.4Z" fill="#6c8ff1"/><path d="M417.7 226.6L424.2 224.5L427.8 214.8L421.3 217Z" fill="#f18d6f"/><path d="M381 352.8L387.5 353.2L391.1 341.8L384.7 341.7Z" fill="#c3d5f4"/><path d="M220.6 433.9L226.9 435.7L230.7 432.6L224.4 430.8Z" fill="#6c8ff1"/><path d="M438.7 181.9L445.3 179.7L448.9 171.3L442.3 173.4Z" fill="#d44e41"/><path d="M372.7 412.1L379.1 413.7L382.8 398.5L376.4 397.2Z" fill="#89acfd"/><path d="M369.1 421.9L375.5 423.6L379.1 413.7L372.7 412.1Z" fill="#7b9ff9"/><path d="M279.8 433.9L286.2 436L289.9 432.5L283.5 430.4Z" fill="#6c8ff1"/><path d="M399.3 290.4L405.8 289.6L409.5 275.6L403 276.7Z" fill="#f1ccb8"/><path d="M377.4 364L383.8 364.6L387.5 353.2L381 352.8Z" fill="#b9d0f9"/><path d="M403 276.7L409.5 275.6L413.2 262L406.7 263.4Z" fill="#f5c0a7"/><path d="M237 434.4L243.3 436.2L247.1 432.9L240.8 431.1Z" fill="#6c8ff1"/><path d="M339 433.6L345.4 435.3L349 431.8L342.6 430.1Z" fill="#6e90f2"/><path d="M373.7 377.4L380.2 378.2L383.8 364.6L377.4 364Z" fill="#adc9fd"/><path d="M296.2 434.6L302.6 436.6L306.2 433.2L299.9 431.2Z" fill="#6c8ff1"/><path d="M414.1 236.9L420.6 235L424.2 224.5L417.7 226.6Z" fill="#f4987a"/><path d="M406.7 263.4L413.2 262L416.9 248.2L410.4 249.8Z" fill="#f7b497"/><path d="M410.4 249.8L416.9 248.2L420.6 235L414.1 236.9Z" fill="#f7a688"/><path d="M253.4 434.8L259.7 436.7L263.4 433.3L257.1 431.3Z" fill="#6c8ff1"/><path d="M312.6 435.1L319 437.1L322.6 433.7L316.2 431.8Z" fill="#6c8ff1"/><path d="M435.1 191.7L441.7 189.6L445.3 179.7L438.7 181.9Z" fill="#da5a49"/><path d="M365.5 430L371.9 431.8L375.5 423.6L369.1 421.9Z" fill="#7597f6"/><path d="M376.4 397.2L382.8 398.5L386.6 379.1L380.2 378.2Z" fill="#9dbdff"/><path d="M355.4 433.5L361.9 435.3L365.5 430L359 428.3Z" fill="#6f92f3"/><path d="M269.8 435.3L276.1 437.3L279.8 433.9L273.5 431.8Z" fill="#6c8ff1"/><path d="M448.9 171.3L455.5 169L459 161.3L452.4 163.5Z" fill="#c83836"/><path d="M394.8 330.6L401.3 330.7L405 317.7L398.5 317.8Z" fill="#d8dce2"/><path d="M329 435.4L335.4 437L339 433.6L332.6 432Z" fill="#6c8ff1"/><path d="M479.1 150.2L485.8 148.8L489 149.3L482.4 150.3Z" fill="#b70d28"/><path d="M431.5 203.3L438.1 201.3L441.7 189.6L435.1 191.7Z" fill="#e36b54"/><path d="M391.1 341.8L397.6 342.2L401.3 330.7L394.8 330.6Z" fill="#cedaeb"/><path d="M226.9 435.7L233.2 437.5L237 434.4L230.7 432.6Z" fill="#6c8ff1"/><path d="M398.5 317.8L405 317.7L408.7 303.5L402.1 303.9Z" fill="#e2dad5"/><path d="M286.2 436L292.5 438L296.2 434.6L289.9 432.5Z" fill="#6c8ff1"/><path d="M379.1 413.7L385.6 415.2L389.3 399.8L382.8 398.5Z" fill="#89acfd"/><path d="M375.5 423.6L381.9 425.3L385.6 415.2L379.1 413.7Z" fill="#7da0f9"/><path d="M427.8 214.8L434.4 212.8L438.1 201.3L431.5 203.3Z" fill="#e97a5f"/><path d="M387.5 353.2L394 353.7L397.6 342.2L391.1 341.8Z" fill="#c5d6f2"/><path d="M243.3 436.2L249.7 438L253.4 434.8L247.1 432.9Z" fill="#6c8ff1"/><path d="M402.1 303.9L408.7 303.5L412.4 289L405.8 289.6Z" fill="#ecd3c5"/><path d="M345.4 435.3L351.9 437L355.4 433.5L349 431.8Z" fill="#6e90f2"/><path d="M302.6 436.6L309 438.5L312.6 435.1L306.2 433.2Z" fill="#6c8ff1"/><path d="M459 161.3L465.7 159L469.1 153.9L462.5 156Z" fill="#be242e"/><path d="M383.8 364.6L390.3 365.3L394 353.7L387.5 353.2Z" fill="#bad0f8"/><path d="M380.2 378.2L386.6 379.1L390.3 365.3L383.8 364.6Z" fill="#aec9fc"/><path d="M469.1 153.9L475.8 151.8L479.1 150.2L472.5 152Z" fill="#b8122a"/><path d="M424.2 224.5L430.8 222.7L434.4 212.8L427.8 214.8Z" fill="#ef886b"/><path d="M259.7 436.7L266.1 438.7L269.8 435.3L263.4 433.3Z" fill="#6c8ff1"/><path d="M405.8 289.6L412.4 289L416.1 274.7L409.5 275.6Z" fill="#f2c9b4"/><path d="M319 437.1L325.4 438.7L329 435.4L322.6 433.7Z" fill="#6c8ff1"/><path d="M445.3 179.7L451.9 177.4L455.5 169L448.9 171.3Z" fill="#cf453c"/><path d="M371.9 431.8L378.3 433.6L381.9 425.3L375.5 423.6Z" fill="#7597f6"/><path d="M409.5 275.6L416.1 274.7L419.8 260.9L413.2 262Z" fill="#f6bda2"/><path d="M276.1 437.3L282.5 439.4L286.2 436L279.8 433.9Z" fill="#6c8ff1"/><path d="M361.9 435.3L368.3 437.1L371.9 431.8L365.5 430Z" fill="#6f92f3"/><path d="M382.8 398.5L389.3 399.8L393.1 380.1L386.6 379.1Z" fill="#9ebeff"/><path d="M413.2 262L419.8 260.9L423.5 246.8L416.9 248.2Z" fill="#f7b093"/><path d="M335.4 437L341.8 438.7L345.4 435.3L339 433.6Z" fill="#6e90f2"/><path d="M420.6 235L427.2 233.3L430.8 222.7L424.2 224.5Z" fill="#f39475"/><path d="M233.2 437.5L239.6 439.3L243.3 436.2L237 434.4Z" fill="#6c8ff1"/><path d="M292.5 438L298.9 439.9L302.6 436.6L296.2 434.6Z" fill="#6c8ff1"/><path d="M416.9 248.2L423.5 246.8L427.2 233.3L420.6 235Z" fill="#f5a081"/><path d="M381.9 425.3L388.4 427L392 416.8L385.6 415.2Z" fill="#7da0f9"/><path d="M385.6 415.2L392 416.8L395.8 401.1L389.3 399.8Z" fill="#8badfd"/><path d="M401.3 330.7L407.8 330.8L411.5 317.6L405 317.7Z" fill="#dadce0"/><path d="M397.6 342.2L404.1 342.5L407.8 330.8L401.3 330.7Z" fill="#cfdaea"/><path d="M249.7 438L256 439.9L259.7 436.7L253.4 434.8Z" fill="#6c8ff1"/><path d="M309 438.5L315.4 440.4L319 437.1L312.6 435.1Z" fill="#6c8ff1"/><path d="M441.7 189.6L448.3 187.3L451.9 177.4L445.3 179.7Z" fill="#d65244"/><path d="M351.9 437L358.3 438.8L361.9 435.3L355.4 433.5Z" fill="#6e90f2"/><path d="M405 317.7L411.5 317.6L415.2 303.1L408.7 303.5Z" fill="#e4d9d2"/><path d="M394 353.7L400.5 354.2L404.1 342.5L397.6 342.2Z" fill="#c6d6f1"/><path d="M266.1 438.7L272.4 440.7L276.1 437.3L269.8 435.3Z" fill="#6c8ff1"/><path d="M455.5 169L462.1 166.6L465.7 159L459 161.3Z" fill="#c32e31"/><path d="M438.1 201.3L444.7 199.1L448.3 187.3L441.7 189.6Z" fill="#df634e"/><path d="M325.4 438.7L331.8 440.4L335.4 437L329 435.4Z" fill="#6c8ff1"/><path d="M386.6 379.1L393.1 380.1L396.8 366L390.3 365.3Z" fill="#afcafc"/><path d="M390.3 365.3L396.8 366L400.5 354.2L394 353.7Z" fill="#bcd2f7"/><path d="M408.7 303.5L415.2 303.1L418.9 288.3L412.4 289Z" fill="#edd1c2"/><path d="M282.5 439.4L288.9 441.4L292.5 438L286.2 436Z" fill="#6c8ff1"/><path d="M378.3 433.6L384.8 435.5L388.4 427L381.9 425.3Z" fill="#7597f6"/><path d="M434.4 212.8L441 210.8L444.7 199.1L438.1 201.3Z" fill="#e67259"/><path d="M368.3 437.1L374.8 439L378.3 433.6L371.9 431.8Z" fill="#7093f3"/><path d="M341.8 438.7L348.3 440.4L351.9 437L345.4 435.3Z" fill="#6e90f2"/><path d="M412.4 289L418.9 288.3L422.6 273.8L416.1 274.7Z" fill="#f4c6af"/><path d="M298.9 439.9L305.3 441.8L309 438.5L302.6 436.6Z" fill="#6c8ff1"/><path d="M239.6 439.3L245.9 441.1L249.7 438L243.3 436.2Z" fill="#6c8ff1"/><path d="M475.8 151.8L482.4 150.3L485.8 148.8L479.1 150.2Z" fill="#b40426"/><path d="M389.3 399.8L395.8 401.1L399.6 381L393.1 380.1Z" fill="#9ebeff"/><path d="M465.7 159L472.3 156.8L475.8 151.8L469.1 153.9Z" fill="#b8122a"/><path d="M388.4 427L394.9 429.1L398.5 418.8L392 416.8Z" fill="#7da0f9"/><path d="M430.8 222.7L437.4 220.9L441 210.8L434.4 212.8Z" fill="#ec8165"/><path d="M392 416.8L398.5 418.8L402.3 402.8L395.8 401.1Z" fill="#8badfd"/><path d="M416.1 274.7L422.6 273.8L426.3 259.7L419.8 260.9Z" fill="#f7b99e"/><path d="M256 439.9L262.3 441.9L266.1 438.7L259.7 436.7Z" fill="#6c8ff1"/><path d="M315.4 440.4L321.8 442.1L325.4 438.7L319 437.1Z" fill="#6c8ff1"/><path d="M358.3 438.8L364.7 440.6L368.3 437.1L361.9 435.3Z" fill="#6e90f2"/><path d="M451.9 177.4L458.6 175L462.1 166.6L455.5 169Z" fill="#ca3b37"/><path d="M272.4 440.7L278.8 442.7L282.5 439.4L276.1 437.3Z" fill="#6c8ff1"/><path d="M419.8 260.9L426.3 259.7L430.1 245.3L423.5 246.8Z" fill="#f7ac8e"/><path d="M407.8 330.8L414.3 330.9L418 317.4L411.5 317.6Z" fill="#dcdddd"/><path d="M404.1 342.5L410.6 342.8L414.3 330.9L407.8 330.8Z" fill="#d2dbe8"/><path d="M427.2 233.3L433.8 231.6L437.4 220.9L430.8 222.7Z" fill="#f18d6f"/><path d="M331.8 440.4L338.2 442.1L341.8 438.7L335.4 437Z" fill="#6e90f2"/><path d="M423.5 246.8L430.1 245.3L433.8 231.6L427.2 233.3Z" fill="#f59c7d"/><path d="M400.5 354.2L407 354.7L410.6 342.8L404.1 342.5Z" fill="#c9d7f0"/><path d="M411.5 317.6L418 317.4L421.7 302.7L415.2 303.1Z" fill="#e6d7cf"/><path d="M288.9 441.4L295.2 443.2L298.9 439.9L292.5 438Z" fill="#6c8ff1"/><path d="M384.8 435.5L391.3 437.7L394.9 429.1L388.4 427Z" fill="#7597f6"/><path d="M374.8 439L381.2 440.9L384.8 435.5L378.3 433.6Z" fill="#7093f3"/><path d="M393.1 380.1L399.6 381L403.3 366.7L396.8 366Z" fill="#b1cbfc"/><path d="M396.8 366L403.3 366.7L407 354.7L400.5 354.2Z" fill="#bed2f6"/><path d="M448.3 187.3L455 184.9L458.6 175L451.9 177.4Z" fill="#d1493f"/><path d="M305.3 441.8L311.7 443.7L315.4 440.4L309 438.5Z" fill="#6c8ff1"/><path d="M348.3 440.4L354.7 442.2L358.3 438.8L351.9 437Z" fill="#6e90f2"/><path d="M245.9 441.1L252.2 443L256 439.9L249.7 438Z" fill="#6e90f2"/><path d="M394.9 429.1L401.3 431.7L405 421.2L398.5 418.8Z" fill="#7da0f9"/><path d="M415.2 303.1L421.7 302.7L425.5 287.6L418.9 288.3Z" fill="#efcebd"/><path d="M395.8 401.1L402.3 402.8L406.1 382.3L399.6 381Z" fill="#9fbfff"/><path d="M398.5 418.8L405 421.2L408.7 404.9L402.3 402.8Z" fill="#8badfd"/><path d="M462.1 166.6L468.8 164.4L472.3 156.8L465.7 159Z" fill="#bd1f2d"/><path d="M262.3 441.9L268.7 443.9L272.4 440.7L266.1 438.7Z" fill="#6c8ff1"/><path d="M444.7 199.1L451.3 196.9L455 184.9L448.3 187.3Z" fill="#da5a49"/><path d="M364.7 440.6L371.2 442.5L374.8 439L368.3 437.1Z" fill="#6f92f3"/><path d="M321.8 442.1L328.2 443.7L331.8 440.4L325.4 438.7Z" fill="#6e90f2"/><path d="M418.9 288.3L425.5 287.6L429.2 272.8L422.6 273.8Z" fill="#f5c4ac"/><path d="M278.8 442.7L285.2 444.6L288.9 441.4L282.5 439.4Z" fill="#6c8ff1"/><path d="M441 210.8L447.6 208.8L451.3 196.9L444.7 199.1Z" fill="#e36c55"/><path d="M391.3 437.7L397.7 440.4L401.3 431.7L394.9 429.1Z" fill="#7597f6"/><path d="M338.2 442.1L344.7 443.9L348.3 440.4L341.8 438.7Z" fill="#6e90f2"/><path d="M472.3 156.8L479 155.1L482.4 150.3L475.8 151.8Z" fill="#b40426"/><path d="M295.2 443.2L301.6 445.1L305.3 441.8L298.9 439.9Z" fill="#6c8ff1"/><path d="M422.6 273.8L429.2 272.8L432.9 258.5L426.3 259.7Z" fill="#f7b79b"/><path d="M381.2 440.9L387.7 443.2L391.3 437.7L384.8 435.5Z" fill="#7093f3"/><path d="M437.4 220.9L444 219L447.6 208.8L441 210.8Z" fill="#e97a5f"/><path d="M410.6 342.8L417.2 343.4L420.8 331.3L414.3 330.9Z" fill="#d4dbe6"/><path d="M414.3 330.9L420.8 331.3L424.5 317.6L418 317.4Z" fill="#dddcdc"/><path d="M407 354.7L413.5 355.5L417.2 343.4L410.6 342.8Z" fill="#cad8ef"/><path d="M399.6 381L406.1 382.3L409.8 367.7L403.3 366.7Z" fill="#b2ccfb"/><path d="M252.2 443L258.6 444.9L262.3 441.9L256 439.9Z" fill="#6e90f2"/><path d="M426.3 259.7L432.9 258.5L436.7 243.8L430.1 245.3Z" fill="#f7a688"/><path d="M311.7 443.7L318.1 445.4L321.8 442.1L315.4 440.4Z" fill="#6c8ff1"/><path d="M354.7 442.2L361.2 444.1L364.7 440.6L358.3 438.8Z" fill="#6e90f2"/><path d="M458.6 175L465.2 172.7L468.8 164.4L462.1 166.6Z" fill="#c43032"/><path d="M418 317.4L424.5 317.6L428.3 302.6L421.7 302.7Z" fill="#e8d6cc"/><path d="M403.3 366.7L409.8 367.7L413.5 355.5L407 354.7Z" fill="#bfd3f6"/><path d="M402.3 402.8L408.7 404.9L412.6 384.1L406.1 382.3Z" fill="#9fbfff"/><path d="M433.8 231.6L440.4 229.9L444 219L437.4 220.9Z" fill="#ef886b"/><path d="M268.7 443.9L275.1 445.8L278.8 442.7L272.4 440.7Z" fill="#6c8ff1"/><path d="M430.1 245.3L436.7 243.8L440.4 229.9L433.8 231.6Z" fill="#f39778"/><path d="M371.2 442.5L377.7 444.4L381.2 440.9L374.8 439Z" fill="#6f92f3"/><path d="M328.2 443.7L334.6 445.5L338.2 442.1L331.8 440.4Z" fill="#6e90f2"/><path d="M285.2 444.6L291.6 446.5L295.2 443.2L288.9 441.4Z" fill="#6c8ff1"/><path d="M421.7 302.7L428.3 302.6L432 287.2L425.5 287.6Z" fill="#f1cdba"/><path d="M455 184.9L461.6 182.7L465.2 172.7L458.6 175Z" fill="#cc403a"/><path d="M387.7 443.2L394.2 445.9L397.7 440.4L391.3 437.7Z" fill="#6f92f3"/><path d="M344.7 443.9L351.1 445.7L354.7 442.2L348.3 440.4Z" fill="#6e90f2"/><path d="M301.6 445.1L308 446.9L311.7 443.7L305.3 441.8Z" fill="#6c8ff1"/><path d="M468.8 164.4L475.5 162.7L479 155.1L472.3 156.8Z" fill="#b8122a"/><path d="M425.5 287.6L432 287.2L435.8 272.1L429.2 272.8Z" fill="#f5c0a7"/><path d="M417.2 343.4L423.7 344.5L427.4 332.2L420.8 331.3Z" fill="#d5dbe5"/><path d="M451.3 196.9L458 194.9L461.6 182.7L455 184.9Z" fill="#d65244"/><path d="M258.6 444.9L265 446.9L268.7 443.9L262.3 441.9Z" fill="#6e90f2"/><path d="M420.8 331.3L427.4 332.2L431.1 318.3L424.5 317.6Z" fill="#dfdbd9"/><path d="M361.2 444.1L367.6 445.9L371.2 442.5L364.7 440.6Z" fill="#6f92f3"/><path d="M406.1 382.3L412.6 384.1L416.3 369.2L409.8 367.7Z" fill="#b3cdfb"/><path d="M318.1 445.4L324.5 447.1L328.2 443.7L321.8 442.1Z" fill="#6e90f2"/><path d="M413.5 355.5L420 356.8L423.7 344.5L417.2 343.4Z" fill="#cbd8ee"/><path d="M447.6 208.8L454.3 206.9L458 194.9L451.3 196.9Z" fill="#e0654f"/><path d="M409.8 367.7L416.3 369.2L420 356.8L413.5 355.5Z" fill="#c0d4f5"/><path d="M275.1 445.8L281.5 447.8L285.2 444.6L278.8 442.7Z" fill="#6c8ff1"/><path d="M429.2 272.8L435.8 272.1L439.5 257.5L432.9 258.5Z" fill="#f7b396"/><path d="M377.7 444.4L384.1 446.7L387.7 443.2L381.2 440.9Z" fill="#6f92f3"/><path d="M424.5 317.6L431.1 318.3L434.8 303L428.3 302.6Z" fill="#ead5c9"/><path d="M334.6 445.5L341.1 447.3L344.7 443.9L338.2 442.1Z" fill="#6e90f2"/><path d="M444 219L450.6 217.3L454.3 206.9L447.6 208.8Z" fill="#e7745b"/><path d="M291.6 446.5L298 448.3L301.6 445.1L295.2 443.2Z" fill="#6c8ff1"/><path d="M432.9 258.5L439.5 257.5L443.3 242.6L436.7 243.8Z" fill="#f6a283"/><path d="M465.2 172.7L471.9 171L475.5 162.7L468.8 164.4Z" fill="#c0282f"/><path d="M351.1 445.7L357.6 447.5L361.2 444.1L354.7 442.2Z" fill="#6e90f2"/><path d="M308 446.9L314.5 448.7L318.1 445.4L311.7 443.7Z" fill="#6e90f2"/><path d="M428.3 302.6L434.8 303L438.6 287.4L432 287.2Z" fill="#f2cbb7"/><path d="M440.4 229.9L447 228.4L450.6 217.3L444 219Z" fill="#ec8165"/><path d="M436.7 243.8L443.3 242.6L447 228.4L440.4 229.9Z" fill="#f29072"/><path d="M265 446.9L271.3 448.8L275.1 445.8L268.7 443.9Z" fill="#6e90f2"/><path d="M367.6 445.9L374.1 447.8L377.7 444.4L371.2 442.5Z" fill="#6f92f3"/><path d="M324.5 447.1L331 448.9L334.6 445.5L328.2 443.7Z" fill="#6e90f2"/><path d="M384.1 446.7L390.6 449.4L394.2 445.9L387.7 443.2Z" fill="#6e90f2"/><path d="M281.5 447.8L287.8 449.6L291.6 446.5L285.2 444.6Z" fill="#6e90f2"/><path d="M432 287.2L438.6 287.4L442.4 272L435.8 272.1Z" fill="#f6bea4"/><path d="M461.6 182.7L468.3 181.1L471.9 171L465.2 172.7Z" fill="#c83836"/><path d="M341.1 447.3L347.5 449.1L351.1 445.7L344.7 443.9Z" fill="#6e90f2"/><path d="M298 448.3L304.4 450.1L308 446.9L301.6 445.1Z" fill="#6e90f2"/><path d="M458 194.9L464.6 193.4L468.3 181.1L461.6 182.7Z" fill="#d1493f"/><path d="M435.8 272.1L442.4 272L446.1 257.1L439.5 257.5Z" fill="#f7af91"/><path d="M454.3 206.9L460.9 205.6L464.6 193.4L458 194.9Z" fill="#dc5d4a"/><path d="M357.6 447.5L364.1 449.4L367.6 445.9L361.2 444.1Z" fill="#6f92f3"/><path d="M314.5 448.7L320.9 450.4L324.5 447.1L318.1 445.4Z" fill="#6e90f2"/><path d="M450.6 217.3L457.3 216.2L460.9 205.6L454.3 206.9Z" fill="#e36c55"/><path d="M271.3 448.8L277.7 450.7L281.5 447.8L275.1 445.8Z" fill="#6e90f2"/><path d="M439.5 257.5L446.1 257.1L449.9 241.9L443.3 242.6Z" fill="#f59f80"/><path d="M374.1 447.8L380.6 450.1L384.1 446.7L377.7 444.4Z" fill="#6f92f3"/><path d="M331 448.9L337.4 450.7L341.1 447.3L334.6 445.5Z" fill="#6e90f2"/><path d="M287.8 449.6L294.3 451.3L298 448.3L291.6 446.5Z" fill="#6e90f2"/><path d="M447 228.4L453.6 227.5L457.3 216.2L450.6 217.3Z" fill="#ea7b60"/><path d="M443.3 242.6L449.9 241.9L453.6 227.5L447 228.4Z" fill="#f08b6e"/><path d="M347.5 449.1L354 451L357.6 447.5L351.1 445.7Z" fill="#6f92f3"/><path d="M304.4 450.1L310.8 451.9L314.5 448.7L308 446.9Z" fill="#6e90f2"/><path d="M364.1 449.4L370.5 451.3L374.1 447.8L367.6 445.9Z" fill="#6f92f3"/><path d="M320.9 450.4L327.3 452.2L331 448.9L324.5 447.1Z" fill="#6e90f2"/><path d="M380.6 450.1L387.1 452.9L390.6 449.4L384.1 446.7Z" fill="#6e90f2"/><path d="M277.7 450.7L284.1 452.5L287.8 449.6L281.5 447.8Z" fill="#6e90f2"/><path d="M337.4 450.7L343.9 452.5L347.5 449.1L341.1 447.3Z" fill="#6e90f2"/><path d="M294.3 451.3L300.7 453.1L304.4 450.1L298 448.3Z" fill="#6e90f2"/><path d="M354 451L360.5 452.8L364.1 449.4L357.6 447.5Z" fill="#6f92f3"/><path d="M310.8 451.9L317.2 453.7L320.9 450.4L314.5 448.7Z" fill="#6e90f2"/><path d="M370.5 451.3L377 453.6L380.6 450.1L374.1 447.8Z" fill="#6f92f3"/><path d="M327.3 452.2L333.8 454.1L337.4 450.7L331 448.9Z" fill="#6e90f2"/><path d="M284.1 452.5L290.5 454.3L294.3 451.3L287.8 449.6Z" fill="#6e90f2"/><path d="M343.9 452.5L350.4 454.4L354 451L347.5 449.1Z" fill="#6f92f3"/><path d="M300.7 453.1L307.1 454.9L310.8 451.9L304.4 450.1Z" fill="#6e90f2"/><path d="M360.5 452.8L367 454.7L370.5 451.3L364.1 449.4Z" fill="#6f92f3"/><path d="M317.2 453.7L323.7 455.5L327.3 452.2L320.9 450.4Z" fill="#6e90f2"/><path d="M377 453.6L383.5 456.4L387.1 452.9L380.6 450.1Z" fill="#6e90f2"/><path d="M333.8 454.1L340.3 455.9L343.9 452.5L337.4 450.7Z" fill="#6f92f3"/><path d="M290.5 454.3L297 456L300.7 453.1L294.3 451.3Z" fill="#6f92f3"/><path d="M350.4 454.4L356.9 456.2L360.5 452.8L354 451Z" fill="#6f92f3"/><path d="M307.1 454.9L313.6 456.8L317.2 453.7L310.8 451.9Z" fill="#6e90f2"/><path d="M367 454.7L373.4 457.1L377 453.6L370.5 451.3Z" fill="#6f92f3"/><path d="M323.7 455.5L330.1 457.4L333.8 454.1L327.3 452.2Z" fill="#6f92f3"/><path d="M340.3 455.9L346.7 457.7L350.4 454.4L343.9 452.5Z" fill="#6f92f3"/><path d="M297 456L303.4 457.9L307.1 454.9L300.7 453.1Z" fill="#6f92f3"/><path d="M356.9 456.2L363.4 458.2L367 454.7L360.5 452.8Z" fill="#6f92f3"/><path d="M373.4 457.1L380 459.9L383.5 456.4L377 453.6Z" fill="#6e90f2"/><path d="M313.6 456.8L320 458.7L323.7 455.5L317.2 453.7Z" fill="#6f92f3"/><path d="M330.1 457.4L336.6 459.2L340.3 455.9L333.8 454.1Z" fill="#6f92f3"/><path d="M346.7 457.7L353.2 459.6L356.9 456.2L350.4 454.4Z" fill="#6f92f3"/><path d="M303.4 457.9L309.9 459.8L313.6 456.8L307.1 454.9Z" fill="#6f92f3"/><path d="M363.4 458.2L369.9 460.5L373.4 457.1L367 454.7Z" fill="#6f92f3"/><path d="M320 458.7L326.5 460.6L330.1 457.4L323.7 455.5Z" fill="#6f92f3"/><path d="M336.6 459.2L343.1 461L346.7 457.7L340.3 455.9Z" fill="#6f92f3"/><path d="M353.2 459.6L359.7 461.5L363.4 458.2L356.9 456.2Z" fill="#6f92f3"/><path d="M369.9 460.5L376.4 463.3L380 459.9L373.4 457.1Z" fill="#6e90f2"/><path d="M309.9 459.8L316.3 461.7L320 458.7L313.6 456.8Z" fill="#6f92f3"/><path d="M326.5 460.6L333 462.4L336.6 459.2L330.1 457.4Z" fill="#6f92f3"/><path d="M343.1 461L349.6 462.9L353.2 459.6L346.7 457.7Z" fill="#6f92f3"/><path d="M359.7 461.5L366.3 463.9L369.9 460.5L363.4 458.2Z" fill="#6f92f3"/><path d="M316.3 461.7L322.8 463.6L326.5 460.6L320 458.7Z" fill="#6f92f3"/><path d="M333 462.4L339.5 464.2L343.1 461L336.6 459.2Z" fill="#6f92f3"/><path d="M349.6 462.9L356.1 464.8L359.7 461.5L353.2 459.6Z" fill="#6f92f3"/><path d="M366.3 463.9L372.8 466.7L376.4 463.3L369.9 460.5Z" fill="#6e90f2"/><path d="M322.8 463.6L329.3 465.5L333 462.4L326.5 460.6Z" fill="#6f92f3"/><path d="M339.5 464.2L346 466.1L349.6 462.9L343.1 461Z" fill="#6f92f3"/><path d="M356.1 464.8L362.6 467.2L366.3 463.9L359.7 461.5Z" fill="#6f92f3"/><path d="M329.3 465.5L335.8 467.3L339.5 464.2L333 462.4Z" fill="#7093f3"/><path d="M346 466.1L352.5 468.1L356.1 464.8L349.6 462.9Z" fill="#7093f3"/><path d="M362.6 467.2L369.2 470L372.8 466.7L366.3 463.9Z" fill="#6f92f3"/><path d="M335.8 467.3L342.3 469.2L346 466.1L339.5 464.2Z" fill="#7093f3"/><path d="M352.5 468.1L359 470.5L362.6 467.2L356.1 464.8Z" fill="#6f92f3"/><path d="M342.3 469.2L348.9 471.2L352.5 468.1L346 466.1Z" fill="#7093f3"/><path d="M359 470.5L365.6 473.3L369.2 470L362.6 467.2Z" fill="#6f92f3"/><path d="M348.9 471.2L355.4 473.7L359 470.5L352.5 468.1Z" fill="#7093f3"/><path d="M355.4 473.7L361.9 476.5L365.6 473.3L359 470.5Z" fill="#6f92f3"/></g>
<text x="603.6" y="136.5" font-size="25.5" fill="#111" stroke="#111" stroke-width="0.45">14</text>
<text x="601.1" y="169.7" font-size="25.5" fill="#111" stroke="#111" stroke-width="0.45">12</text>
<text x="600.1" y="202.4" font-size="25.5" fill="#111" stroke="#111" stroke-width="0.45">10</text>
<text x="605.5" y="233.7" font-size="25.5" fill="#111" stroke="#111" stroke-width="0.45">8</text>
<text x="604.1" y="265.9" font-size="25.5" fill="#111" stroke="#111" stroke-width="0.45">6</text>
<text x="603.2" y="297.8" font-size="25.5" fill="#111" stroke="#111" stroke-width="0.45">4</text>
<text x="599.6" y="329.0" font-size="25.5" fill="#111" stroke="#111" stroke-width="0.45">2</text>
<text x="598.7" y="358.9" font-size="25.5" fill="#111" stroke="#111" stroke-width="0.45">0</text>
<text x="557.5" y="413.8" font-size="26.2" fill="#111" stroke="#111" stroke-width="0.45">800</text>
<text x="528.4" y="447.3" font-size="26.2" fill="#111" stroke="#111" stroke-width="0.45">700</text>
<text x="495.2" y="480.3" font-size="26.2" fill="#111" stroke="#111" stroke-width="0.45">600</text>
<text x="462.6" y="514.5" font-size="26.2" fill="#111" stroke="#111" stroke-width="0.45">500</text>
<text x="430.5" y="550.0" font-size="26.2" fill="#111" stroke="#111" stroke-width="0.45">400</text>
<text x="395.0" y="585.7" font-size="26.2" fill="#111" stroke="#111" stroke-width="0.45">300</text>
<text x="4.6" y="480.2" font-size="26.3" fill="#333">0</text>
<text x="60.5" y="499.4" font-size="26.3" fill="#333">20</text>
<text x="120.9" y="519.6" font-size="26.3" fill="#333">40</text>
<text x="184.3" y="538.8" font-size="26.3" fill="#333">60</text>
<text x="246.1" y="558.9" font-size="26.3" fill="#333">80</text>
<text x="307.3" y="577.4" font-size="26.3" fill="#333">100</text>
<text transform="translate(34.5,528.2) rotate(21.3)" font-size="25.2" fill="#333">Penetration Rate(%)</text>
<text transform="translate(518.5,567.5) rotate(-49)" font-size="26" fill="#333">Flow(pcu/h)</text>
<text transform="translate(661.5,406) rotate(-87.3)" font-size="26.3" fill="#111" stroke="#111" stroke-width="0.4">Travel Time Decreasing Rate(%)</text>
</svg>
</body></html>
